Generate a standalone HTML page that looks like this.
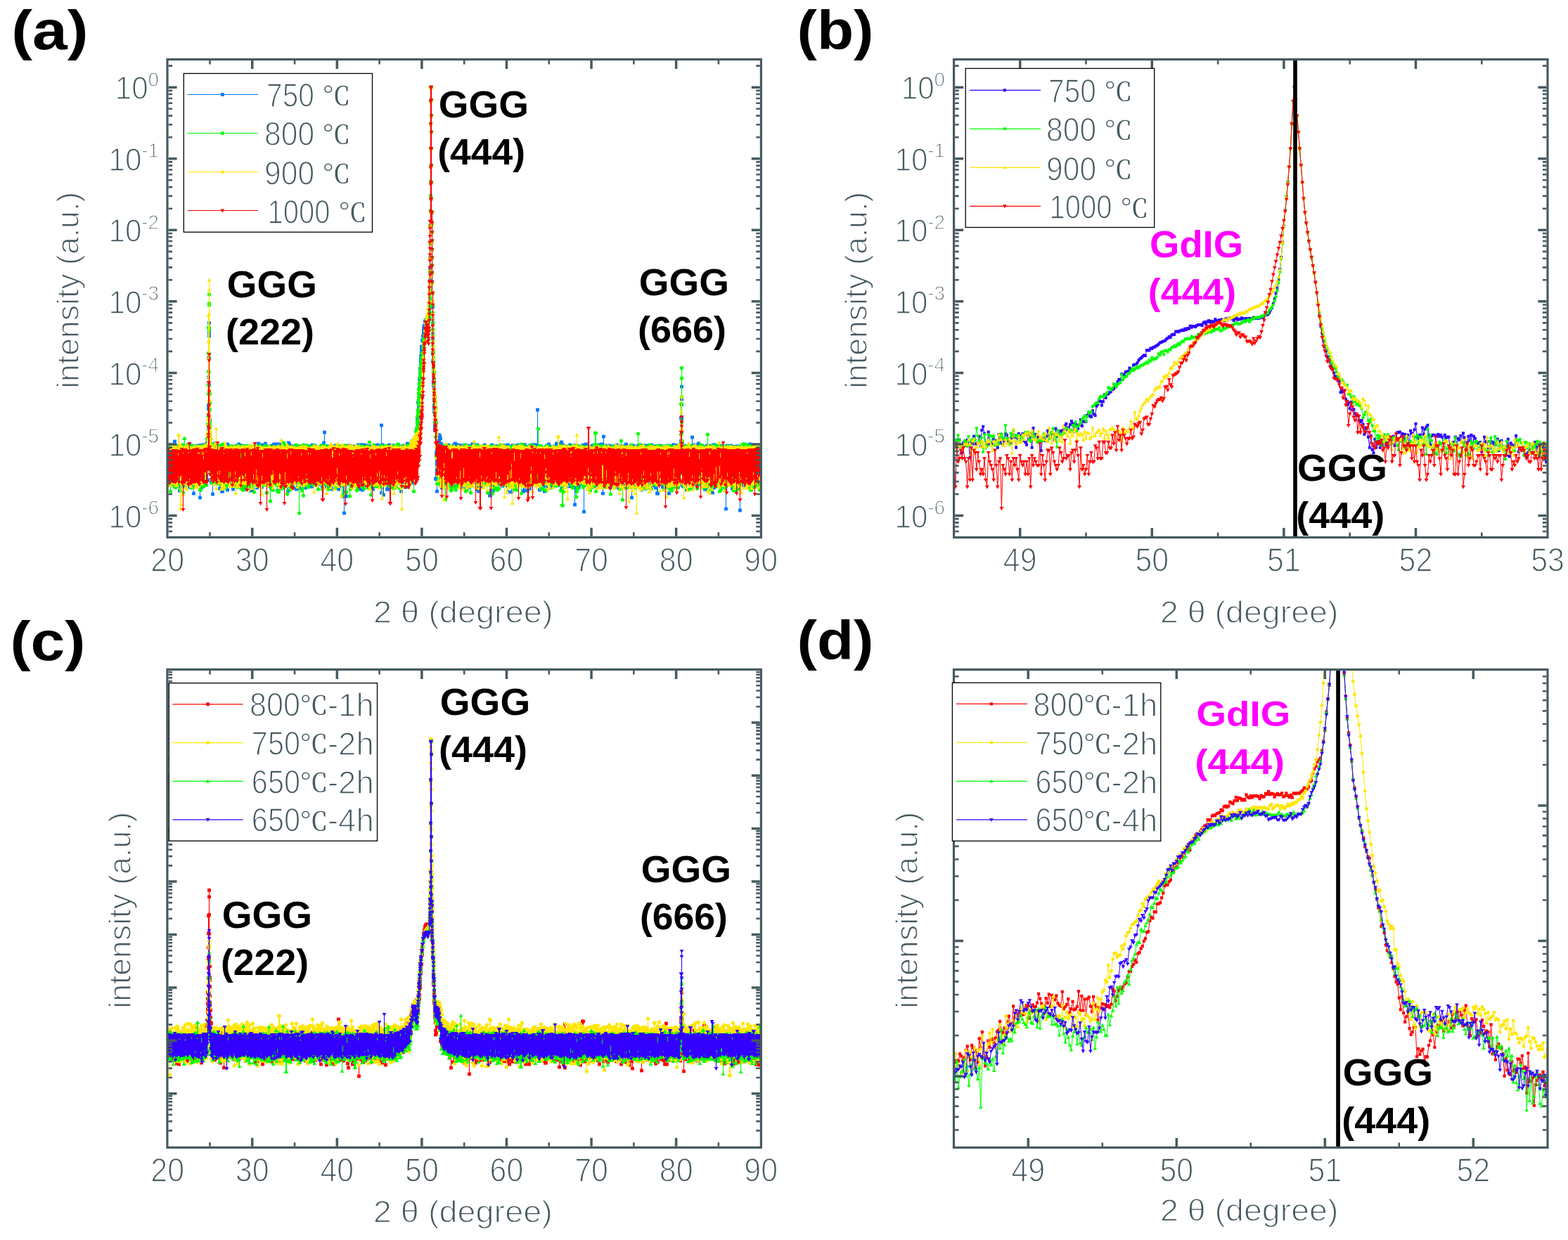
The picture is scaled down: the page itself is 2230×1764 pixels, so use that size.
<!DOCTYPE html>
<html><head><meta charset="utf-8"><title>XRD</title>
<style>html,body{margin:0;padding:0;background:#fff}svg{display:block}</style></head>
<body><svg xmlns="http://www.w3.org/2000/svg" width="2230" height="1764" viewBox="0 0 2230 1764">
<rect width="2230" height="1764" fill="#fff"/>
<defs><marker id="aB" markerUnits="userSpaceOnUse" markerWidth="1" markerHeight="1" overflow="visible" orient="0"><rect x="-2.4" y="-2.4" width="4.8" height="4.8" fill="#0078FF"/></marker><marker id="aG" markerUnits="userSpaceOnUse" markerWidth="1" markerHeight="1" overflow="visible" orient="0"><circle r="2.6" fill="#00FF00"/></marker><marker id="aY" markerUnits="userSpaceOnUse" markerWidth="1" markerHeight="1" overflow="visible" orient="0"><path d="M0 -2.91L2.91 2.12H-2.91z" fill="#FFE600"/></marker><marker id="aR" markerUnits="userSpaceOnUse" markerWidth="1" markerHeight="1" overflow="visible" orient="0"><path d="M0 2.91L2.91 -2.12H-2.91z" fill="#FF0000"/></marker><marker id="bB" markerUnits="userSpaceOnUse" markerWidth="1" markerHeight="1" overflow="visible" orient="0"><rect x="-2.0" y="-2.0" width="4.0" height="4.0" fill="#2C00FF"/></marker><marker id="bG" markerUnits="userSpaceOnUse" markerWidth="1" markerHeight="1" overflow="visible" orient="0"><circle r="2.2" fill="#00FF00"/></marker><marker id="bY" markerUnits="userSpaceOnUse" markerWidth="1" markerHeight="1" overflow="visible" orient="0"><path d="M0 -2.73L2.73 1.98H-2.73z" fill="#FFE600"/></marker><marker id="bR" markerUnits="userSpaceOnUse" markerWidth="1" markerHeight="1" overflow="visible" orient="0"><path d="M0 2.98L2.98 -2.16H-2.98z" fill="#FF0000"/></marker><marker id="cR" markerUnits="userSpaceOnUse" markerWidth="1" markerHeight="1" overflow="visible" orient="0"><rect x="-2.4" y="-2.4" width="4.8" height="4.8" fill="#FF0000"/></marker><marker id="cY" markerUnits="userSpaceOnUse" markerWidth="1" markerHeight="1" overflow="visible" orient="0"><circle r="2.6" fill="#FFE600"/></marker><marker id="cG" markerUnits="userSpaceOnUse" markerWidth="1" markerHeight="1" overflow="visible" orient="0"><path d="M0 -2.91L2.91 2.12H-2.91z" fill="#00FF00"/></marker><marker id="cB" markerUnits="userSpaceOnUse" markerWidth="1" markerHeight="1" overflow="visible" orient="0"><path d="M0 2.91L2.91 -2.12H-2.91z" fill="#3300FF"/></marker><marker id="dR" markerUnits="userSpaceOnUse" markerWidth="1" markerHeight="1" overflow="visible" orient="0"><rect x="-2.1" y="-2.1" width="4.2" height="4.2" fill="#FF0000"/></marker><marker id="dY" markerUnits="userSpaceOnUse" markerWidth="1" markerHeight="1" overflow="visible" orient="0"><circle r="2.4" fill="#FFE600"/></marker><marker id="dG" markerUnits="userSpaceOnUse" markerWidth="1" markerHeight="1" overflow="visible" orient="0"><path d="M0 -2.79L2.79 2.02H-2.79z" fill="#00FF00"/></marker><marker id="dB" markerUnits="userSpaceOnUse" markerWidth="1" markerHeight="1" overflow="visible" orient="0"><path d="M0 2.85L2.85 -2.07H-2.85z" fill="#3300FF"/></marker><clipPath id="clipa"><rect x="238.0" y="84.5" width="844.4000000000001" height="679.9"/></clipPath><clipPath id="clipb"><rect x="1356.6" y="84.5" width="844.4000000000001" height="680.0"/></clipPath><clipPath id="clipc"><rect x="237.9" y="952.4" width="844.5000000000001" height="680.0000000000001"/></clipPath><clipPath id="clipd"><rect x="1356.5" y="952.5" width="844.5" height="680.0"/></clipPath></defs>
<g clip-path="url(#clipa)"><path d="M238.5 636v49m1 -51v56m1 -54v51m1 -54v54m1 -49v49m1 -51v45m1 -38v31m1 -28v41m1 -46v46m1 -52v45m1 -52v60m1 -51v36m1 -36v53m1 -55v31m1 -30v38m1 -37v53m1 -55v51m1 -50v62m1 -63v57m1 -55v46m1 -47v36m1 -36v21m1 -23v57m1 -54v43m1 -40v53m1 -57v47m1 -46v49m1 -49v46m1 -49v48m1 -49v43m1 -39v44m1 -48v60m1 -57v43m1 -43v50m1 -52v57m1 -54v50m1 -39v37m1 -49v66m1 -62v47m1 -52v53m1 -51v39m1 -41v38m1 -38v48m1 -48v42m1 -43v53m1 -53v53m1 -52v73m1 -74v31m1 -31v42m1 -39v56m1 -60v53m1 -53v50m1 -47v52m1 -53v49m1 -50v46m1 -46v45m1 -49v53m1 -58v58m1 -173.9v27.8v40.3v4.1v10.1v19.3v7.1v7.6v6.5m1 -172.3v13.6v4.8v31.1v38.4v27.9v8.9v13.2v34.4m1 -34.9v65m1 -31v28m1 -17v44m1 -50v41m1 -40v66m1 -66v50m1 -50v51m1 -57v52m1 -52v57m1 -53v48m1 -48v50m1 -49v39m1 -39v51m1 -52v45m1 -45v60m1 -60v50m1 -50v54m1 -53v63m1 -62v62m1 -62v58m1 -59v33m1 -34v25m1 -25v52m1 -50v52m1 -52v52m1 -57v65m1 -62v50m1 -50v45m1 -42v36m1 -39v52m1 -50v39m1 -41v49m1 -48v54m1 -54v60m1 -59v53m1 -55v50m1 -50v25m1 -16v20m1 -27v53m1 -56v48m1 -47v49m1 -52v48m1 -43v44m1 -41v52m1 -58v51m1 -51v58m1 -55v48m1 -48v31m1 -31v54m1 -56v60m1 -58v59m1 -51v32m1 -41v34m1 -35v50m1 -50v49m1 -49v52m1 -51v54m1 -54v56m1 -56v62m1 -62v60m1 -61v47m1 -46v61m1 -61v26m1 -26v51m1 -51v42m1 -39v44m1 -46v39m1 -40v58m1 -58v38m1 -43v39m1 -34v45m1 -48v44m1 -43v54m1 -53v49m1 -51v60m1 -57v41m1 -41v35m1 -32v40m1 -43v35m1 -40v39m1 -35v52m1 -52v48m1 -47v40m1 -40v50m1 -46v41m1 -44v40m1 -42v50m1 -49v58m1 -60v58m1 -56v48m1 -47v34m1 -39v49m1 -48v37m1 -36v53m1 -55v55m1 -55v54m1 -51v63m1 -63v46m1 -45v39m1 -43v43m1 -40v50m1 -50v60m1 -61v46m1 -44v58m1 -59v59m1 -57v49m1 -51v52m1 -53v29m1 -26v30m1 -24v42m1 -48v40m1 -38v60m1 -69v61m1 -59v29m1 -26v45m1 -45v49m1 -49v48m1 -47v51m1 -52v52m1 -51v58m1 -57v41m1 -42v51m1 -53v46m1 -44v60m1 -57v48m1 -50v58m1 -60v44m1 -44v59m1 -58v44m1 -44v49m1 -50v48m1 -48v48m1 -46v52m1 -52v47m1 -50v46m1 -46v49m1 -46v57m1 -58v38m1 -35v49m1 -52v52m1 -52v53m1 -53v56m1 -56v47m1 -48v48m1 -48v57m1 -57v57m1 -59v58m1 -54v49m1 -50v53m1 -55v51m1 -48v51m1 -51v32m1 -19v34m1 -44v37m1 -40v52m1 -52v46m1 -46v51m1 -38v38m1 -32v28m1 -50v55m1 -52v57m1 -57v30m1 -37v57m1 -72v78m1 -57v48m1 -45v40m1 -44v49m1 -47v46m1 -48v57m1 -57v50m1 -50v58m1 -58v41m1 -39v52m1 -52v48m1 -49v60m1 -61v43m1 -41v51m1 -51v53m1 -56v47m1 -39v46m1 -53v48m1 -49v53m1 -49v37m1 -40v61m1 -61v38m1 -36v55m1 -55v54m1 -56v42m1 -42v43m1 -43v71m1 -63v63m1 -68v92m1 -95v50m1 -49v52m1 -53v71m1 -69v51m1 -54v44m1 -42v45m1 -45v32m1 -34v51m1 -49v52m1 -53v50m1 -38v40m1 -51v46m1 -42v35m1 -40v50m1 -48v53m1 -53v39m1 -39v53m1 -53v52m1 -52v46m1 -50v47m1 -44v49m1 -48v59m1 -59v39m1 -43v36m1 -34v43m1 -45v64m1 -62v48m1 -50v62m1 -53v50m1 -56v40m1 -42v41m1 -41v47m1 -45v55m1 -56v50m1 -48v48m1 -48v52m1 -54v44m1 -43v54m1 -54v47m1 -46v57m1 -45v47m1 -61v46m1 -47v39m1 -39v45m1 -44v45m1 -38v46m1 -53v53m1 -55v45m1 -42v56m1 -57v51m1 -51v45m1 -44v44m1 -75v96m1 -68v61m1 -60v56m1 -54v68m1 -61v47m1 -54v47m1 -36v35m1 -45v49m1 -49v59m1 -61v61m1 -61v47m1 -49v53m1 -51v48m1 -48v52m1 -52v42m1 -40v37m1 -40v38m1 -38v53m1 -50v46m1 -46v49m1 -49v45m1 -46v52m1 -51v41m1 -39v46m1 -50v50m1 -49v34m1 -35v36m1 -34v50m1 -50v62m1 -62v48m1 -50v50m1 -49v50m1 -52v52m1 -50v47m1 -46v56m1 -58v58m1 -56v50m1 -56v61m1 -55v33m1 -34v33m1 -35v49m1 -49v46m1 -46v44m1 -45v54m1 -54v39m1 -31v36m1 -49v31m1 -33v38m1 -34v40m1 -45v37m1 -51v51m1 -65v32m1 -56.5v19v3.3v5.9v3.2v12.9m1 -57.5v14.1v5.7v5v7.4m1 -52.3v5.9v5.5v2.9v5.8v4.4m1 -39.3v8.1v3.5v2.7v.5m1 -32.2v3.7v3.1v3v3v4.6m1 -31.3v2.8v3.3v3.1v3.1v1.6m1 -23v10m1 -16v7m1 -18.2v2.5v2.8v3.8v3.9m1 -16.8v5m1 -11v9m1 -10v4m1 -6v6m1 -8v6m1 -6v6m1 -8v6m1 -17.7v3.3v4.2v2.5v2.8v2.5m1 -132.1v23.7v21.9v15.2v16.8v9.9v8.5v6.7v8v6.1m1 -314.2v20v32.3v35.1v25.6v21.8v20.1v20.9v21.6m1 -197.4v18.3v22.6v23.1v23.4v23.7v24.5v23.2v19.3v19.3m1 -19.3v15.1v13.1v12.3v12.5v11.9v10.9v10v12.8v15.8m1 0v20.1v17v8.3v11.2v9.1v11v10.4v9.5m1 0v3.7v4.4v3.6v17.5v2.6v4.1m1 -6.7v6.3v14.8v2.6v3.4v7v4.6v4.9m1 -4.9v8.4v13.6v3.6v4v1.7m1 -5.4v74m1 -37v38m1 -50v67m1 -72v44m1 -52v40m1 -40v37m1 -36v34m1 -30v35m1 -28v57m1 -54v60m1 -60v50m1 -47v49m1 -51v54m1 -52v51m1 -53v53m1 -51v38m1 -40v48m1 -48v46m1 -48v55m1 -49v49m1 -43v49m1 -58v39m1 -40v36m1 -35v51m1 -41v41m1 -53v52m1 -49v49m1 -54v46m1 -47v59m1 -54v54m1 -57v50m1 -47v51m1 -54v50m1 -49v46m1 -43v55m1 -55v42m1 -45v53m1 -51v50m1 -52v40m1 -38v57m1 -56v49m1 -48v42m1 -47v37m1 -34v49m1 -50v49m1 -45v44m1 -49v49m1 -46v56m1 -58v54m1 -54v42m1 -33v46m1 -53v48m1 -53v35m1 -34v48m1 -48v50m1 -47v46m1 -46v50m1 -35v18m1 -34v39m1 -41v63m1 -61v61m1 -61v64m1 -63v48m1 -48v48m1 -48v55m1 -55v56m1 -56v41m1 -41v47m1 -41v41m1 -48v50m1 -52v52m1 -49v51m1 -51v40m1 -40v49m1 -49v33m1 -32v39m1 -39v43m1 -43v68m1 -70v70m1 -70v49m1 -51v54m1 -45v45m1 -48v59m1 -62v53m1 -50v35m1 -39v55m1 -53v59m1 -61v53m1 -52v47m1 -48v49m1 -48v48m1 -49v53m1 -51v52m1 -52v33m1 -30v48m1 -54v57m1 -56v56m1 -52v50m1 -55v45m1 -45v53m1 -50v52m1 -50v46m1 -47v53m1 -58v67m1 -63v36m1 -36v49m1 -49v44m1 -35v37m1 -47v64m1 -66v49m1 -49v58m1 -55v50m1 -51v50m1 -51v56m1 -57v52m1 -50v54m1 -55v35m1 -28v37m1 -46v54m1 -47v49m1 -52v39m1 -39v47m1 -47v52m1 -54v43m1 -42v43m1 -39v59m1 -66v65m1 -65v56m1 -53v45m1 -45v32m1 -31v56m1 -57v62m1 -61v42m1 -40v44m1 -49v61m1 -61v52m1 -36v35m1 -52v54m1 -53v36m1 -37v51m1 -48v34m1 -37v37m1 -25v35m1 -43v47m1 -51v41m1 -91v105m1 -51v50m1 -37v36m1 -49v60m1 -61v47m1 -48v45m1 -43v51m1 -51v51m1 -51v47m1 -38v45m1 -53v61m1 -62v50m1 -45v45m1 -53v49m1 -49v58m1 -58v38m1 -40v51m1 -46v46m1 -47v47m1 -46v57m1 -57v55m1 -56v40m1 -40v54m1 -53v51m1 -53v56m1 -55v50m1 -51v44m1 -48v54m1 -53v29m1 -29v54m1 -54v58m1 -55v30m1 -29v49m1 -41v46m1 -61v67m1 -63v61m1 -61v51m1 -47v40m1 -40v36m1 -36v39m1 -41v51m1 -49v48m1 -48v47m1 -47v53m1 -54v56m1 -55v50m1 -54v55m1 -53v46m1 -45v55m1 -54v55m1 -38v38m1 -56v47m1 -49v50m1 -48v82m1 -84v50m1 -50v65m1 -64v59m1 -58v57m1 -58v52m1 -49v55m1 -56v51m1 -46v40m1 -45v47m1 -49v53m1 -46v44m1 -53v54m1 -46v87m1 -88v43m1 -47v54m1 -58v46m1 -42v53m1 -53v52m1 -52v51m1 -50v42m1 -43v56m1 -35v29m1 -50v34m1 -33v52m1 -55v55m1 -52v46m1 -46v40m1 -44v57m1 -56v58m1 -55v42m1 -45v35m1 -34v51m1 -50v46m1 -46v27m1 -30v56m1 -48v44m1 -46v44m1 -51v46m1 -43v48m1 -49v68m1 -81v59m1 -44v42m1 -44v49m1 -46v50m1 -50v46m1 -48v51m1 -50v50m1 -50v53m1 -55v53m1 -49v55m1 -49v49m1 -57v48m1 -49v52m1 -50v50m1 -52v42m1 -41v51m1 -52v32m1 -32v49m1 -48v49m1 -52v58m1 -54v40m1 -40v57m1 -58v47m1 -41v37m1 -44v54m1 -53v53m1 -53v53m1 -53v50m1 -51v50m1 -50v54m1 -52v56m1 -59v59m1 -61v39m1 -36v49m1 -41v48m1 -55v41m1 -41v54m1 -39v37m1 -40v42m1 -56v49m1 -48v73m1 -69v38m1 -43v48m1 -45v47m1 -47v42m1 -44v55m1 -50v49m1 -52v54m1 -56v53m1 -38v37m1 -53v54m1 -54v49m1 -50v51m1 -47v48m1 -37v49m1 -60v53m1 -56v53m1 -53v37m1 -35v48m1 -48v50m1 -50v41m1 -43v54m1 -51v57m1 -48v46m1 -51v48m1 -53v32m1 -32v35m1 -34v50m1 -54v49m1 -47v56m1 -56v43m1 -43v35m1 -34v48m1 -49v55m1 -54v58m1 -59v34m1 -32v65m1 -66v66m1 -66v50m1 -50v50m1 -52v23m1 -22v48m1 -47v42m1 -35v46m1 -54v58m1 -48v43m1 -51v49m1 -50v50m1 -51v51m1 -51v58m1 -56v54m1 -48v40m1 -48v51m1 -52v68m1 -65v36m1 -38v54m1 -53v50m1 -49v55m1 -56v42m1 -45v23m1 -23v50m1 -48v58m1 -55v40m1 -38v41m1 -47v42m1 -42v38m1 -38v59m1 -46v27m1 -38v54m1 -55v35m1 -75.7v33v4.2v3.7v9.4v8.4v4.6v8.6v3.9m1 -120.1v17.9v7.5v18.9v4.3v17.4v19.2v14.2v12.2v8.5m1 -38.1v40m1 -36v56m1 -58v44m1 -42v43m1 -42v54m1 -56v48m1 -47v61m1 -62v62m1 -62v38m1 -38v46m1 -44v44m1 -47v31m1 -30v49m1 -36v40m1 -66v72m1 -59v55m1 -57v40m1 -27v37m1 -47v52m1 -47v40m1 -44v52m1 -52v55m1 -59v48m1 -50v43m1 -36v45m1 -46v52m1 -53v50m1 -52v26m1 -26v52m1 -51v47m1 -45v38m1 -38v50m1 -50v59m1 -60v60m1 -56v50m1 -56v59m1 -47v27m1 -36v47m1 -48v50m1 -50v55m1 -57v47m1 -44v47m1 -49v47m1 -46v65m1 -61v44m1 -51v61m1 -61v42m1 -38v48m1 -50v45m1 -45v52m1 -42v47m1 -56v56m1 -57v56m1 -54v46m1 -46v48m1 -31v32m1 -51v56m1 -57v55m1 -52v51m1 -45v39m1 -45v41m1 -40v58m1 -60v88m1 -88v33m1 -35v52m1 -51v53m1 -51v52m1 -52v52m1 -49v50m1 -56v40m1 -39v51m1 -50v59m1 -59v52m1 -42v38m1 -47v58m1 -58v60m1 -61v61m1 -62v57m1 -56v59m1 -60v60m1 -58v50m1 -50v44m1 -45v90m1 -89v50m1 -52v54m1 -54v54m1 -54v54m1 -57v52m1 -48v55m1 -54v54m1 -54v40m1 -40v47m1 -41v35m1 -43v43m1 -43v52m1 -51v27m1 -31v57m1 -56v47m1 -47v40m1 -38v35m1 -34v48m1 -48v52m1 -52v54m1 -55v57m1 -58v56m1 -56v48m1 -45v49m1 -50v50m1 -50v51m1 -41v43m1 -48v42m1 -47v53m1 -55v13" fill="none" stroke="#0078FF" stroke-width="1.1" stroke-linejoin="round" marker-start="url(#aB)" marker-mid="url(#aB)" marker-end="url(#aB)"/><path d="M238.5 647v7m1 -19v34m1 -31v48m1 -48v40m1 -40v61m1 -60v51m1 -54v52m1 -53v54m1 -53v45m1 -45v53m1 -45v49m1 -49v49m1 -58v58m1 -57v49m1 -44v50m1 -53v49m1 -49v50m1 -50v33m1 -35v61m1 -59v47m1 -47v53m1 -58v38m1 -38v68m1 -65v36m1 -48v59m1 -46v48m1 -49v36m1 -34v47m1 -47v41m1 -40v50m1 -57v53m1 -48v49m1 -46v40m1 -45v41m1 -38v56m1 -60v52m1 -51v51m1 -49v48m1 -49v55m1 -54v42m1 -42v35m1 -35v42m1 -44v44m1 -44v44m1 -43v45m1 -43v50m1 -51v60m1 -51v51m1 -61v35m1 -37v57m1 -54v41m1 -43v57m1 -57v46m1 -44v42m1 -39v50m1 -57v57m1 -66v48m1 -69v58m1 -195.1v36.4v26v19.5v12.7v31.9v10.9v3.4m1 -187.9v12.7v2.6v31.8v3.6v34.2v26.3v30.2v46.5m1 -46.2v12.9v9.3v18.5v4.1v2.7v10.9v23m1 -16.9v37m1 -31v40m1 -36v52m1 -51v48m1 -49v34m1 -34v38m1 -38v53m1 -52v49m1 -50v30m1 -28v46m1 -47v39m1 -38v38m1 -41v54m1 -54v51m1 -49v53m1 -51v46m1 -48v48m1 -52v61m1 -61v52m1 -46v48m1 -49v48m1 -50v59m1 -57v42m1 -38v50m1 -54v32m1 -26v45m1 -51v52m1 -44v39m1 -49v41m1 -41v56m1 -54v54m1 -54v31m1 -33v49m1 -48v48m1 -48v40m1 -40v50m1 -50v51m1 -50v56m1 -59v39m1 -36v39m1 -41v49m1 -49v52m1 -52v55m1 -54v58m1 -58v52m1 -52v60m1 -61v62m1 -63v63m1 -47v38m1 -53v39m1 -36v54m1 -55v36m1 -35v35m1 -39v54m1 -52v52m1 -50v54m1 -57v48m1 -46v49m1 -50v45m1 -43v52m1 -54v52m1 -49v41m1 -45v65m1 -65v51m1 -50v50m1 -51v54m1 -53v49m1 -49v28m1 -27v54m1 -54v49m1 -52v41m1 -39v47m1 -36v29m1 -39v54m1 -54v43m1 -44v42m1 -42v48m1 -46v47m1 -51v52m1 -50v54m1 -53v64m1 -64v37m1 -37v50m1 -52v44m1 -42v55m1 -56v77m1 -77v53m1 -52v55m1 -47v52m1 -60v60m1 -61v42m1 -41v51m1 -50v48m1 -49v32m1 -31v52m1 -54v63m1 -63v44m1 -43v63m1 -63v44m1 -46v37m1 -34v40m1 -40v57m1 -60v50m1 -55v51m1 -51v64m1 -60v51m1 -50v44m1 -44v50m1 -50v41m1 -42v69m1 -68v56m1 -55v55m1 -55v46m1 -46v61m1 -61v56m1 -42v42m1 -54v49m1 -50v49m1 -48v47m1 -49v32m1 -27v43m1 -42v37m1 -46v52m1 -47v47m1 -50v58m1 -57v45m1 -40v89m1 -93v51m1 -51v49m1 -51v37m1 -38v64m1 -61v58m1 -62v72m1 -70v42m1 -40v47m1 -48v51m1 -50v52m1 -55v55m1 -55v51m1 -47v55m1 -56v53m1 -53v49m1 -49v47m1 -47v48m1 -49v50m1 -50v46m1 -48v56m1 -56v52m1 -49v53m1 -53v38m1 -37v46m1 -48v51m1 -51v48m1 -47v59m1 -59v29m1 -27v31m1 -33v46m1 -49v50m1 -50v55m1 -54v61m1 -56v35m1 -38v45m1 -46v49m1 -51v54m1 -51v51m1 -51v51m1 -51v50m1 -51v60m1 -44v44m1 -59v42m1 -41v50m1 -51v54m1 -55v48m1 -47v45m1 -45v47m1 -49v33m1 -31v41m1 -41v47m1 -47v57m1 -57v49m1 -49v48m1 -50v49m1 -46v41m1 -42v51m1 -53v53m1 -53v51m1 -48v50m1 -51v50m1 -50v67m1 -63v48m1 -48v41m1 -48v38m1 -35v32m1 -20v51m1 -64v47m1 -48v27m1 -25v51m1 -52v47m1 -46v69m1 -70v60m1 -41v38m1 -58v35m1 -33v33m1 -32v49m1 -49v31m1 -32v54m1 -54v52m1 -52v46m1 -47v62m1 -61v59m1 -59v36m1 -39v43m1 -40v36m1 -33v34m1 -38v41m1 -42v56m1 -55v32m1 -32v56m1 -54v57m1 -59v50m1 -50v50m1 -49v47m1 -47v52m1 -54v53m1 -50v56m1 -58v58m1 -65v58m1 -49v52m1 -52v66m1 -66v49m1 -50v40m1 -30v37m1 -51v56m1 -51v49m1 -27v27m1 -50v55m1 -55v35m1 -34v45m1 -45v54m1 -56v52m1 -52v56m1 -56v51m1 -53v54m1 -45v41m1 -47v54m1 -44v33m1 -36v42m1 -51v49m1 -47v45m1 -48v53m1 -51v45m1 -46v52m1 -51v52m1 -52v53m1 -52v48m1 -49v55m1 -55v38m1 -37v50m1 -53v53m1 -19v26m1 -59v40m1 -39v59m1 -60v50m1 -42v49m1 -58v59m1 -58v53m1 -56v47m1 -47v48m1 -29v23m1 -37v58m1 -59v48m1 -48v38m1 -37v36m1 -35v36m1 -39v42m1 -43v43m1 -39v54m1 -55v38m1 -38v46m1 -45v52m1 -55v31m1 -31v53m1 -55v55m1 -55v31m1 -31v51m1 -53v50m1 -54v53m1 -51v49m1 -51v44m1 -45v73m1 -74v36m1 -19v30m1 -58v46m1 -50v43m1 -60v6.5v2.8v4.1v15.3v6.6m1 -44.9v2.7v3.7v8.7v10.4v3.7m1 -59.4v5.7v5.4v4v3.9v3.3v9m1 -39.9v2.8v5.8v3.7v4m1 -33.1v4.9v2.7v3.3v7.2v8m1 -35.3v3.3v2.6v3.3v9.8m1 -29.3v4.4v3.6v3.1v2.6v1.6m1 -21.6v9m1 -17v10m1 -21.3v3.9v3.3v4.6v1.5m1 -19v10m1 -16v9m1 -11v7m1 -12v7m1 -10v4m1 -11v8m1 -12v7m1 -21.4v3.9v3.8v3.7v3.1v1.3m1 -129.4v24.3v21.6v18.6v14.5v12.5v9.2v5.4v3.7v3.8m1 -311.4v19.9v32.1v35.4v25.3v21.7v20.1v21v22.3m1 -197.8v18.3v22.4v23.3v23.3v23.8v24.3v23.4v18.9v20.1m1 -20.1v16.2v12.1v12.5v11.8v12.1v10.5v11.5v14.1v14.5m1 0v16.7v11.2v13.9v9.7v8.4v8.5v6.6v8.6m1 0v5.7v5v5.6v6v4.3v1.8m1 0v9.1v4.9v3.3v8.7v3v9.2m1 -2.9v2.9v6v6.3v9v12.3m1 -20.2v13.7v4.8v2.9v19.2m1 -20.4v48m1 -14v53m1 -45v32m1 -41v25m1 -25v45m1 -42v50m1 -50v54m1 -43v29m1 -34v44m1 -52v38m1 -37v36m1 -37v52m1 -50v40m1 -43v77m1 -76v52m1 -44v27m1 -34v53m1 -54v54m1 -53v58m1 -59v28m1 -20v42m1 -48v61m1 -55v54m1 -61v38m1 -39v48m1 -47v57m1 -56v50m1 -51v51m1 -43v53m1 -60v40m1 -32v39m1 -48v56m1 -55v53m1 -53v54m1 -43v30m1 -40v50m1 -50v51m1 -51v38m1 -39v42m1 -43v49m1 -49v37m1 -40v41m1 -39v64m1 -62v59m1 -59v59m1 -59v52m1 -52v35m1 -37v46m1 -45v44m1 -35v56m1 -61v36m1 -39v51m1 -51v41m1 -42v36m1 -35v35m1 -38v50m1 -47v47m1 -50v43m1 -42v45m1 -45v54m1 -54v54m1 -52v48m1 -50v56m1 -52v43m1 -47v35m1 -34v52m1 -53v55m1 -53v48m1 -49v46m1 -46v41m1 -42v37m1 -36v53m1 -53v54m1 -53v64m1 -65v40m1 -40v44m1 -43v46m1 -48v26m1 -24v54m1 -56v46m1 -41v62m1 -66v49m1 -50v50m1 -44v53m1 -53v55m1 -59v58m1 -51v43m1 -50v60m1 -62v40m1 -38v58m1 -60v41m1 -43v43m1 -41v50m1 -50v35m1 -33v53m1 -52v32m1 -34v35m1 -36v36m1 -34v48m1 -49v39m1 -39v34m1 -33v49m1 -50v36m1 -36v53m1 -51v54m1 -56v54m1 -53v53m1 -40v34m1 -48v49m1 -49v51m1 -53v47m1 -45v60m1 -60v56m1 -55v56m1 -57v61m1 -60v46m1 -46v36m1 -38v48m1 -49v49m1 -47v39m1 -42v57m1 -58v70m1 -65v41m1 -43v26m1 -26v52m1 -53v50m1 -46v50m1 -47v46m1 -49v18m1 -19v35m1 -35v43m1 -44v48m1 -48v53m1 -47v47m1 -52v52m1 -56v50m1 -48v51m1 -50v45m1 -30v38m1 -53v50m1 -51v49m1 -47v38m1 -38v44m1 -44v47m1 -47v46m1 -73v73m1 -46v49m1 -49v45m1 -48v51m1 -47v57m1 -50v41m1 -48v49m1 -49v58m1 -59v50m1 -51v37m1 -37v36m1 -34v60m1 -61v51m1 -54v29m1 -28v38m1 -36v33m1 -32v37m1 -34v46m1 -49v49m1 -49v51m1 -53v49m1 -31v32m1 -50v53m1 -53v55m1 -53v47m1 -47v46m1 -47v53m1 -54v55m1 -54v47m1 -41v42m1 -49v20m1 -21v49m1 -27v41m1 -64v46m1 -42v81m1 -82v82m1 -83v64m1 -63v47m1 -49v54m1 -53v53m1 -52v48m1 -47v38m1 -38v45m1 -48v29m1 -22v42m1 -47v47m1 -47v40m1 -41v54m1 -53v40m1 -43v60m1 -56v45m1 -47v53m1 -54v50m1 -41v41m1 -47v69m1 -73v65m1 -62v36m1 -35v57m1 -58v48m1 -50v46m1 -43v47m1 -48v48m1 -50v52m1 -49v51m1 -46v50m1 -57v51m1 -47v46m1 -49v53m1 -46v46m1 -50v33m1 -37v51m1 -52v45m1 -43v57m1 -58v48m1 -47v61m1 -61v46m1 -46v46m1 -46v56m1 -55v50m1 -52v55m1 -58v55m1 -72v66m1 -66v83m1 -66v57m1 -55v53m1 -53v54m1 -52v47m1 -47v50m1 -41v39m1 -48v50m1 -53v41m1 -37v46m1 -47v50m1 -49v49m1 -52v57m1 -56v54m1 -38v41m1 -56v55m1 -56v26m1 -27v16m1 -14v51m1 -52v48m1 -48v47m1 -40v60m1 -62v47m1 -52v53m1 -52v24m1 -26v52m1 -51v42m1 -42v57m1 -57v40m1 -39v48m1 -48v48m1 -48v41m1 -41v48m1 -49v40m1 -35v55m1 -58v29m1 -40v59m1 -49v46m1 -47v75m1 -76v47m1 -46v43m1 -40v41m1 -42v48m1 -49v34m1 -34v57m1 -58v45m1 -44v50m1 -51v42m1 -41v43m1 -46v54m1 -55v51m1 -37v41m1 -51v48m1 -38v39m1 -48v38m1 -40v45m1 -38v51m1 -57v51m1 -51v34m1 -34v55m1 -75v75m1 -55v52m1 -56v52m1 -50v52m1 -50v48m1 -44v48m1 -51v36m1 -37v24m1 -26v46m1 -46v58m1 -56v58m1 -55v55m1 -59v35m1 -33v46m1 -43v49m1 -55v46m1 -48v44m1 -41v34m1 -27v27m1 -36v62m1 -60v48m1 -44v43m1 -47v52m1 -51v42m1 -43v21m1 -20v51m1 -51v53m1 -53v43m1 -46v48m1 -46v50m1 -50v49m1 -50v39m1 -39v34m1 -33v28m1 -27v49m1 -49v50m1 -39v32m1 -45v62m1 -62v55m1 -51v51m1 -54v49m1 -48v54m1 -53v52m1 -56v46m1 -42v38m1 -42v61m1 -59v55m1 -55v47m1 -43v58m1 -57v50m1 -42v44m1 -57v48m1 -48v55m1 -53v39m1 -40v54m1 -56v49m1 -37v47m1 -44v40m1 -53v50m1 -50v50m1 -54v41m1 -99.5v43.7v13.2v3.2v6.9v9.6v10.9m1 -138.6v14.8v26.3v10v26.1v17.4v10v15.3v18.7m1 -35v36m1 -29v53m1 -51v55m1 -55v51m1 -50v51m1 -51v49m1 -51v28m1 -28v44m1 -42v38m1 -42v29m1 -25v59m1 -62v50m1 -48v50m1 -48v48m1 -36v43m1 -58v45m1 -45v54m1 -53v49m1 -50v51m1 -51v51m1 -49v45m1 -45v58m1 -59v51m1 -49v37m1 -40v53m1 -50v48m1 -53v53m1 -49v47m1 -50v52m1 -49v49m1 -46v54m1 -57v48m1 -49v58m1 -58v51m1 -50v51m1 -51v53m1 -72v61m1 -42v54m1 -54v41m1 -42v48m1 -47v60m1 -61v61m1 -63v58m1 -51v51m1 -55v47m1 -47v49m1 -49v47m1 -50v55m1 -55v47m1 -46v49m1 -49v44m1 -42v47m1 -43v51m1 -56v63m1 -63v57m1 -57v61m1 -58v54m1 -58v57m1 -47v47m1 -58v54m1 -50v50m1 -52v53m1 -52v56m1 -56v54m1 -56v44m1 -44v51m1 -50v32m1 -19v33m1 -37v27m1 -35v42m1 -42v27m1 -28v48m1 -46v54m1 -55v61m1 -61v59m1 -58v56m1 -58v53m1 -40v47m1 -60v36m1 -34v58m1 -60v53m1 -52v53m1 -55v44m1 -44v45m1 -44v51m1 -51v48m1 -52v52m1 -52v46m1 -44v51m1 -48v47m1 -52v55m1 -41v42m1 -55v50m1 -34v42m1 -51v54m1 -59v45m1 -36v50m1 -50v53m1 -63v63m1 -60v40m1 -37v54m1 -56v48m1 -50v50m1 -50v44m1 -46v46m1 -44v34m1 -35v57m1 -54v51m1 -48v34m1 -39v34m1 -33v60m1 -59v50m1 -51v51" fill="none" stroke="#00FF00" stroke-width="1.1" stroke-linejoin="round" marker-start="url(#aG)" marker-mid="url(#aG)" marker-end="url(#aG)"/><path d="M238.5 636v37m1 -35v49m1 -50v52m1 -51v41m1 -40v52m1 -56v44m1 -40v48m1 -52v28m1 -27v29m1 -27v50m1 -45v44m1 -53v53m1 -48v52m1 -54v54m1 -53v49m1 -68v54m1 -54v67m1 -48v40m1 -44v90m1 -90v51m1 -48v81m1 -81v51m1 -50v65m1 -66v44m1 -45v51m1 -49v56m1 -57v51m1 -54v62m1 -59v49m1 -48v52m1 -53v43m1 -44v49m1 -49v30m1 -27v53m1 -54v34m1 -35v47m1 -47v49m1 -49v51m1 -49v46m1 -50v59m1 -56v56m1 -55v54m1 -57v57m1 -58v37m1 -31v33m1 -38v55m1 -56v43m1 -41v48m1 -48v51m1 -52v52m1 -52v31m1 -31v43m1 -45v40m1 -39v38m1 -38v45m1 -47v52m1 -67v54m1 -75.8v8v10.4v3.8v14.1v3.8v4m1 -191.8v37.4v23.6v27v13.4v19.4v16.9v10.8m1 -198.7v14.4v33.7v37.4v21.6v24.5v26v41.1m1 -41.1v12.9v9.3v15.9v12.9v5.2v7.6v16.8m1 -22.5v44m1 -35v43m1 -31v42m1 -42v44m1 -28v30m1 -44v52m1 -58v50m1 -30v32m1 -73v85m1 -57v46m1 -48v50m1 -50v51m1 -49v49m1 -48v41m1 -42v37m1 -37v58m1 -59v59m1 -53v50m1 -55v57m1 -58v54m1 -56v58m1 -62v46m1 -42v51m1 -50v44m1 -41v48m1 -50v49m1 -47v22m1 -22v51m1 -54v40m1 -40v56m1 -55v52m1 -50v50m1 -51v54m1 -57v57m1 -54v46m1 -47v51m1 -51v65m1 -59v40m1 -47v56m1 -57v39m1 -36v51m1 -53v53m1 -50v53m1 -36v33m1 -53v44m1 -43v51m1 -53v49m1 -40v43m1 -37v38m1 -52v52m1 -41v26m1 -37v49m1 -48v47m1 -49v51m1 -51v62m1 -62v31m1 -25v43m1 -47v47m1 -47v58m1 -62v62m1 -58v42m1 -41v47m1 -47v47m1 -47v51m1 -54v37m1 -37v50m1 -46v53m1 -55v48m1 -41v42m1 -49v37m1 -37v40m1 -41v37m1 -35v65m1 -66v66m1 -66v37m1 -33v46m1 -49v42m1 -43v51m1 -49v49m1 -50v44m1 -43v52m1 -53v46m1 -46v53m1 -56v50m1 -47v50m1 -51v42m1 -41v41m1 -41v52m1 -41v40m1 -53v58m1 -57v47m1 -47v43m1 -44v40m1 -39v49m1 -49v46m1 -38v44m1 -54v40m1 -40v47m1 -44v54m1 -54v56m1 -45v45m1 -68v58m1 -50v32m1 -28v50m1 -50v50m1 -50v28m1 -28v47m1 -48v51m1 -53v27m1 -29v58m1 -56v56m1 -53v49m1 -49v53m1 -54v40m1 -41v41m1 -41v49m1 -47v57m1 -59v50m1 -50v49m1 -48v51m1 -45v45m1 -50v40m1 -40v45m1 -44v44m1 -45v55m1 -56v41m1 -34v46m1 -52v46m1 -49v36m1 -34v46m1 -46v49m1 -48v51m1 -54v43m1 -42v55m1 -55v49m1 -49v47m1 -47v52m1 -51v39m1 -38v34m1 -34v47m1 -34v34m1 -47v43m1 -34v34m1 -44v48m1 -40v38m1 -42v44m1 -49v49m1 -50v65m1 -65v41m1 -40v38m1 -38v49m1 -49v27m1 -24v52m1 -55v46m1 -43v46m1 -48v51m1 -51v51m1 -48v34m1 -37v46m1 -47v31m1 -31v59m1 -59v57m1 -56v44m1 -45v48m1 -46v48m1 -47v63m1 -63v36m1 -32v44m1 -52v50m1 -47v47m1 -49v48m1 -52v62m1 -62v47m1 -43v54m1 -55v26m1 -23v48m1 -50v60m1 -59v53m1 -50v49m1 -55v47m1 -47v50m1 -53v54m1 -48v55m1 -54v48m1 -48v45m1 -45v36m1 -40v72m1 -68v51m1 -56v38m1 -33v48m1 -48v52m1 -53v51m1 -51v51m1 -52v50m1 -50v43m1 -43v45m1 -44v39m1 -42v45m1 -33v37m1 -47v50m1 -52v45m1 -45v60m1 -57v54m1 -54v58m1 -58v48m1 -48v51m1 -53v56m1 -55v43m1 -42v52m1 -54v50m1 -49v40m1 -40v45m1 -45v45m1 -42v41m1 -34v42m1 -51v48m1 -49v48m1 -46v47m1 -30v22m1 -39v31m1 -31v47m1 -49v52m1 -52v52m1 -50v54m1 -55v55m1 -55v52m1 -51v58m1 -58v58m1 -57v46m1 -48v38m1 -41v46m1 -42v47m1 -32v37m1 -54v49m1 -48v32m1 -33v50m1 -49v51m1 -51v43m1 -38v48m1 -54v50m1 -47v55m1 -55v49m1 -50v47m1 -48v37m1 -38v73m1 -73v53m1 -48v50m1 -54v45m1 -46v54m1 -53v50m1 -52v44m1 -41v28m1 -29v44m1 -43v47m1 -49v28m1 -27v43m1 -45v46m1 -47v52m1 -48v30m1 -29v33m1 -29v44m1 -41v56m1 -66v44m1 -45v58m1 -55v51m1 -51v48m1 -50v51m1 -50v50m1 -33v25m1 -41v49m1 -51v56m1 -55v58m1 -58v87m1 -87v45m1 -44v44m1 -45v44m1 -46v54m1 -54v49m1 -48v49m1 -48v39m1 -38v50m1 -49v45m1 -48v58m1 -59v47m1 -49v54m1 -59v47m1 -47v39m1 -39v38m1 -41v50m1 -52v40m1 -42v42m1 -44v41m1 -42v43m1 -44v43m1 -43v35m1 -36v40m1 -43v43m1 -42v39m1 -46v35m1 -62.5v9.5v7.2v7.6v10.6v4.3m1 -62.8v11.6v3.6v3.7v4.7v3.2v6.1v3.6m1 -49.8v3.4v3.7v3.9v2.7v5.2v4.2m1 -45.1v6.6v3.7v12.9v2.2m1 -44.9v5.7v2.9v3.4v4.8v5.7v3.6m1 -40.6v2.8v6v4.1v1.6m1 -31.8v4.7v3v6.5v3.1m1 -27.6v10m1 -18.5v3v3.3v4.7v1.7m1 -16.2v7m1 -15v9m1 -18v10m1 -23.5v3.4v7.1v2.5v.9m1 -109.3v24.2v21v17.3v10.3v5.1v5v4.7v5.1v2.7m1 -292.3v19.9v32.2v35.1v25.5v22.5v20.9v19.5v21.3m1 -196.9v18.2v22.4v23.4v23.4v23.8v24.1v22.9v19.5v19.2m1 -19.2v15.6v13v13.4v11.4v11.1v12v10.8v13.8v12.8m1 0v11.8v18.1v6.7v10v8.5v6.8v6.5v8.7m1 0v4.6v7.3v5.5v6.4v2.8v6.3m1 0v6.3v9.1v6.3v4.7v2.7v7v2.2m1 -6.3v2.9v2.6v2.9v3.8v13.5m1 -13.7v5.6v6.4v4.2v7.2v.7m1 -7.9v20.3v4.1v2.9v4.6v11.1v6.4v16.4m1 -33.8v46m1 -32v44m1 -42v50m1 -39v28m1 -28v32m1 -39v54m1 -56v56m1 -55v49m1 -47v52m1 -53v56m1 -58v75m1 -74v47m1 -47v41m1 -47v39m1 -33v54m1 -49v46m1 -52v58m1 -57v47m1 -47v45m1 -44v47m1 -51v48m1 -45v46m1 -46v44m1 -44v42m1 -44v51m1 -48v35m1 -36v45m1 -44v46m1 -47v50m1 -40v33m1 -45v41m1 -41v50m1 -47v56m1 -57v54m1 -54v52m1 -52v50m1 -52v52m1 -49v58m1 -58v51m1 -52v54m1 -54v52m1 -52v50m1 -52v48m1 -48v59m1 -57v44m1 -43v54m1 -50v44m1 -48v54m1 -32v32m1 -55v42m1 -43v53m1 -55v41m1 -41v58m1 -64v57m1 -48v33m1 -33v48m1 -49v58m1 -58v47m1 -36v36m1 -46v52m1 -44v50m1 -60v41m1 -40v44m1 -44v53m1 -53v48m1 -47v45m1 -47v59m1 -57v57m1 -56v36m1 -38v45m1 -47v50m1 -50v56m1 -52v59m1 -59v51m1 -54v50m1 -42v45m1 -40v33m1 -37v49m1 -56v56m1 -56v34m1 -35v52m1 -51v42m1 -39v48m1 -52v50m1 -49v53m1 -53v50m1 -50v49m1 -45v41m1 -60v60m1 -34v36m1 -47v30m1 -25v46m1 -53v41m1 -43v53m1 -50v48m1 -39v40m1 -50v72m1 -71v53m1 -51v47m1 -48v47m1 -41v57m1 -64v59m1 -59v50m1 -40v34m1 -28v40m1 -46v43m1 -40v40m1 -27v54m1 -78v55m1 -58v58m1 -55v49m1 -52v48m1 -46v40m1 -40v50m1 -51v51m1 -51v54m1 -55v56m1 -56v50m1 -50v56m1 -57v57m1 -53v50m1 -52v48m1 -48v56m1 -55v54m1 -53v36m1 -36v44m1 -45v55m1 -40v37m1 -51v40m1 -41v50m1 -38v44m1 -58v52m1 -50v41m1 -37v37m1 -40v51m1 -51v50m1 -51v62m1 -61v39m1 -42v53m1 -51v51m1 -50v51m1 -47v51m1 -50v46m1 -52v33m1 -33v48m1 -47v52m1 -53v54m1 -46v40m1 -47v50m1 -51v50m1 -49v41m1 -42v48m1 -48v50m1 -49v44m1 -43v41m1 -41v40m1 -44v53m1 -51v52m1 -43v50m1 -58v56m1 -56v55m1 -55v45m1 -34v30m1 -41v34m1 -36v34m1 -34v58m1 -57v47m1 -48v33m1 -31v51m1 -52v52m1 -52v52m1 -49v45m1 -64v68m1 -68v54m1 -40v52m1 -52v35m1 -33v39m1 -40v54m1 -54v50m1 -50v53m1 -54v51m1 -51v59m1 -55v48m1 -52v54m1 -52v62m1 -60v51m1 -54v74m1 -74v44m1 -44v49m1 -48v43m1 -43v33m1 -34v26m1 -21v46m1 -50v50m1 -53v35m1 -34v50m1 -49v52m1 -51v52m1 -56v52m1 -66v66m1 -48v41m1 -33v39m1 -48v51m1 -49v31m1 -32v42m1 -42v49m1 -50v46m1 -46v42m1 -40v48m1 -38v40m1 -50v49m1 -50v48m1 -48v47m1 -47v59m1 -58v56m1 -59v56m1 -55v59m1 -59v65m1 -64v50m1 -49v54m1 -54v54m1 -47v35m1 -43v39m1 -39v51m1 -52v26m1 -25v52m1 -51v51m1 -53v59m1 -56v30m1 -32v49m1 -51v59m1 -55v48m1 -50v54m1 -53v48m1 -47v29m1 -29v55m1 -57v54m1 -51v50m1 -55v54m1 -54v37m1 -35v45m1 -45v47m1 -46v56m1 -57v53m1 -55v52m1 -48v35m1 -36v36m1 -35v35m1 -37v41m1 -40v51m1 -46v32m1 -37v45m1 -45v57m1 -58v55m1 -58v56m1 -56v41m1 -39v55m1 -54v33m1 -36v57m1 -53v42m1 -42v64m1 -66v56m1 -56v56m1 -53v44m1 -48v58m1 -37v39m1 -59v50m1 -49v48m1 -48v54m1 -43v43m1 -55v46m1 -46v54m1 -54v52m1 -53v78m1 -75v31m1 -32v57m1 -55v52m1 -56v50m1 -48v61m1 -54v48m1 -54v50m1 -51v49m1 -50v66m1 -66v57m1 -56v93m1 -91v36m1 -37v54m1 -55v39m1 -39v57m1 -59v59m1 -58v61m1 -61v38m1 -30v51m1 -62v55m1 -49v46m1 -49v55m1 -47v44m1 -46v22m1 -24v54m1 -57v56m1 -55v55m1 -56v33m1 -32v62m1 -64v35m1 -36v61m1 -59v53m1 -54v45m1 -27v13m1 -31v45m1 -45v43m1 -42v50m1 -48v40m1 -43v43m1 -42v52m1 -51v45m1 -47v54m1 -52v28m1 -27v59m1 -61v51m1 -43v41m1 -45v42m1 -46v48m1 -47v49m1 -52v63m1 -58v46m1 -50v41m1 -41v51m1 -50v70m1 -70v41m1 -43v54m1 -51v54m1 -52v44m1 -46v51m1 -42v40m1 -49v53m1 -53v47m1 -46v49m1 -52v53m1 -54v55m1 -54v46m1 -44v58m1 -58v50m1 -53v41m1 -39v53m1 -57v56m1 -49v27m1 -33v52m1 -76v57m1 -102.7v21.6v23.8v8.4v7.6v5.2v3.6v14.8v18m1 -31.3v45m1 -41v48m1 -49v69m1 -70v53m1 -55v39m1 -37v56m1 -58v47m1 -45v60m1 -62v38m1 -43v55m1 -50v54m1 -53v53m1 -53v55m1 -54v48m1 -49v53m1 -49v56m1 -63v57m1 -55v48m1 -49v51m1 -52v50m1 -45v48m1 -50v39m1 -37v46m1 -46v42m1 -45v49m1 -49v36m1 -35v49m1 -47v54m1 -57v50m1 -49v55m1 -54v54m1 -54v54m1 -54v38m1 -39v51m1 -50v54m1 -55v41m1 -43v64m1 -65v51m1 -47v38m1 -38v64m1 -63v52m1 -55v35m1 -34v59m1 -60v48m1 -48v51m1 -49v44m1 -45v47m1 -46v43m1 -43v49m1 -48v48m1 -47v29m1 -32v54m1 -61v63m1 -55v44m1 -44v51m1 -51v41m1 -41v44m1 -45v54m1 -53v52m1 -55v52m1 -50v61m1 -59v47m1 -47v36m1 -39v46m1 -44v41m1 -43v52m1 -50v51m1 -53v55m1 -54v49m1 -51v54m1 -53v48m1 -48v38m1 -35v50m1 -51v47m1 -48v58m1 -58v55m1 -55v53m1 -53v52m1 -51v31m1 -33v48m1 -34v32m1 -45v55m1 -54v54m1 -55v33m1 -34v65m1 -65v45m1 -43v48m1 -35v44m1 -58v26m1 -25v30m1 -31v36m1 -37v56m1 -55v57m1 -56v34m1 -35v54m1 -55v48m1 -46v50m1 -50v44m1 -45v58m1 -57v57m1 -59v53m1 -52v52m1 -54v52m1 -52v52m1 -50v39m1 -41v39m1 -39v50m1 -50v59m1 -56v42m1 -45v49m1 -48v49m1 -49v55m1 -48v48" fill="none" stroke="#FFE600" stroke-width="1.1" stroke-linejoin="round" marker-start="url(#aY)" marker-mid="url(#aY)" marker-end="url(#aY)"/><path d="M238.5 643v45m1 -49v44m1 -41v45m1 -45v45m1 -45v40m1 -39v40m1 -40v41m1 -37v36m1 -42v44m1 -43v43m1 -40v38m1 -41v44m1 -45v41m1 -40v40m1 -40v39m1 -31v25m1 -32v43m1 -44v35m1 -35v33m1 -33v30m1 -33v47m1 -45v47m1 -41v78m1 -83v43m1 -44v45m1 -46v37m1 -36v41m1 -39v39m1 -40v41m1 -41v47m1 -42v42m1 -58v47m1 -36v46m1 -47v44m1 -38v40m1 -43v39m1 -41v42m1 -43v45m1 -46v43m1 -43v45m1 -42v42m1 -43v42m1 -45v44m1 -35v37m1 -43v45m1 -39v41m1 -48v42m1 -42v37m1 -37v35m1 -27v34m1 -42v40m1 -26v31m1 -45v44m1 -45v29m1 -30v31m1 -25v42m1 -47v45m1 -45v22m1 -117.6v45.9v16.6v11.4v4.2v16.1v3v25.7m1 -163v8.7v31.4v12.7v19.4v16.4v17v26v31.4m1 -31.3v39m1 -35v28m1 -28v42m1 -40v30m1 -30v37m1 -38v44m1 -42v39m1 -41v38m1 -38v41m1 -39v40m1 -40v43m1 -56v38m1 -25v34m1 -35v37m1 -37v25m1 -25v40m1 -42v44m1 -46v46m1 -46v42m1 -38v33m1 -27v38m1 -43v40m1 -41v39m1 -41v43m1 -43v44m1 -39v39m1 -43v45m1 -44v26m1 -26v41m1 -42v28m1 -29v42m1 -40v41m1 -41v48m1 -48v38m1 -38v37m1 -36v42m1 -45v28m1 -25v40m1 -43v37m1 -35v42m1 -43v37m1 -35v34m1 -36v34m1 -33v33m1 -21v37m1 -48v41m1 -43v29m1 -30v34m1 -32v34m1 -34v41m1 -32v21m1 -31v26m1 -24v37m1 -41v58m1 -55v43m1 -42v46m1 -47v43m1 -43v43m1 -44v40m1 -31v33m1 -42v43m1 -42v45m1 -44v29m1 -32v45m1 -54v54m1 -43v43m1 -44v24m1 -24v49m1 -52v37m1 -33v50m1 -46v41m1 -45v45m1 -45v74m1 -74v44m1 -43v31m1 -21v33m1 -44v44m1 -43v43m1 -43v43m1 -46v43m1 -41v36m1 -38v85m1 -85v43m1 -41v41m1 -42v42m1 -42v49m1 -48v48m1 -50v32m1 -25v27m1 -32v23m1 -20v23m1 -26v44m1 -44v43m1 -44v45m1 -43v43m1 -44v39m1 -41v38m1 -37v44m1 -42v41m1 -42v28m1 -28v30m1 -25v46m1 -51v46m1 -47v46m1 -44v44m1 -46v48m1 -47v74m1 -73v26m1 -27v50m1 -49v43m1 -32v27m1 -38v40m1 -40v43m1 -45v37m1 -38v44m1 -35v35m1 -44v53m1 -51v43m1 -44v54m1 -54v43m1 -41v39m1 -39v36m1 -38v42m1 -41v42m1 -43v43m1 -41v40m1 -42v34m1 -34v42m1 -42v41m1 -40v43m1 -35v32m1 -39v45m1 -47v36m1 -32v33m1 -36v40m1 -40v43m1 -42v42m1 -42v29m1 -30v37m1 -37v36m1 -29v36m1 -46v47m1 -43v43m1 -38v39m1 -46v42m1 -40v41m1 -44v44m1 -44v47m1 -44v44m1 -45v42m1 -42v42m1 -41v47m1 -47v40m1 -39v39m1 -39v39m1 -41v40m1 -40v42m1 -41v43m1 -40v40m1 -45v35m1 -33v68m1 -64v64m1 -69v40m1 -40v41m1 -42v41m1 -42v45m1 -44v36m1 -35v45m1 -45v39m1 -40v46m1 -44v32m1 -32v47m1 -48v43m1 -45v44m1 -31v28m1 -27v32m1 -48v48m1 -38v37m1 -41v36m1 -38v37m1 -37v34m1 -37v24m1 -23v43m1 -43v46m1 -35v38m1 -46v42m1 -44v42m1 -36v36m1 -40v37m1 -38v43m1 -46v46m1 -43v42m1 -38v39m1 -45v77m1 -77v34m1 -32v44m1 -43v45m1 -46v42m1 -41v38m1 -38v35m1 -35v41m1 -41v40m1 -41v50m1 -40v33m1 -37v38m1 -43v43m1 -43v40m1 -38v39m1 -41v41m1 -43v46m1 -45v40m1 -41v50m1 -50v52m1 -50v39m1 -39v39m1 -33v37m1 -45v49m1 -50v36m1 -36v50m1 -48v40m1 -40v34m1 -34v35m1 -34v39m1 -43v44m1 -44v53m1 -49v43m1 -43v39m1 -39v46m1 -35v31m1 -40v30m1 -34v43m1 -41v69m1 -68v43m1 -43v43m1 -45v37m1 -36v42m1 -35v34m1 -41v41m1 -43v29m1 -28v38m1 -40v45m1 -43v25m1 -25v46m1 -45v42m1 -44v32m1 -32v41m1 -41v41m1 -39v46m1 -49v33m1 -31v41m1 -44v49m1 -37v31m1 -40v34m1 -33v45m1 -45v45m1 -50v48m1 -42v72m1 -73v73m1 -74v44m1 -44v44m1 -44v37m1 -39v50m1 -48v41m1 -41v44m1 -43v30m1 -31v35m1 -37v41m1 -41v28m1 -27v38m1 -39v45m1 -43v40m1 -39v41m1 -41v43m1 -44v50m1 -50v42m1 -42v43m1 -43v36m1 -36v33m1 -32v50m1 -51v34m1 -36v45m1 -42v40m1 -40v50m1 -50v50m1 -51v48m1 -49v40m1 -39v37m1 -38v42m1 -41v42m1 -42v39m1 -39v37m1 -37v37m1 -37v46m1 -49v48m1 -47v43m1 -41v41m1 -48v44m1 -50v34m1 -43v35m1 -44v38m1 -54.9v10.7v4.1v2.7v5.9v6.8v6.2m1 -44.3v2.6v3.8v5.1v4v8.4m1 -47.1v4.1v6.8v5.5v4.2v7.2v3.5m1 -55.8v6.7v4.7v8.4v5.5m1 -51.2v4.8v5v3v3.5v10.9m1 -51.4v2.6v5.2v3.1v3.8v14.3m1 -50.1v8.7v3.4v9m1 -30.4v11m1 -11v11m1 -6.8v2.9v3v4.5v3.1v1.5m1 -1.2v10m1 -14.8v5.7v4.5v3.1v4.9m1 -88.5v8.8v9.5v12.4v9.4v5.9v9v11.1v4.2m1 -156.3v10.2v10.9v8.5v9v9v8.7v9.3v10.8v9.6m1 -276.7v19.9v32.3v35v27v24.3v21.2v17.4v13.6m1 -190.7v18.2v22.4v23.3v23.5v23.9v24.5v22.8v19.2v12.9m1 -12.9v15.3v13.4v11.8v12.3v11.9v11.7v10v13.3v15.4m1 0v16.6v15.4v14.8v17v8.4v9.1v5.7v12.5m1 0v3.5v2.8v10.4v3.1v2.9v4.9m1 0v10.2v5v3.5v5.7v3.6v7.9m1 0v8.5v3.9v5v14.4v.7m1 -14.3v6.3v3.2v4.8v18m1 -17.6v35m1 -19v45m1 -44v44m1 -40v30m1 -30v38m1 -37v39m1 -39v31m1 -29v41m1 -41v69m1 -68v37m1 -38v31m1 -32v20m1 -17v38m1 -31v36m1 -46v51m1 -48v68m1 -65v38m1 -39v42m1 -41v42m1 -42v43m1 -43v44m1 -44v46m1 -34v36m1 -36v33m1 -47v45m1 -44v43m1 -41v43m1 -44v42m1 -44v43m1 -42v35m1 -33v44m1 -45v43m1 -43v44m1 -43v41m1 -41v24m1 -24v66m1 -69v49m1 -49v48m1 -48v44m1 -41v20m1 -23v42m1 -41v43m1 -41v42m1 -42v39m1 -40v40m1 -41v41m1 -40v40m1 -44v38m1 -33v41m1 -43v45m1 -45v46m1 -45v41m1 -41v42m1 -43v43m1 -41v39m1 -42v42m1 -40v73m1 -72v34m1 -36v38m1 -38v45m1 -45v43m1 -44v44m1 -31v70m1 -81v81m1 -82v33m1 -31v40m1 -41v41m1 -41v40m1 -44v42m1 -42v42m1 -37v41m1 -41v33m1 -35v43m1 -43v34m1 -34v44m1 -45v42m1 -40v43m1 -45v37m1 -37v83m1 -75v34m1 -40v39m1 -39v35m1 -38v45m1 -43v43m1 -43v42m1 -41v27m1 -30v44m1 -41v42m1 -42v44m1 -45v35m1 -33v31m1 -34v43m1 -41v48m1 -49v43m1 -42v40m1 -40v46m1 -47v48m1 -47v46m1 -45v41m1 -43v39m1 -39v45m1 -45v32m1 -33v33m1 -31v43m1 -42v41m1 -42v25m1 -25v41m1 -41v15m1 -15v40m1 -42v42m1 -40v35m1 -19v24m1 -40v43m1 -44v35m1 -35v38m1 -38v42m1 -42v44m1 -42v66m1 -66v34m1 -34v43m1 -32v26m1 -38v42m1 -41v41m1 -42v45m1 -45v45m1 -44v41m1 -42v45m1 -44v48m1 -50v44m1 -45v43m1 -40v69m1 -71v68m1 -67v40m1 -39v48m1 -48v29m1 -31v20m1 -25v54m1 -43v61m1 -67v46m1 -46v43m1 -45v46m1 -44v45m1 -39v39m1 -44v44m1 -43v29m1 -31v43m1 -41v41m1 -44v45m1 -37v33m1 -39v43m1 -42v42m1 -45v43m1 -41v47m1 -44v41m1 -31v29m1 -42v30m1 -31v22m1 -23v32m1 -29v35m1 -36v43m1 -45v35m1 -35v37m1 -37v45m1 -45v43m1 -40v42m1 -43v45m1 -38v34m1 -41v44m1 -44v40m1 -39v35m1 -36v37m1 -38v41m1 -34v38m1 -41v39m1 -43v48m1 -47v46m1 -45v37m1 -37v39m1 -41v45m1 -45v41m1 -41v39m1 -40v43m1 -44v44m1 -41v37m1 -38v42m1 -40v42m1 -42v41m1 -39v40m1 -42v35m1 -39v39m1 -37v42m1 -31v31m1 -36v29m1 -36v47m1 -48v43m1 -44v43m1 -38v41m1 -39v31m1 -35v37m1 -35v35m1 -36v42m1 -43v48m1 -49v43m1 -41v39m1 -40v42m1 -42v43m1 -41v37m1 -39v35m1 -34v40m1 -40v35m1 -36v33m1 -32v32m1 -35v36m1 -36v44m1 -40v44m1 -41v39m1 -76v54m1 -54v65m1 -33v46m1 -44v40m1 -40v27m1 -25v31m1 -34v41m1 -42v44m1 -37v34m1 -41v43m1 -43v45m1 -46v35m1 -38v53m1 -43v38m1 -45v45m1 -45v46m1 -44v44m1 -45v41m1 -43v44m1 -36v39m1 -45v18m1 -18v18m1 -16v44m1 -47v52m1 -51v41m1 -35v41m1 -47v25m1 -23v42m1 -43v43m1 -44v45m1 -47v42m1 -39v53m1 -54v44m1 -43v49m1 -48v44m1 -47v47m1 -46v43m1 -42v46m1 -46v33m1 -34v27m1 -27v49m1 -48v33m1 -32v47m1 -50v49m1 -46v28m1 -29v41m1 -40v40m1 -42v45m1 -38v28m1 -24v35m1 -44v43m1 -46v43m1 -42v41m1 -40v42m1 -33v71m1 -81v47m1 -46v45m1 -45v28m1 -29v45m1 -44v37m1 -37v42m1 -43v47m1 -46v46m1 -47v38m1 -38v46m1 -46v46m1 -45v41m1 -40v40m1 -41v43m1 -44v43m1 -42v40m1 -41v49m1 -47v46m1 -47v41m1 -41v44m1 -37v36m1 -44v32m1 -32v49m1 -50v39m1 -39v27m1 -24v42m1 -44v46m1 -47v38m1 -36v42m1 -42v42m1 -42v42m1 -41v40m1 -40v40m1 -40v36m1 -37v28m1 -27v39m1 -40v44m1 -44v44m1 -43v42m1 -43v40m1 -39v40m1 -41v41m1 -41v43m1 -44v45m1 -44v26m1 -28v46m1 -43v48m1 -49v26m1 -19v29m1 -37v45m1 -45v45m1 -43v41m1 -41v41m1 -42v45m1 -45v42m1 -41v78m1 -79v41m1 -41v45m1 -35v33m1 -44v37m1 -29v35m1 -44v44m1 -42v42m1 -42v39m1 -41v40m1 -40v36m1 -34v41m1 -41v22m1 -22v46m1 -46v41m1 -42v35m1 -34v59m1 -60v46m1 -46v39m1 -39v41m1 -41v42m1 -42v44m1 -70v57m1 -78.8v7.7v5.6v8.1v16.7v3.8v14.2v13.5v7.6v2m1 -32.4v46m1 -43v32m1 -33v40m1 -39v36m1 -36v45m1 -47v44m1 -43v45m1 -47v43m1 -43v41m1 -39v42m1 -32v36m1 -46v36m1 -35v40m1 -42v41m1 -39v30m1 -32v49m1 -51v43m1 -41v35m1 -35v45m1 -45v43m1 -43v39m1 -38v51m1 -51v41m1 -40v40m1 -28v20m1 -32v28m1 -28v64m1 -66v23m1 -22v28m1 -29v40m1 -40v36m1 -35v41m1 -40v41m1 -43v34m1 -33v43m1 -45v37m1 -37v43m1 -41v34m1 -35v36m1 -28v22m1 -31v50m1 -48v49m1 -48v37m1 -38v44m1 -44v45m1 -45v30m1 -31v48m1 -43v46m1 -49v19m1 -20v44m1 -43v40m1 -44v36m1 -33v37m1 -36v17m1 -7v25m1 -38v49m1 -47v31m1 -33v45m1 -55v52m1 -40v36m1 -38v39m1 -39v50m1 -48v38m1 -38v59m1 -60v29m1 -29v39m1 -39v42m1 -41v43m1 -43v41m1 -41v46m1 -47v47m1 -46v33m1 -32v42m1 -44v42m1 -41v43m1 -40v35m1 -38v34m1 -35v61m1 -61v45m1 -46v43m1 -36v39m1 -41v24m1 -26v68m1 -69v35m1 -36v44m1 -43v43m1 -42v43m1 -43v41m1 -41v42m1 -44v48m1 -47v42m1 -43v36m1 -29v37m1 -43v44m1 -44v45m1 -47v48m1 -45v45m1 -47v42m1 -40v41m1 -44v43m1 -41v40m1 -42v29m1 -28v37m1 -36v61m1 -61v40m1 -43v46m1 -44v40m1 -40v30m1 -30v45m1 -46v36m1 -31v27m1 -32v33m1 -12v15" fill="none" stroke="#FF0000" stroke-width="1.1" stroke-linejoin="round" marker-start="url(#aR)" marker-mid="url(#aR)" marker-end="url(#aR)"/></g><g clip-path="url(#clipb)"><path d="M1356.9 628L1358.8 628 1360.7 634 1362.5 625.8 1364.4 625.8 1366.3 634 1368.2 644.2 1370 630.3 1371.9 634 1373.8 628 1375.7 625.8 1377.5 628 1379.4 651.3 1381.3 628 1383.2 631.5 1385 620.7 1386.9 631.5 1388.8 631.5 1390.7 630.3 1392.5 620.7 1394.4 635.4 1396.3 612 1398.2 606.8 1400 617 1401.9 630.3 1403.8 631.5 1405.7 614.5 1407.6 631.5 1409.4 630.3 1411.3 631.5 1413.2 624.7 1415.1 628 1416.9 626.9 1418.8 636.7 1420.7 617.9 1422.6 630.3 1424.4 624.7 1426.3 632.8 1428.2 626.9 1430.1 617 1431.9 618.8 1433.8 628 1435.7 623.7 1437.6 630.3 1439.4 622.7 1441.3 618.8 1443.2 621.7 1445.1 636.7 1446.9 622.7 1448.8 617 1450.7 620.7 1452.6 619.8 1454.5 617 1456.3 626.9 1458.2 629.1 1460.1 632.8 1462 619.8 1463.8 622.7 1465.7 617 1467.6 636.7 1469.5 609 1471.3 619.8 1473.2 617.9 1475.1 619.8 1477 622.7 1478.8 623.7 1480.7 641.1 1482.6 625.8 1484.5 622.7 1486.3 626.9 1488.2 620.7 1490.1 612.8 1492 619.8 1493.8 621.7 1495.7 616.2 1497.6 617 1499.5 626.9 1501.4 609.7 1503.2 620.7 1505.1 617.9 1507 613.6 1508.9 612.8 1510.7 613.6 1512.6 611.3 1514.5 605.5 1516.4 602.8 1518.2 611.3 1520.1 608.3 1522 604.1 1523.9 599.1 1525.7 602.8 1527.6 613.6 1529.5 602.8 1531.4 604.8 1533.2 609.7 1535.1 604.1 1537 596.9 1538.9 606.1 1540.7 599.1 1542.6 599.7 1544.5 599.7 1546.4 590.6 1548.3 586.9 1550.1 592.1 1552 593.1 1553.9 584.3 1555.8 589.2 1557.6 591.1 1559.5 577.7 1561.4 575.2 1563.3 569.5 1565.1 571 1567 576.6 1568.9 571.3 1570.8 561.5 1572.6 566 1574.5 560.8 1576.4 560.3 1578.3 558.2 1580.1 556.8 1582 554 1583.9 553.1 1585.8 550.7 1587.6 547.5 1589.5 543.1 1591.4 539.7 1593.3 540.3 1595.2 532.1 1597 532.6 1598.9 533.4 1600.8 529 1602.7 528.8 1604.5 528.1 1606.4 523.5 1608.3 525.9 1610.2 525 1612 519.3 1613.9 518.5 1615.8 518.9 1617.7 515.8 1619.5 512.4 1621.4 510.3 1623.3 509 1625.2 506.9 1627 505.4 1628.9 506 1630.8 498.4 1632.7 498 1634.5 498.5 1636.4 495.4 1638.3 496 1640.2 494.2 1642.1 493.6 1643.9 492.3 1645.8 491.4 1647.7 489.7 1649.6 487.5 1651.4 487 1653.3 486 1655.2 485.3 1657.1 484.6 1658.9 482.3 1660.8 481 1662.7 478.9 1664.6 480 1666.4 476.5 1668.3 475.6 1670.2 475.9 1672.1 471.7 1673.9 471.4 1675.8 472.2 1677.7 470.7 1679.6 470.4 1681.4 469.4 1683.3 470.2 1685.2 467.7 1687.1 469.1 1689 467.1 1690.8 467.7 1692.7 463.6 1694.6 465.8 1696.5 464 1698.3 464.2 1700.2 465.1 1702.1 463 1704 462.1 1705.8 462.1 1707.7 461.7 1709.6 463.2 1711.5 459.3 1713.3 458 1715.2 461.5 1717.1 457.6 1719 456.1 1720.8 458 1722.7 456.9 1724.6 458.1 1726.5 457.5 1728.3 454.1 1730.2 456.5 1732.1 456.3 1734 455.1 1735.9 455.8 1737.7 454.5 1739.6 455.4 1741.5 456.1 1743.4 453.5 1745.2 455.8 1747.1 452.7 1749 452.5 1750.9 453.5 1752.7 452.8 1754.6 456.1 1756.5 453.7 1758.4 452.1 1760.2 454.7 1762.1 454.2 1764 453.9 1765.9 452.2 1767.7 453.4 1769.6 454.6 1771.5 453.1 1773.4 454.3 1775.2 453.1 1777.1 452.9 1779 453 1780.9 453.6 1782.8 451.6 1784.6 452.3 1786.5 453.2 1788.4 452 1790.3 452.8 1792.1 452.2 1794 450.9 1795.9 451.6 1797.8 449.4 1799.6 447.4 1801.5 448.1 1803.4 447.2 1805.3 444.7 1807.1 441.1 1809 437.9 1810.9 431.8 1812.8 425.3 1814.6 417.3 1816.5 409.7 1818.4 397.6 1820.3 382.9 1822.1 366 1824 344.5 1825.9 321.6 1827.8 299.2 1829.7 279.5 1831.5 258.9 1833.4 237 1835.3 211.5 1837.2 176.4 1839 144.2 1840.9 124.2 1842.8 142.4 1844.7 164.9 1846.5 188.1 1848.4 211.6 1850.3 235.1 1852.2 259.7 1854 282.7 1855.9 302.2 1857.8 317.6 1859.7 331.4 1861.5 343.6 1863.4 355.2 1865.3 367.4 1867.2 377.9 1869 389 1870.9 400.8 1872.8 416.6 1874.7 432.9 1876.6 448.3 1878.4 464.3 1880.3 474.1 1882.2 484.7 1884.1 493.1 1885.9 499.2 1887.8 507.6 1889.7 508 1891.6 514.4 1893.4 520.6 1895.3 523.4 1897.2 530.5 1899.1 535.3 1900.9 536 1902.8 541.8 1904.7 542.3 1906.6 558.2 1908.4 554.8 1910.3 557.2 1912.2 555.2 1914.1 568 1915.9 575.6 1917.8 572.9 1919.7 581.1 1921.6 571.9 1923.5 583.5 1925.3 582.3 1927.2 588.3 1929.1 591.1 1931 591.1 1932.8 598 1934.7 600.3 1936.6 598 1938.5 603.5 1940.3 617.9 1942.2 609 1944.1 608.3 1946 621.7 1947.8 636.7 1949.7 619.8 1951.6 639.6 1953.5 644.2 1955.3 624.7 1957.2 636.7 1959.1 631.5 1961 628 1962.8 636.7 1964.7 632.8 1966.6 632.8 1968.5 619.8 1970.4 632.8 1972.2 629.1 1974.1 632.8 1976 631.5 1977.9 626.9 1979.7 630.3 1981.6 620.7 1983.5 634 1985.4 625.8 1987.2 615.3 1989.1 615.3 1991 614.5 1992.9 621.7 1994.7 617 1996.6 624.7 1998.5 617.9 2000.4 635.4 2002.2 618.8 2004.1 634 2006 612.8 2007.9 616.2 2009.7 619.8 2011.6 611.3 2013.5 602.8 2015.4 621.7 2017.3 623.7 2019.1 618.8 2021 621.7 2022.9 608.3 2024.8 617.9 2026.6 610.5 2028.5 607.5 2030.4 604.8 2032.3 618.8 2034.1 632.8 2036 619.8 2037.9 618.8 2039.8 618.8 2041.6 619.8 2043.5 620.7 2045.4 617.9 2047.3 620.7 2049.1 618.8 2051 621.7 2052.9 636.7 2054.8 618.8 2056.6 622.7 2058.5 621.7 2060.4 621.7 2062.3 638.1 2064.2 638.1 2066 629.1 2067.9 632.8 2069.8 621.7 2071.7 632.8 2073.5 623.7 2075.4 625.8 2077.3 619.8 2079.2 628 2081 616.2 2082.9 622.7 2084.8 639.6 2086.7 629.1 2088.5 620.7 2090.4 626.9 2092.3 618.8 2094.2 638.1 2096 620.7 2097.9 623.7 2099.8 631.5 2101.7 630.3 2103.5 630.3 2105.4 629.1 2107.3 642.6 2109.2 632.8 2111.1 621.7 2112.9 629.1 2114.8 628 2116.7 636.7 2118.6 638.1 2120.4 628 2122.3 632.8 2124.2 629.1 2126.1 631.5 2127.9 632.8 2129.8 624.7 2131.7 641.1 2133.6 628 2135.4 626.9 2137.3 635.4 2139.2 639.6 2141.1 636.7 2142.9 647.6 2144.8 624.7 2146.7 649.4 2148.6 630.3 2150.4 632.8 2152.3 634 2154.2 634 2156.1 619.8 2158 628 2159.8 642.6 2161.7 639.6 2163.6 641.1 2165.5 636.7 2167.3 636.7 2169.2 645.9 2171.1 651.3 2173 644.2 2174.8 639.6 2176.7 644.2 2178.6 632.8 2180.5 644.2 2182.3 629.1 2184.2 642.6 2186.1 635.4 2188 649.4 2189.8 641.1 2191.7 644.2 2193.6 635.4 2195.5 632.8 2197.3 649.4 2199.2 657.4 2201.1 634" fill="none" stroke="#2C00FF" stroke-width="1.0" stroke-linejoin="round" marker-start="url(#bB)" marker-mid="url(#bB)" marker-end="url(#bB)"/><path d="M1356.9 628.9L1358.8 625.7 1360.7 626.8 1362.5 619.1 1364.4 626.8 1366.3 634.8 1368.2 633.6 1370 632.3 1371.9 626.8 1373.8 628.9 1375.7 634.8 1377.5 620.9 1379.4 633.6 1381.3 626.8 1383.2 624.7 1385 627.8 1386.9 625.7 1388.8 608.9 1390.7 620 1392.5 627.8 1394.4 630 1396.3 622.7 1398.2 643.1 1400 618.2 1401.9 637.4 1403.8 634.8 1405.7 618.2 1407.6 619.1 1409.4 633.6 1411.3 620.9 1413.2 620 1415.1 633.6 1416.9 633.6 1418.8 626.8 1420.7 631.2 1422.6 620.9 1424.4 617.3 1426.3 622.7 1428.2 624.7 1430.1 604.9 1431.9 624.7 1433.8 624.7 1435.7 632.3 1437.6 616.5 1439.4 620.9 1441.3 612.5 1443.2 620 1445.1 619.1 1446.9 621.8 1448.8 619.1 1450.7 626.8 1452.6 621.8 1454.5 622.7 1456.3 618.2 1458.2 614.9 1460.1 617.3 1462 614.9 1463.8 625.7 1465.7 627.8 1467.6 620 1469.5 615.7 1471.3 620.9 1473.2 624.7 1475.1 628.9 1477 627.8 1478.8 623.7 1480.7 627.8 1482.6 626.8 1484.5 617.3 1486.3 620 1488.2 626.8 1490.1 627.8 1492 623.7 1493.8 618.2 1495.7 614.9 1497.6 609.6 1499.5 623.7 1501.4 616.5 1503.2 636.1 1505.1 612.5 1507 618.2 1508.9 620 1510.7 618.2 1512.6 615.7 1514.5 615.7 1516.4 609.6 1518.2 609.6 1520.1 611.8 1522 614.1 1523.9 612.5 1525.7 604.9 1527.6 605.5 1529.5 600 1531.4 613.3 1533.2 606.2 1535.1 603.6 1537 600 1538.9 596.7 1540.7 594.1 1542.6 591.2 1544.5 598.9 1546.4 592.7 1548.3 586.3 1550.1 587.6 1552 585.9 1553.9 578.3 1555.8 576.9 1557.6 574.6 1559.5 572.7 1561.4 573.3 1563.3 567.2 1565.1 563.8 1567 564.3 1568.9 563.8 1570.8 563.3 1572.6 560.9 1574.5 558.8 1576.4 551.2 1578.3 552.7 1580.1 554.7 1582 552.1 1583.9 546 1585.8 547.9 1587.6 550.3 1589.5 546.5 1591.4 545.5 1593.3 544.4 1595.2 533 1597 540.2 1598.9 536.4 1600.8 536.1 1602.7 535 1604.5 531.3 1606.4 531 1608.3 527.8 1610.2 524.2 1612 527.1 1613.9 525.2 1615.8 521.2 1617.7 523.6 1619.5 523 1621.4 520.8 1623.3 519.8 1625.2 519.2 1627 517.8 1628.9 517.2 1630.8 514.9 1632.7 516.6 1634.5 512.3 1636.4 513.5 1638.3 508.7 1640.2 511.6 1642.1 510.1 1643.9 510.4 1645.8 508.5 1647.7 503 1649.6 505.4 1651.4 501 1653.3 499.9 1655.2 504.3 1657.1 498.6 1658.9 498.7 1660.8 500.6 1662.7 497.1 1664.6 497.5 1666.4 494.3 1668.3 493.6 1670.2 491.8 1672.1 493 1673.9 491.2 1675.8 488.6 1677.7 490.3 1679.6 487.1 1681.4 485.5 1683.3 486 1685.2 482.2 1687.1 482.5 1689 481.2 1690.8 481.7 1692.7 482 1694.6 478.8 1696.5 480.3 1698.3 479.6 1700.2 479.6 1702.1 479.2 1704 475.8 1705.8 477.2 1707.7 473.9 1709.6 473.2 1711.5 474.9 1713.3 474.6 1715.2 472.8 1717.1 473.5 1719 471 1720.8 471.2 1722.7 472.4 1724.6 468.6 1726.5 470.6 1728.3 467.4 1730.2 468.2 1732.1 468.5 1734 465.9 1735.9 470.7 1737.7 469.7 1739.6 466.5 1741.5 468 1743.4 466.5 1745.2 465 1747.1 465.4 1749 464.5 1750.9 463.6 1752.7 462.2 1754.6 461.8 1756.5 460.4 1758.4 459.3 1760.2 460.5 1762.1 461.2 1764 460.7 1765.9 458.9 1767.7 457.2 1769.6 456.2 1771.5 457.7 1773.4 456 1775.2 454.6 1777.1 458 1779 454.9 1780.9 453.2 1782.8 453.6 1784.6 451.6 1786.5 452.2 1788.4 451.4 1790.3 451.4 1792.1 451.6 1794 449.5 1795.9 449.7 1797.8 448.3 1799.6 448.4 1801.5 444.8 1803.4 445.5 1805.3 441.3 1807.1 439.6 1809 436.7 1810.9 433.6 1812.8 427.5 1814.6 422.2 1816.5 413.6 1818.4 402.1 1820.3 386.8 1822.1 368.3 1824 346.3 1825.9 322.7 1827.8 299.6 1829.7 278.9 1831.5 258.7 1833.4 236.9 1835.3 211.6 1837.2 176.4 1839 144.1 1840.9 124.2 1842.8 142.5 1844.7 164.9 1846.5 188.1 1848.4 211.6 1850.3 235.2 1852.2 259.8 1854 282.9 1855.9 302 1857.8 317.2 1859.7 330.6 1861.5 343.3 1863.4 354.8 1865.3 367.2 1867.2 377.8 1869 389.5 1870.9 401.8 1872.8 416.9 1874.7 432.9 1876.6 445.6 1878.4 460 1880.3 468 1882.2 477.8 1884.1 484.6 1885.9 492.3 1887.8 497.1 1889.7 501.4 1891.6 508.4 1893.4 514.7 1895.3 517.8 1897.2 522.2 1899.1 524.2 1900.9 529 1902.8 536 1904.7 537.9 1906.6 539.2 1908.4 539.9 1910.3 543.2 1912.2 546.9 1914.1 548.4 1915.9 547.6 1917.8 560.2 1919.7 560.7 1921.6 564.6 1923.5 573.3 1925.3 564.3 1927.2 571.2 1929.1 575.6 1931 572.7 1932.8 576.9 1934.7 577.6 1936.6 581.2 1938.5 594.1 1940.3 590.3 1942.2 585.9 1944.1 587.6 1946 597.8 1947.8 600.6 1949.7 596.2 1951.6 605.5 1953.5 613.3 1955.3 613.3 1957.2 627.8 1959.1 619.1 1961 623.7 1962.8 620 1964.7 633.6 1966.6 628.9 1968.5 618.2 1970.4 626.8 1972.2 621.8 1974.1 618.2 1976 625.7 1977.9 631.2 1979.7 623.7 1981.6 622.7 1983.5 625.7 1985.4 622.7 1987.2 633.6 1989.1 640.1 1991 625.7 1992.9 627.8 1994.7 623.7 1996.6 637.4 1998.5 626.8 2000.4 622.7 2002.2 631.2 2004.1 638.7 2006 627.8 2007.9 630 2009.7 633.6 2011.6 621.8 2013.5 633.6 2015.4 619.1 2017.3 632.3 2019.1 621.8 2021 621.8 2022.9 624.7 2024.8 631.2 2026.6 621.8 2028.5 646.2 2030.4 610.3 2032.3 634.8 2034.1 619.1 2036 626.8 2037.9 634.8 2039.8 644.6 2041.6 636.1 2043.5 646.2 2045.4 637.4 2047.3 628.9 2049.1 631.2 2051 641.6 2052.9 630 2054.8 625.7 2056.6 644.6 2058.5 637.4 2060.4 637.4 2062.3 643.1 2064.2 631.2 2066 631.2 2067.9 641.6 2069.8 622.7 2071.7 632.3 2073.5 647.9 2075.4 646.2 2077.3 649.6 2079.2 643.1 2081 630 2082.9 634.8 2084.8 647.9 2086.7 647.9 2088.5 646.2 2090.4 634.8 2092.3 627.8 2094.2 631.2 2096 637.4 2097.9 628.9 2099.8 627.8 2101.7 638.7 2103.5 637.4 2105.4 631.2 2107.3 633.6 2109.2 633.6 2111.1 638.7 2112.9 641.6 2114.8 640.1 2116.7 647.9 2118.6 627.8 2120.4 622.7 2122.3 643.1 2124.2 646.2 2126.1 620.9 2127.9 632.3 2129.8 626.8 2131.7 640.1 2133.6 633.6 2135.4 634.8 2137.3 638.7 2139.2 634.8 2141.1 653.3 2142.9 627.8 2144.8 636.1 2146.7 634.8 2148.6 636.1 2150.4 636.1 2152.3 641.6 2154.2 641.6 2156.1 625.7 2158 630 2159.8 626.8 2161.7 624.7 2163.6 630 2165.5 636.1 2167.3 647.9 2169.2 628.9 2171.1 630 2173 637.4 2174.8 631.2 2176.7 643.1 2178.6 633.6 2180.5 638.7 2182.3 636.1 2184.2 632.3 2186.1 627.8 2188 646.2 2189.8 628.9 2191.7 641.6 2193.6 649.6 2195.5 630 2197.3 641.6 2199.2 631.2 2201.1 636.1" fill="none" stroke="#00FF00" stroke-width="1.0" stroke-linejoin="round" marker-start="url(#bG)" marker-mid="url(#bG)" marker-end="url(#bG)"/><path d="M1356.9 627.9L1358.8 637.3 1360.7 640.9 1362.5 635 1364.4 632.8 1366.3 633.9 1368.2 639.6 1370 632.8 1371.9 631.8 1373.8 631.8 1375.7 632.8 1377.5 625.2 1379.4 631.8 1381.3 646.2 1383.2 627 1385 624.3 1386.9 640.9 1388.8 636.1 1390.7 629.8 1392.5 630.8 1394.4 636.1 1396.3 627 1398.2 635 1400 629.8 1401.9 636.1 1403.8 628.8 1405.7 626 1407.6 628.8 1409.4 632.8 1411.3 640.9 1413.2 627.9 1415.1 627.9 1416.9 631.8 1418.8 626 1420.7 617.9 1422.6 625.2 1424.4 625.2 1426.3 632.8 1428.2 633.9 1430.1 625.2 1431.9 629.8 1433.8 631.8 1435.7 624.3 1437.6 627 1439.4 644.8 1441.3 609.7 1443.2 627 1445.1 631.8 1446.9 628.8 1448.8 620.2 1450.7 629.8 1452.6 628.8 1454.5 618.6 1456.3 625.2 1458.2 617.1 1460.1 615 1462 621 1463.8 615.7 1465.7 618.6 1467.6 611.6 1469.5 624.3 1471.3 626 1473.2 625.2 1475.1 617.9 1477 612.9 1478.8 622.6 1480.7 623.4 1482.6 618.6 1484.5 625.2 1486.3 616.4 1488.2 626 1490.1 627.9 1492 609.1 1493.8 621 1495.7 630.8 1497.6 614.3 1499.5 627 1501.4 616.4 1503.2 618.6 1505.1 618.6 1507 627 1508.9 621 1510.7 628.8 1512.6 606.1 1514.5 612.9 1516.4 616.4 1518.2 620.2 1520.1 611.6 1522 630.8 1523.9 615 1525.7 619.4 1527.6 612.9 1529.5 609.7 1531.4 625.2 1533.2 616.4 1535.1 619.4 1537 616.4 1538.9 617.9 1540.7 626 1542.6 613.6 1544.5 623.4 1546.4 615.7 1548.3 615.7 1550.1 624.3 1552 621.8 1553.9 608.5 1555.8 620.2 1557.6 619.4 1559.5 615 1561.4 613.6 1563.3 611.6 1565.1 619.4 1567 615.7 1568.9 609.7 1570.8 623.4 1572.6 612.2 1574.5 617.9 1576.4 623.4 1578.3 611 1580.1 610.3 1582 607.9 1583.9 610.3 1585.8 619.4 1587.6 613.6 1589.5 611.6 1591.4 612.2 1593.3 614.3 1595.2 627 1597 608.5 1598.9 615 1600.8 611.6 1602.7 614.3 1604.5 613.6 1606.4 608.5 1608.3 598.7 1610.2 610.3 1612 607.9 1613.9 586.2 1615.8 595 1617.7 596.4 1619.5 591.2 1621.4 584.4 1623.3 580.4 1625.2 576.1 1627 573.6 1628.9 571.7 1630.8 567.5 1632.7 569.7 1634.5 566.7 1636.4 563.8 1638.3 562.3 1640.2 561.4 1642.1 554.4 1643.9 551.8 1645.8 552.4 1647.7 549.8 1649.6 550.5 1651.4 542.5 1653.3 542.3 1655.2 534.9 1657.1 537.5 1658.9 533.7 1660.8 534.8 1662.7 530.4 1664.6 523.3 1666.4 524.5 1668.3 520 1670.2 515.1 1672.1 518.1 1673.9 516.5 1675.8 515 1677.7 509.2 1679.6 508.9 1681.4 505.9 1683.3 508.1 1685.2 502.4 1687.1 502.2 1689 500.3 1690.8 495.5 1692.7 495.4 1694.6 491.6 1696.5 488.9 1698.3 485.9 1700.2 483.4 1702.1 482.8 1704 481.2 1705.8 479.9 1707.7 477 1709.6 474.3 1711.5 473.9 1713.3 471.9 1715.2 471.2 1717.1 469.5 1719 469.5 1720.8 467.4 1722.7 466.6 1724.6 464.2 1726.5 462.9 1728.3 464.4 1730.2 460.7 1732.1 460.3 1734 458.3 1735.9 459.9 1737.7 457.3 1739.6 454.8 1741.5 455.3 1743.4 454.4 1745.2 455.8 1747.1 452.1 1749 452.9 1750.9 452.3 1752.7 451.1 1754.6 450.2 1756.5 448.8 1758.4 448.1 1760.2 447.8 1762.1 445.5 1764 446.9 1765.9 444.3 1767.7 445.4 1769.6 445.2 1771.5 442.5 1773.4 443.5 1775.2 441.3 1777.1 439.8 1779 439.7 1780.9 438.6 1782.8 437.7 1784.6 436.7 1786.5 435.8 1788.4 435.3 1790.3 436 1792.1 432.9 1794 431.9 1795.9 431.5 1797.8 429.1 1799.6 427.2 1801.5 426.3 1803.4 423.2 1805.3 420.9 1807.1 418.6 1809 415.5 1810.9 413.2 1812.8 409.1 1814.6 405.2 1816.5 399.4 1818.4 394 1820.3 383.6 1822.1 366.3 1824 344.6 1825.9 321.4 1827.8 299.8 1829.7 279.7 1831.5 259.3 1833.4 237.1 1835.3 211.6 1837.2 176.3 1839 144.1 1840.9 124.2 1842.8 142.5 1844.7 164.9 1846.5 188.2 1848.4 211.5 1850.3 235.3 1852.2 259.9 1854 282.6 1855.9 302.2 1857.8 317.7 1859.7 331.2 1861.5 342.6 1863.4 354.8 1865.3 366.4 1867.2 378.1 1869 389.2 1870.9 400.6 1872.8 415.4 1874.7 430.2 1876.6 441.2 1878.4 451.9 1880.3 464.1 1882.2 472.1 1884.1 480.5 1885.9 488.3 1887.8 493.3 1889.7 500 1891.6 501 1893.4 507 1895.3 512.9 1897.2 519.1 1899.1 518.5 1900.9 521.5 1902.8 531.8 1904.7 531.7 1906.6 537.7 1908.4 543.3 1910.3 544.3 1912.2 547.2 1914.1 548.6 1915.9 552.1 1917.8 557.7 1919.7 555.2 1921.6 555.6 1923.5 567.2 1925.3 566 1927.2 568.4 1929.1 567.2 1931 571.2 1932.8 570.4 1934.7 573.3 1936.6 579.7 1938.5 567 1940.3 569.2 1942.2 575.5 1944.1 586.9 1946 577.3 1947.8 589.6 1949.7 590.4 1951.6 597.3 1953.5 595.5 1955.3 609.7 1957.2 606.7 1959.1 604.4 1961 613.6 1962.8 612.9 1964.7 624.3 1966.6 617.9 1968.5 636.1 1970.4 621 1972.2 626 1974.1 620.2 1976 630.8 1977.9 628.8 1979.7 639.6 1981.6 627.9 1983.5 623.4 1985.4 626 1987.2 625.2 1989.1 626 1991 625.2 1992.9 624.3 1994.7 637.3 1996.6 644.8 1998.5 643.5 2000.4 619.4 2002.2 635 2004.1 639.6 2006 640.9 2007.9 629.8 2009.7 617.9 2011.6 632.8 2013.5 627.9 2015.4 643.5 2017.3 636.1 2019.1 626 2021 633.9 2022.9 625.2 2024.8 627.9 2026.6 619.4 2028.5 629.8 2030.4 633.9 2032.3 633.9 2034.1 636.1 2036 639.6 2037.9 633.9 2039.8 631.8 2041.6 638.4 2043.5 630.8 2045.4 637.3 2047.3 640.9 2049.1 642.2 2051 638.4 2052.9 636.1 2054.8 627 2056.6 628.8 2058.5 627 2060.4 635 2062.3 652.3 2064.2 628.8 2066 636.1 2067.9 637.3 2069.8 630.8 2071.7 646.2 2073.5 636.1 2075.4 637.3 2077.3 629.8 2079.2 626 2081 643.5 2082.9 643.5 2084.8 624.3 2086.7 649.2 2088.5 631.8 2090.4 636.1 2092.3 647.7 2094.2 652.3 2096 633.9 2097.9 632.8 2099.8 633.9 2101.7 640.9 2103.5 638.4 2105.4 639.6 2107.3 629.8 2109.2 639.6 2111.1 631.8 2112.9 647.7 2114.8 621.8 2116.7 635 2118.6 642.2 2120.4 633.9 2122.3 633.9 2124.2 646.2 2126.1 638.4 2127.9 642.2 2129.8 628.8 2131.7 638.4 2133.6 637.3 2135.4 628.8 2137.3 642.2 2139.2 635 2141.1 638.4 2142.9 639.6 2144.8 644.8 2146.7 636.1 2148.6 642.2 2150.4 636.1 2152.3 647.7 2154.2 625.2 2156.1 635 2158 629.8 2159.8 633.9 2161.7 640.9 2163.6 639.6 2165.5 628.8 2167.3 636.1 2169.2 642.2 2171.1 635 2173 630.8 2174.8 644.8 2176.7 644.8 2178.6 631.8 2180.5 629.8 2182.3 639.6 2184.2 643.5 2186.1 649.2 2188 639.6 2189.8 631.8 2191.7 632.8 2193.6 644.8 2195.5 643.5 2197.3 631.8 2199.2 638.4 2201.1 643.5" fill="none" stroke="#FFE600" stroke-width="1.0" stroke-linejoin="round" marker-start="url(#bY)" marker-mid="url(#bY)" marker-end="url(#bY)"/><path d="M1356.9 652.3L1358.8 692.7 1360.7 631.5 1362.5 656.9 1364.4 652.3 1366.3 640.7 1368.2 652.3 1370 637.4 1371.9 652.3 1373.8 656.9 1375.7 692.7 1377.5 652.3 1379.4 682.8 1381.3 637.4 1383.2 682.8 1385 640.7 1386.9 644.2 1388.8 668 1390.7 644.2 1392.5 656.9 1394.4 674.8 1396.3 668 1398.2 674.8 1400 652.3 1401.9 682.8 1403.8 692.7 1405.7 644.2 1407.6 656.9 1409.4 662.1 1411.3 668 1413.2 682.8 1415.1 640.7 1416.9 662.1 1418.8 692.7 1420.7 656.9 1422.6 652.3 1424.4 723.2 1426.3 662.1 1428.2 668 1430.1 674.8 1431.9 648.1 1433.8 652.3 1435.7 674.8 1437.6 656.9 1439.4 682.8 1441.3 652.3 1443.2 662.1 1445.1 652.3 1446.9 668 1448.8 682.8 1450.7 648.1 1452.6 656.9 1454.5 662.1 1456.3 656.9 1458.2 674.8 1460.1 656.9 1462 674.8 1463.8 652.3 1465.7 692.7 1467.6 648.1 1469.5 662.1 1471.3 652.3 1473.2 656.9 1475.1 662.1 1477 662.1 1478.8 631.5 1480.7 674.8 1482.6 648.1 1484.5 662.1 1486.3 682.8 1488.2 656.9 1490.1 640.7 1492 640.7 1493.8 674.8 1495.7 637.4 1497.6 644.2 1499.5 656.9 1501.4 662.1 1503.2 668 1505.1 662.1 1507 637.4 1508.9 644.2 1510.7 656.9 1512.6 652.3 1514.5 626.3 1516.4 652.3 1518.2 648.1 1520.1 648.1 1522 668 1523.9 644.2 1525.7 640.7 1527.6 656.9 1529.5 640.7 1531.4 628.9 1533.2 648.1 1535.1 692.7 1537 637.4 1538.9 668 1540.7 662.1 1542.6 674.8 1544.5 668 1546.4 648.1 1548.3 674.8 1550.1 656.9 1552 644.2 1553.9 656.9 1555.8 656.9 1557.6 634.4 1559.5 637.4 1561.4 652.3 1563.3 628.9 1565.1 652.3 1567 652.3 1568.9 628.9 1570.8 628.9 1572.6 644.2 1574.5 644.2 1576.4 628.9 1578.3 637.4 1580.1 637.4 1582 619.5 1583.9 631.5 1585.8 615.5 1587.6 640.7 1589.5 606.9 1591.4 626.3 1593.3 619.5 1595.2 640.7 1597 611.8 1598.9 619.5 1600.8 624 1602.7 631.5 1604.5 624 1606.4 624 1608.3 611.8 1610.2 624 1612 621.7 1613.9 603.8 1615.8 605.3 1617.7 606.9 1619.5 602.4 1621.4 601 1623.3 617.5 1625.2 611.8 1627 595.8 1628.9 594.6 1630.8 593.4 1632.7 603.8 1634.5 603.8 1636.4 595.8 1638.3 589 1640.2 577.1 1642.1 578.7 1643.9 574 1645.8 570.4 1647.7 568.4 1649.6 568.4 1651.4 565.8 1653.3 570.4 1655.2 567.1 1657.1 550.7 1658.9 549.8 1660.8 554.9 1662.7 540.2 1664.6 547.3 1666.4 550.7 1668.3 534.3 1670.2 533.4 1672.1 532.2 1673.9 531.1 1675.8 529.2 1677.7 522.6 1679.6 516.7 1681.4 516.3 1683.3 511.6 1685.2 507.1 1687.1 513 1689 505.5 1690.8 502.3 1692.7 493.6 1694.6 492.3 1696.5 492.4 1698.3 488.9 1700.2 487.6 1702.1 480.4 1704 480.7 1705.8 477.4 1707.7 476.6 1709.6 473.4 1711.5 470.2 1713.3 469.7 1715.2 467.2 1717.1 466.2 1719 464.5 1720.8 465.5 1722.7 462.3 1724.6 464 1726.5 465.1 1728.3 461.9 1730.2 461.7 1732.1 459.3 1734 458.5 1735.9 460.3 1737.7 462.4 1739.6 463.9 1741.5 461.4 1743.4 462.1 1745.2 463.4 1747.1 462.9 1749 463.9 1750.9 463.6 1752.7 466.6 1754.6 469.5 1756.5 471.7 1758.4 476.4 1760.2 473.9 1762.1 473.4 1764 479.7 1765.9 476.5 1767.7 476.5 1769.6 478.9 1771.5 479.6 1773.4 485.9 1775.2 485.4 1777.1 485.2 1779 486.8 1780.9 489.8 1782.8 481.7 1784.6 488.2 1786.5 485.1 1788.4 481.3 1790.3 479 1792.1 480.3 1794 472.2 1795.9 463.1 1797.8 455.7 1799.6 444.7 1801.5 437.9 1803.4 429.9 1805.3 419.1 1807.1 412 1809 400.5 1810.9 390.7 1812.8 380.8 1814.6 371.9 1816.5 362.7 1818.4 353.2 1820.3 344.8 1822.1 335.7 1824 325.2 1825.9 313.9 1827.8 301 1829.7 283.8 1831.5 262.8 1833.4 238 1835.3 211.6 1837.2 176.2 1839 144.1 1840.9 124.3 1842.8 142.5 1844.7 164.9 1846.5 188.1 1848.4 211.5 1850.3 235.2 1852.2 259.8 1854 282.6 1855.9 302.4 1857.8 317.4 1859.7 330.6 1861.5 343.1 1863.4 355.5 1865.3 366 1867.2 378.5 1869 388.2 1870.9 402.5 1872.8 416.7 1874.7 434.7 1876.6 451 1878.4 462.4 1880.3 479.9 1882.2 492.7 1884.1 499.4 1885.9 506.6 1887.8 514.4 1889.7 512.3 1891.6 522.2 1893.4 525 1895.3 526.5 1897.2 538.1 1899.1 539.1 1900.9 539.1 1902.8 540.9 1904.7 547.3 1906.6 551.6 1908.4 552.1 1910.3 566.4 1912.2 556.3 1914.1 576.3 1915.9 571.1 1917.8 605.3 1919.7 589 1921.6 574 1923.5 578.7 1925.3 593.4 1927.2 598.3 1929.1 589 1931 615.5 1932.8 592.2 1934.7 615.5 1936.6 605.3 1938.5 608.5 1940.3 613.6 1942.2 615.5 1944.1 608.5 1946 603.8 1947.8 615.5 1949.7 621.7 1951.6 631.5 1953.5 634.4 1955.3 637.4 1957.2 628.9 1959.1 631.5 1961 628.9 1962.8 631.5 1964.7 626.3 1966.6 640.7 1968.5 637.4 1970.4 656.9 1972.2 631.5 1974.1 637.4 1976 626.3 1977.9 621.7 1979.7 656.9 1981.6 648.1 1983.5 648.1 1985.4 617.5 1987.2 626.3 1989.1 624 1991 662.1 1992.9 644.2 1994.7 621.7 1996.6 634.4 1998.5 634.4 2000.4 640.7 2002.2 631.5 2004.1 634.4 2006 634.4 2007.9 652.3 2009.7 634.4 2011.6 656.9 2013.5 634.4 2015.4 656.9 2017.3 662.1 2019.1 682.8 2021 640.7 2022.9 648.1 2024.8 634.4 2026.6 662.1 2028.5 682.8 2030.4 674.8 2032.3 648.1 2034.1 656.9 2036 648.1 2037.9 640.7 2039.8 662.1 2041.6 621.7 2043.5 634.4 2045.4 634.4 2047.3 652.3 2049.1 674.8 2051 640.7 2052.9 631.5 2054.8 648.1 2056.6 652.3 2058.5 668 2060.4 634.4 2062.3 637.4 2064.2 648.1 2066 640.7 2067.9 674.8 2069.8 674.8 2071.7 634.4 2073.5 674.8 2075.4 656.9 2077.3 648.1 2079.2 637.4 2081 692.7 2082.9 674.8 2084.8 640.7 2086.7 631.5 2088.5 662.1 2090.4 652.3 2092.3 637.4 2094.2 640.7 2096 662.1 2097.9 662.1 2099.8 656.9 2101.7 648.1 2103.5 648.1 2105.4 668 2107.3 634.4 2109.2 648.1 2111.1 652.3 2112.9 656.9 2114.8 674.8 2116.7 644.2 2118.6 648.1 2120.4 668 2122.3 668 2124.2 648.1 2126.1 652.3 2127.9 648.1 2129.8 656.9 2131.7 648.1 2133.6 648.1 2135.4 682.8 2137.3 662.1 2139.2 648.1 2141.1 648.1 2142.9 640.7 2144.8 634.4 2146.7 637.4 2148.6 644.2 2150.4 668 2152.3 656.9 2154.2 662.1 2156.1 648.1 2158 656.9 2159.8 652.3 2161.7 637.4 2163.6 640.7 2165.5 637.4 2167.3 640.7 2169.2 648.1 2171.1 652.3 2173 648.1 2174.8 656.9 2176.7 656.9 2178.6 644.2 2180.5 644.2 2182.3 652.3 2184.2 648.1 2186.1 652.3 2188 668 2189.8 634.4 2191.7 668 2193.6 652.3 2195.5 631.5 2197.3 652.3 2199.2 640.7 2201.1 668" fill="none" stroke="#FF0000" stroke-width="1.0" stroke-linejoin="round" marker-start="url(#bR)" marker-mid="url(#bR)" marker-end="url(#bR)"/></g><g clip-path="url(#clipc)"><path d="M238.5 1475v29m1 -28v24m1 -26v24m1 -24v30m1 -28v31m1 -32v27m1 -27v26m1 -26v32m1 -32v23m1 -25v16m1 -13v28m1 -33v32m1 -28v28m1 -28v38m1 -39v30m1 -34v35m1 -28v37m1 -43v37m1 -37v31m1 -29v29m1 -25v25m1 -25v25m1 -24v27m1 -26v22m1 -31v32m1 -32v40m1 -36v36m1 -38v32m1 -32v37m1 -37v23m1 -17v25m1 -30v21m1 -21v20m1 -18v28m1 -29v34m1 -36v31m1 -29v25m1 -24v32m1 -33v16m1 -30v45m1 -30v30m1 -35v31m1 -26v27m1 -29v31m1 -30v27m1 -31v35m1 -37v33m1 -29v29m1 -29v40m1 -38v30m1 -34v31m1 -26v26m1 -29v28m1 -31v26m1 -29v27m1 -34v26m1 -33.1v4.7v2.8v3.2v6.1v9m1 -66.2v9.4v6.6v7.8v5.4v10.3v.9m1 -149v24.7v20.4v16.1v13.2v13.8v9v11.4m1 -145.2v9.6v25.3v27.1v17.7v17v11.6v36.9m1 -36.9v15.6v4.2v9.2v13.4v9.6v3.8v6.1v1.2m1 -1.2v10.9v6.9v8.8v3.7v5.6m1 -16.4v22m1 -14v16m1 -12v25m1 -23v31m1 -33v29m1 -25v36m1 -36v24m1 -23v20m1 -19v31m1 -31v29m1 -30v30m1 -29v31m1 -33v28m1 -30v42m1 -43v35m1 -35v32m1 -26v27m1 -27v16m1 -17v45m1 -48v37m1 -37v35m1 -31v25m1 -25v29m1 -29v26m1 -28v30m1 -31v17m1 -16v28m1 -26v28m1 -31v32m1 -30v30m1 -30v28m1 -27v25m1 -27v34m1 -33v28m1 -27v25m1 -27v31m1 -31v31m1 -31v35m1 -36v32m1 -33v37m1 -32v29m1 -33v33m1 -31v28m1 -26v22m1 -25v30m1 -31v29m1 -26v29m1 -29v23m1 -27v16m1 -17v39m1 -39v29m1 -21v24m1 -27v29m1 -31v28m1 -30v33m1 -32v28m1 -25v23m1 -25v29m1 -29v30m1 -30v30m1 -29v24m1 -19v24m1 -27v35m1 -35v29m1 -33v34m1 -33v29m1 -29v37m1 -38v33m1 -36v25m1 -19v22m1 -17v24m1 -31v31m1 -31v30m1 -28v39m1 -43v37m1 -35v35m1 -35v24m1 -25v30m1 -29v29m1 -32v37m1 -36v28m1 -29v23m1 -15v24m1 -30v32m1 -30v28m1 -29v37m1 -38v38m1 -33v29m1 -34v37m1 -35v27m1 -25v32m1 -36v32m1 -31v24m1 -23v24m1 -22v32m1 -26v16m1 -22v18m1 -14v28m1 -34v28m1 -28v37m1 -32v25m1 -35v36m1 -25v21m1 -29v31m1 -31v34m1 -32v33m1 -41v37m1 -30v35m1 -35v32m1 -37v33m1 -33v40m1 -37v32m1 -29v29m1 -33v34m1 -29v30m1 -30v32m1 -34v28m1 -28v29m1 -27v27m1 -29v14m1 -16v36m1 -34v32m1 -30v29m1 -30v31m1 -31v32m1 -31v21m1 -21v25m1 -30v38m1 -37v32m1 -31v30m1 -26v24m1 -26v29m1 -31v31m1 -29v32m1 -33v36m1 -34v29m1 -29v29m1 -29v27m1 -28v29m1 -28v28m1 -29v28m1 -28v28m1 -23v28m1 -38v22m1 -16v35m1 -32v23m1 -27v27m1 -13v17m1 -28v31m1 -27v26m1 -32v30m1 -33v32m1 -31v31m1 -29v26m1 -27v29m1 -24v23m1 -30v42m1 -42v32m1 -31v34m1 -32v18m1 -19v28m1 -29v32m1 -31v30m1 -31v35m1 -26v33m1 -41v32m1 -32v27m1 -31v26m1 -20v33m1 -36v33m1 -33v35m1 -34v38m1 -42v31m1 -25v25m1 -25v38m1 -37v24m1 -25v33m1 -35v33m1 -32v26m1 -27v33m1 -32v25m1 -50v57m1 -35v31m1 -31v36m1 -36v28m1 -30v34m1 -28v25m1 -25v26m1 -29v36m1 -36v30m1 -32v26m1 -26v30m1 -26v29m1 -26v25m1 -27v37m1 -38v44m1 -47v26m1 -23v29m1 -29v20m1 -22v30m1 -25v27m1 -31v40m1 -39v35m1 -36v31m1 -28v28m1 -30v32m1 -35v32m1 -29v29m1 -30v32m1 -31v28m1 -28v56m1 -59v32m1 -29v32m1 -34v31m1 -28v31m1 -31v35m1 -38v38m1 -38v23m1 -17v21m1 -27v36m1 -37v21m1 -20v29m1 -28v30m1 -33v31m1 -28v31m1 -38v27m1 -15v24m1 -29v31m1 -32v38m1 -35v29m1 -31v28m1 -26v32m1 -33v30m1 -36v34m1 -34v39m1 -35v29m1 -27v30m1 -23v22m1 -31v35m1 -34v34m1 -37v25m1 -20v20m1 -23v24m1 -24v39m1 -40v25m1 -29v35m1 -32v32m1 -29v28m1 -26v39m1 -48v35m1 -29v31m1 -30v27m1 -29v30m1 -30v32m1 -31v33m1 -31v27m1 -28v27m1 -27v29m1 -27v29m1 -35v22m1 -20v19m1 -16v30m1 -36v30m1 -33v30m1 -24v28m1 -29v28m1 -30v20m1 -20v30m1 -33v24m1 -24v30m1 -30v28m1 -25v26m1 -28v25m1 -25v30m1 -32v24m1 -25v29m1 -30v23m1 -23v24m1 -24v20m1 -27v28m1 -28v21m1 -20v19m1 -21v23m1 -27v24m1 -30v23m1 -26.2v3.1v3v5.6v5.7v1.1m1 -23.6v4.5v4.8v3.5v5.2m1 -24.7v11m1 -10v10m1 -14.9v2.8v3.4v10.1m1 -14.5v3.2v6.5v2.8v2m1 -15v4v9.6v5.8m1 -24.2v5.9v5.4v12.9m1 -20.8v2.7v4.2v4v4.8m1 -17.9v8.4v2.9v3v3.4m1 -20.5v4m1 -20.6v2.8v7.7v6.4m1 -37.2v7.6v4.3v4.7v4.4m1 -33.4v2.9v5v4.5v.2m1 -29.1v3v4v2.5v7m1 -27.4v3v4.2v3v2.7v.3m1 -22.5v9m1 -16v8m1 -13v5m1 -10v5m1 -7v3m1 -4v3m1 -3v2m1 -2v2m1 -2v2m1 -9v8m1 -35.5v7.7v2.5v3.2v5.4v5v3.3m1 -252.8v54.9v61.5v39.5v30.5v14.2v7.2v8v9.9v2m1 -227.7v18.5v70v47.4v34.3v23.7v12.9v12v8.9m1 0v5.5v8.8v10.7v5.7v5v6.1v5.5v3.8v4.4m1 0v3.6v4.1v4.5v5v5.5v2.8m1 0v3.9v5.2v6v6.6v3.5v8.8v3.8m1 -.6v7.3v4.3v4.5v7.1v3m1 -3v3.6v2.7v4.1v5.1v2.6v5.5m1 -4.8v4.8v3v4.3v11.6v5.6m1 -28v26m1 -30.8v3.4v3.7v3.2v2.7v3.1v5.7m1 -25.2v4.3v4.2v5.2v3.6m1 -16.3v6.4v4.5v4.3v1.1m1 -14.8v4.9v2.9v3.2v3.5v.3m1 -6.1v2.6v2.6v2.6v2.8v5.6m1 -10.2v28m1 -22v22m1 -20v26m1 -24v29m1 -26v25m1 -23v28m1 -26v26m1 -27v27m1 -28v25m1 -25v31m1 -27v25m1 -26v25m1 -26v26m1 -16v25m1 -33v25m1 -27v49m1 -45v18m1 -21v30m1 -24v34m1 -39v28m1 -27v30m1 -18v19m1 -31v32m1 -28v25m1 -30v31m1 -31v25m1 -26v32m1 -30v35m1 -35v35m1 -35v31m1 -32v29m1 -27v31m1 -29v26m1 -27v34m1 -35v38m1 -41v24m1 -20v26m1 -27v33m1 -35v31m1 -30v24m1 -22v31m1 -33v55m1 -57v34m1 -34v34m1 -30v24m1 -26v25m1 -23v28m1 -30v28m1 -21v28m1 -34v26m1 -26v38m1 -37v26m1 -24v22m1 -23v34m1 -36v35m1 -33v30m1 -32v24m1 -23v31m1 -28v30m1 -36v36m1 -36v33m1 -33v32m1 -23v25m1 -29v25m1 -27v29m1 -29v30m1 -34v28m1 -18v22m1 -28v28m1 -31v38m1 -38v39m1 -34v32m1 -37v30m1 -29v34m1 -30v27m1 -22v23m1 -30v26m1 -29v34m1 -31v31m1 -31v29m1 -24v20m1 -25v32m1 -33v36m1 -35v31m1 -31v26m1 -27v33m1 -33v30m1 -29v30m1 -31v23m1 -22v35m1 -34v33m1 -35v33m1 -33v29m1 -29v31m1 -30v35m1 -44v44m1 -37v28m1 -28v32m1 -37v46m1 -41v35m1 -35v26m1 -26v30m1 -32v39m1 -37v37m1 -36v36m1 -36v25m1 -20v23m1 -28v33m1 -32v36m1 -37v29m1 -30v29m1 -29v31m1 -30v32m1 -33v20m1 -18v21m1 -21v19m1 -19v31m1 -33v31m1 -29v31m1 -33v37m1 -42v39m1 -35v42m1 -38v15m1 -16v26m1 -27v29m1 -31v32m1 -33v43m1 -32v24m1 -33v31m1 -33v37m1 -28v25m1 -24v21m1 -29v27m1 -26v32m1 -35v22m1 -23v31m1 -31v30m1 -28v29m1 -32v33m1 -30v36m1 -34v34m1 -35v27m1 -27v19m1 -18v31m1 -34v27m1 -27v31m1 -29v27m1 -27v36m1 -35v35m1 -35v38m1 -38v38m1 -40v30m1 -27v31m1 -28v28m1 -31v29m1 -31v26m1 -24v28m1 -27v32m1 -31v18m1 -20v34m1 -35v29m1 -28v29m1 -30v33m1 -33v28m1 -28v30m1 -32v29m1 -25v32m1 -36v26m1 -24v31m1 -33v46m1 -42v30m1 -31v34m1 -31v28m1 -34v38m1 -46v35m1 -28v43m1 -37v25m1 -45v62m1 -45v35m1 -33v33m1 -34v21m1 -23v22m1 -19v32m1 -35v33m1 -27v28m1 -34v27m1 -26v26m1 -25v32m1 -33v24m1 -25v39m1 -31v18m1 -25v28m1 -28v32m1 -32v33m1 -33v33m1 -32v28m1 -33v37m1 -33v37m1 -36v30m1 -31v41m1 -43v16m1 -16v24m1 -43v53m1 -53v47m1 -25v35m1 -36v36m1 -30v26m1 -39v35m1 -29v32m1 -32v32m1 -29v29m1 -16v14m1 -28v29m1 -29v28m1 -32v28m1 -26v36m1 -34v30m1 -31v30m1 -31v31m1 -31v30m1 -25v25m1 -31v29m1 -14v18m1 -30v26m1 -26v34m1 -34v33m1 -33v39m1 -34v23m1 -27v18m1 -20v30m1 -31v32m1 -31v25m1 -32v43m1 -37v29m1 -29v34m1 -33v32m1 -28v30m1 -32v19m1 -19v35m1 -41v31m1 -25v25m1 -24v22m1 -19v22m1 -28v32m1 -31v27m1 -28v26m1 -28v33m1 -30v31m1 -37v33m1 -35v24m1 -24v43m1 -39v35m1 -34v29m1 -24v30m1 -28v19m1 -15v20m1 -28v28m1 -28v39m1 -42v23m1 -15v22m1 -25v29m1 -20v14m1 -26v28m1 -31v25m1 -25v40m1 -28v19m1 -15v23m1 -37v30m1 -31v26m1 -14v31m1 -44v31m1 -29v30m1 -30v37m1 -37v47m1 -48v29m1 -29v32m1 -32v31m1 -30v13m1 -11v28m1 -28v32m1 -31v33m1 -33v30m1 -32v27m1 -25v21m1 -25v31m1 -29v23m1 -22v48m1 -47v29m1 -31v28m1 -28v22m1 -24v33m1 -31v24m1 -23v33m1 -35v28m1 -26v30m1 -33v31m1 -25v24m1 -25v23m1 -25v25m1 -20v25m1 -31v28m1 -21v28m1 -28v21m1 -28v24m1 -22v28m1 -32v22m1 -8v27m1 -41v35m1 -36v32m1 -29v37m1 -38v32m1 -33v21m1 -21v29m1 -30v34m1 -29v31m1 -32v32m1 -34v32m1 -30v33m1 -35v36m1 -36v41m1 -38v29m1 -49v49m1 -32v41m1 -45v29m1 -25v35m1 -33v32m1 -27v24m1 -30v27m1 -31v38m1 -34v25m1 -27v32m1 -29v25m1 -29v35m1 -32v31m1 -31v30m1 -24v23m1 -29v29m1 -24v26m1 -28v30m1 -34v31m1 -30v32m1 -32v35m1 -58.8v3.2v15.3v9.8v3.1v4.3v9.3v7.6m1 -90.7v10.8v7.6v19.5v22.8v8.5v11.9v4.5m1 -25.7v26m1 -26v32m1 -29v49m1 -51v20m1 -22v36m1 -32v28m1 -29v28m1 -29v21m1 -19v27m1 -32v40m1 -37v32m1 -32v31m1 -31v29m1 -25v25m1 -26v25m1 -35v43m1 -34v28m1 -29v31m1 -32v32m1 -32v20m1 -17v27m1 -28v34m1 -38v35m1 -31v33m1 -34v30m1 -30v28m1 -27v30m1 -39v38m1 -33v22m1 -15v29m1 -35v29m1 -42v36m1 -24v36m1 -35v29m1 -26v21m1 -23v33m1 -33v28m1 -21v21m1 -22v24m1 -29v22m1 -21v22m1 -25v33m1 -31v31m1 -30v22m1 -22v30m1 -33v31m1 -35v33m1 -33v37m1 -31v28m1 -28v27m1 -28v30m1 -30v29m1 -28v33m1 -33v30m1 -30v34m1 -35v35m1 -36v36m1 -36v32m1 -28v28m1 -30v27m1 -27v39m1 -40v39m1 -44v32m1 -28v33m1 -32v38m1 -44v42m1 -34v27m1 -30v33m1 -39v39m1 -26v23m1 -31v37m1 -36v35m1 -34v29m1 -27v38m1 -38v38m1 -40v33m1 -33v28m1 -27v26m1 -23v28m1 -29v27m1 -27v35m1 -36v32m1 -34v31m1 -29v36m1 -40v30m1 -28v31m1 -34v36m1 -35v29m1 -28v32m1 -27v33m1 -37v32m1 -21v22m1 -30v20m1 -22v27m1 -25v30m1 -33v23m1 -22v32m1 -35v35m1 -32v32m1 -30v25m1 -30v37m1 -29v28m1 -36v31m1 -30v33m1 -33v31m1 -29v40m1 -38v38m1 -39v26m1 -26v27m1 -31v35m1 -33v42m1 -42v30m1 -16v15" fill="none" stroke="#FF0000" stroke-width="1.1" stroke-linejoin="round" marker-start="url(#cR)" marker-mid="url(#cR)" marker-end="url(#cR)"/><path d="M238.5 1469v34m1 -27v28m1 -38v37m1 -33v59m1 -65v37m1 -38v36m1 -36v39m1 -28v27m1 -28v31m1 -35v35m1 -35v41m1 -48v43m1 -28v26m1 -38v40m1 -45v36m1 -32v46m1 -43v40m1 -29v29m1 -38v41m1 -40v34m1 -37v38m1 -36v37m1 -44v44m1 -42v39m1 -39v48m1 -54v54m1 -47v34m1 -32v30m1 -30v34m1 -45v28m1 -18v18m1 -18v27m1 -27v47m1 -56v44m1 -41v52m1 -44v31m1 -37v40m1 -41v40m1 -35v35m1 -42v42m1 -36v45m1 -44v32m1 -32v45m1 -44v38m1 -36v32m1 -35v43m1 -45v38m1 -40v40m1 -43v50m1 -43v43m1 -43v36m1 -44v51m1 -51v48m1 -40v32m1 -34v34m1 -28v35m1 -51v42m1 -34v26m1 -119.8v30.2v12v22.2v7.8v6v3.7v7.7v10.7m1 -129.9v6.6v3.4v19.6v2.7v23.8v14.9v9.7v14.8v34.4m1 -34.5v59m1 -24v29m1 -36v44m1 -44v33m1 -28v43m1 -45v37m1 -36v35m1 -31v24m1 -32v39m1 -39v30m1 -29v29m1 -22v29m1 -30v30m1 -35v38m1 -37v37m1 -37v44m1 -46v29m1 -15v31m1 -46v47m1 -47v37m1 -36v41m1 -38v43m1 -43v43m1 -47v34m1 -34v38m1 -38v42m1 -53v47m1 -38v41m1 -39v38m1 -38v34m1 -33v35m1 -36v42m1 -36v27m1 -28v34m1 -41v35m1 -37v58m1 -58v42m1 -43v48m1 -43v45m1 -45v40m1 -41v52m1 -53v45m1 -43v35m1 -34v29m1 -29v29m1 -25v27m1 -37v48m1 -45v41m1 -34v38m1 -37v17m1 -22v32m1 -27v41m1 -52v51m1 -54v49m1 -36v38m1 -43v42m1 -35v45m1 -56v35m1 -24v34m1 -36v33m1 -34v30m1 -40v44m1 -37v40m1 -40v20m1 -20v40m1 -34v37m1 -36v33m1 -35v24m1 -23v47m1 -54v34m1 -34v34m1 -34v45m1 -39v42m1 -48v33m1 -29v39m1 -43v47m1 -47v44m1 -33v31m1 -41v36m1 -36v31m1 -25v31m1 -36v47m1 -47v37m1 -39v45m1 -43v39m1 -39v36m1 -36v40m1 -37v35m1 -44v32m1 -24v32m1 -34v34m1 -36v43m1 -38v40m1 -39v43m1 -45v36m1 -38v44m1 -46v42m1 -37v37m1 -59v68m1 -68v46m1 -32v44m1 -36v41m1 -47v52m1 -34v34m1 -46v38m1 -44v35m1 -30v35m1 -33v30m1 -40v43m1 -36v36m1 -36v40m1 -32v28m1 -32v37m1 -37v43m1 -39v26m1 -21v26m1 -38v37m1 -47v48m1 -37v37m1 -42v40m1 -40v38m1 -37v28m1 -23v31m1 -43v51m1 -39v30m1 -31v47m1 -47v27m1 -23v40m1 -50v45m1 -42v38m1 -42v44m1 -36v34m1 -42v44m1 -37v28m1 -24v26m1 -34v44m1 -46v47m1 -37v36m1 -46v48m1 -42v46m1 -50v40m1 -34v38m1 -48v45m1 -45v50m1 -36v32m1 -32v26m1 -49v54m1 -44v46m1 -44v44m1 -40v30m1 -32v24m1 -20v35m1 -38v41m1 -48v48m1 -46v46m1 -43v41m1 -44v42m1 -36v23m1 -25v32m1 -38v38m1 -41v49m1 -37v35m1 -38v31m1 -30v24m1 -21v33m1 -33v36m1 -44v48m1 -42v38m1 -35v28m1 -35v49m1 -42v42m1 -42v33m1 -35v36m1 -38v37m1 -40v37m1 -26v27m1 -35v44m1 -40v33m1 -37v38m1 -41v51m1 -50v44m1 -44v29m1 -27v40m1 -45v43m1 -49v50m1 -50v45m1 -38v24m1 -19v36m1 -40v35m1 -30v30m1 -31v38m1 -36v31m1 -36v33m1 -26v29m1 -34v39m1 -41v29m1 -31v44m1 -40v43m1 -43v39m1 -38v35m1 -35v37m1 -51v29m1 -18v42m1 -44v35m1 -30v26m1 -19v27m1 -23v30m1 -40v37m1 -38v27m1 -26v26m1 -18v20m1 -20v25m1 -29v44m1 -53v39m1 -34v38m1 -45v30m1 -30v31m1 -28v39m1 -36v35m1 -29v32m1 -44v32m1 -28v31m1 -35v27m1 -27v39m1 -37v36m1 -36v51m1 -52v42m1 -38v34m1 -34v29m1 -30v32m1 -29v41m1 -49v45m1 -35v35m1 -41v47m1 -53v47m1 -38v45m1 -45v23m1 -30v35m1 -38v54m1 -51v46m1 -40v39m1 -38v48m1 -52v40m1 -40v40m1 -37v29m1 -26v38m1 -40v36m1 -33v31m1 -29v35m1 -43v32m1 -38v48m1 -40v41m1 -44v23m1 -23v45m1 -46v39m1 -39v36m1 -31v21m1 -25v49m1 -44v24m1 -30v30m1 -30v49m1 -45v38m1 -38v37m1 -44v32m1 -31v40m1 -37v31m1 -27v32m1 -35v35m1 -37v28m1 -16v31m1 -39v31m1 -32v34m1 -48v43m1 -32v35m1 -31v30m1 -30v20m1 -24v32m1 -36v34m1 -40v37m1 -30v30m1 -39v38m1 -29v36m1 -45v45m1 -47v49m1 -43v27m1 -30v26m1 -39v34m1 -34v22m1 -23.8v4.8v4.5v8.4v3.5m1 -24.3v3.2v4.7v2.7v5.2v2.8m1 -22.9v4v3v4.3v3.6v3.7m1 -22.2v3.6v6v2.6v2.8v5.9m1 -16.3v3v5.1v2.9v3v2.3m1 -13.4v6.6v3.4v3.8v3m1 -17.9v3v6.6v9.6v3.3m1 -31.7v6.6v3.2v6.8v3.8v7.5m1 -39.8v5.6v3.3v3v3v5.1m1 -35.1v4.3v2.8v3.5v10.4m1 -32.5v2.8v3.1v2.9v3v3.2v.8m1 -31.5v2.7v4.1v8.9v.7m1 -22.6v8m1 -17.4v4.2v3.9v2.9v2m1 -21.6v9m1 -17v9m1 -14v6m1 -7v3m1 -7v4m1 -5v3m1 -5v3m1 -4v4m1 -5v3m1 -5v5m1 -17v3.2v3v3v2.5v1m1 -80.9v15.7v11.8v9.6v8.7v5.7v6.3v4.4v6m1 -254.7v11.7v22.6v29.3v31.9v30.2v24.1v19.9v16.8m1 -186.5v2.8v15.4v24.2v29.1v30.3v27.6v20.9v15.4v20.8m1 -20.8v14.9v11.7v8.7v8.1v5.1v6v7v5.3v9.7m1 0v11v9.4v7.8v6.9v9v6.7v8v1.3m1 0v3.9v7.1v6.7v4.3v2.6v1.6m1 -4.2v9.9v3.1v3.5v3.4v4.5v7v10.6m1 -.6v3.1v4.6v2.6v3.7m1 -5.9v6.8v4.2v3.3v8.4m1 -15.6v6v5.7v2.7v9m1 -22v6.1v3v2.6v3v2.9v2.4m1 -25.1v11.2v4.6v2.9v3.3m1 -24.6v11.5v6.1v3.2v1.4m1 -22.2v2.9v3.4v3.1v3.3v9.2v.3m1 -19.3v7.1v4.4v6.3v6.3v2.3m1 -21.8v2.6v2.7v6.4v4v6.1m1 -18.2v19m1 -13v14m1 -7v24m1 -21v23m1 -24v25m1 -25v34m1 -23v29m1 -32v32m1 -37v28m1 -27v33m1 -29v32m1 -27v33m1 -35v38m1 -33v23m1 -29v27m1 -32v43m1 -41v36m1 -41v45m1 -43v46m1 -46v57m1 -45v32m1 -35v43m1 -49v41m1 -32v34m1 -29v24m1 -28v35m1 -38v36m1 -45v46m1 -34v29m1 -32v36m1 -39v48m1 -42v37m1 -38v30m1 -46v57m1 -48v51m1 -48v34m1 -33v51m1 -48v30m1 -33v41m1 -51v42m1 -36v30m1 -35v45m1 -40v39m1 -42v36m1 -38v48m1 -39v47m1 -55v46m1 -38v51m1 -51v32m1 -26v33m1 -43v43m1 -36v33m1 -33v35m1 -35v35m1 -45v48m1 -41v37m1 -37v37m1 -38v38m1 -40v54m1 -47v25m1 -23v25m1 -28v37m1 -43v39m1 -33v40m1 -43v52m1 -59v33m1 -27v34m1 -33v26m1 -24v49m1 -66v45m1 -44v56m1 -40v36m1 -40v32m1 -33v29m1 -28v28m1 -29v40m1 -35v34m1 -36v38m1 -36v35m1 -35v41m1 -46v42m1 -42v29m1 -29v32m1 -29v30m1 -38v46m1 -31v31m1 -34v44m1 -50v40m1 -34v38m1 -43v39m1 -22v26m1 -48v48m1 -48v42m1 -38v55m1 -51v26m1 -32v24m1 -35v44m1 -28v36m1 -41v40m1 -38v41m1 -40v31m1 -27v34m1 -37v37m1 -40v41m1 -40v39m1 -36v43m1 -43v42m1 -44v37m1 -34v40m1 -35v21m1 -34v43m1 -35v50m1 -52v35m1 -41v45m1 -38v38m1 -49v40m1 -29v42m1 -43v43m1 -44v47m1 -44v32m1 -34v44m1 -39v32m1 -38v38m1 -34v35m1 -37v28m1 -26v39m1 -39v37m1 -39v33m1 -30v28m1 -32v33m1 -31v45m1 -50v41m1 -41v40m1 -41v45m1 -45v44m1 -38v34m1 -30v37m1 -44v38m1 -34v34m1 -32v35m1 -42v42m1 -42v46m1 -52v43m1 -32v37m1 -36v39m1 -46v41m1 -39v37m1 -40v31m1 -24v34m1 -39v37m1 -37v29m1 -28v19m1 -13v32m1 -37v42m1 -44v44m1 -42v27m1 -30v48m1 -46v46m1 -46v26m1 -18v15m1 -19v26m1 -37v47m1 -44v44m1 -28v23m1 -31v34m1 -34v12m1 -10v25m1 -33v41m1 -43v45m1 -40v37m1 -41v41m1 -38v35m1 -35v39m1 -41v44m1 -41v41m1 -41v41m1 -34v32m1 -48v54m1 -32v35m1 -49v35m1 -34v37m1 -41v42m1 -45v45m1 -37v37m1 -37v41m1 -45v51m1 -49v49m1 -49v38m1 -43v36m1 -38v45m1 -35v46m1 -54v40m1 -39v51m1 -49v42m1 -35v35m1 -31v32m1 -49v41m1 -29v44m1 -55v47m1 -42v39m1 -32v27m1 -36v37m1 -34v30m1 -26v38m1 -36v32m1 -36v32m1 -32v37m1 -39v61m1 -62v33m1 -26v44m1 -40v40m1 -45v31m1 -38v39m1 -39v47m1 -44v36m1 -39v38m1 -37v49m1 -35v21m1 -38v50m1 -50v28m1 -21v34m1 -39v42m1 -37v37m1 -44v47m1 -40v40m1 -42v39m1 -34v37m1 -37v36m1 -40v26m1 -28v38m1 -36v40m1 -44v41m1 -38v58m1 -59v34m1 -35v43m1 -44v35m1 -27v27m1 -27v27m1 -35v46m1 -49v43m1 -32v27m1 -34v39m1 -33v19m1 -22v26m1 -24v37m1 -43v34m1 -29v40m1 -45v47m1 -41v37m1 -41v38m1 -44v51m1 -44v46m1 -42v27m1 -30v34m1 -31v31m1 -37v44m1 -49v44m1 -36v29m1 -29v37m1 -34v39m1 -48v47m1 -41v37m1 -41v41m1 -36v40m1 -41v32m1 -38v56m1 -47v45m1 -46v40m1 -40v25m1 -23v32m1 -28v32m1 -32v25m1 -34v32m1 -35v43m1 -43v44m1 -41v13m1 -17v34m1 -28v43m1 -46v45m1 -49v50m1 -48v28m1 -21v42m1 -47v24m1 -22v30m1 -32v30m1 -30v30m1 -26v32m1 -38v50m1 -49v33m1 -26v24m1 -26v25m1 -30v46m1 -43v29m1 -32v40m1 -53v53m1 -33v32m1 -32v32m1 -35v44m1 -43v26m1 -27v40m1 -42v34m1 -34v38m1 -36v28m1 -39v49m1 -49v38m1 -29v30m1 -26v33m1 -36v35m1 -40v40m1 -33v25m1 -38v40m1 -29v29m1 -28v27m1 -31v35m1 -35v39m1 -38v31m1 -35v44m1 -41v38m1 -39v39m1 -39v35m1 -29v37m1 -34v33m1 -34v26m1 -32v40m1 -36v37m1 -38v37m1 -35v36m1 -42v45m1 -39v39m1 -38v30m1 -36v33m1 -28v39m1 -38v39m1 -47v39m1 -33v42m1 -44v53m1 -55v44m1 -42v42m1 -39v29m1 -32v25m1 -19v36m1 -68.6v20.2v3v6.9v8.1v5.1v8.6v3.9m1 -86.8v2.7v11.3v7.5v11.8v4.7v8.1v27v13.7m1 -29.2v27m1 -36v48m1 -62v63m1 -46v39m1 -34v34m1 -32v27m1 -25v23m1 -19v22m1 -32v32m1 -33v42m1 -36v26m1 -32v50m1 -36v18m1 -24v21m1 -31v52m1 -35v36m1 -40v31m1 -46v31m1 -31v43m1 -45v51m1 -33v33m1 -40v42m1 -39v39m1 -54v42m1 -31v33m1 -35v40m1 -36v33m1 -38v35m1 -35v35m1 -28v31m1 -35v36m1 -46v36m1 -27v38m1 -38v42m1 -45v38m1 -39v49m1 -43v18m1 -13v29m1 -32v32m1 -35v23m1 -11v28m1 -39v36m1 -35v26m1 -25v22m1 -26v41m1 -38v38m1 -38v41m1 -45v36m1 -40v49m1 -42v40m1 -47v45m1 -41v42m1 -42v44m1 -26v26m1 -40v40m1 -41v18m1 -14v43m1 -52v43m1 -38v42m1 -44v40m1 -46v43m1 -32v32m1 -32v33m1 -35v39m1 -37v38m1 -48v52m1 -49v44m1 -39v63m1 -57v57m1 -67v41m1 -37v36m1 -36v34m1 -46v47m1 -36v37m1 -41v40m1 -42v40m1 -37v39m1 -33v33m1 -34v32m1 -32v26m1 -32v43m1 -44v44m1 -35v28m1 -33v42m1 -41v46m1 -42v26m1 -40v40m1 -28v38m1 -42v38m1 -37v33m1 -34v29m1 -29v40m1 -37v37m1 -47v52m1 -50v35m1 -25v43m1 -49v42m1 -45v44m1 -39v39m1 -38v34m1 -34v37m1 -34v41m1 -41v25m1 -35v44m1 -37v38m1 -37v29m1 -30v42m1 -47v47m1 -46v38m1 -32v34m1 -44v39m1 -35v34m1 -31v20" fill="none" stroke="#FFE600" stroke-width="1.1" stroke-linejoin="round" marker-start="url(#cY)" marker-mid="url(#cY)" marker-end="url(#cY)"/><path d="M238.5 1473v26m1 -25v31m1 -30v31m1 -38v28m1 -28v39m1 -34v31m1 -32v29m1 -29v29m1 -28v41m1 -43v38m1 -37v31m1 -27v22m1 -24v33m1 -26v24m1 -34v31m1 -28v35m1 -35v27m1 -27v32m1 -32v30m1 -33v36m1 -35v35m1 -35v33m1 -31v31m1 -31v40m1 -39v28m1 -27v25m1 -24v28m1 -33v32m1 -30v30m1 -30v29m1 -29v31m1 -32v21m1 -19v28m1 -28v32m1 -33v38m1 -38v37m1 -37v37m1 -34v23m1 -30v33m1 -33v38m1 -38v37m1 -36v39m1 -55v49m1 -49v49m1 -27v32m1 -35v26m1 -25v22m1 -24v32m1 -30v28m1 -26v31m1 -33v33m1 -37v31m1 -26v29m1 -30v16m1 -18v30m1 -29v26m1 -29v21m1 -18v26m1 -110.9v31v12.2v20.9v9.6v6.2v5.5v1.3m1 -120.6v10v3v20.9v2.7v21.8v12.9v21.2v28.1m1 -27.8v46m1 -18v24m1 -28v26m1 -26v25m1 -25v36m1 -40v37m1 -37v33m1 -28v33m1 -33v31m1 -29v27m1 -32v33m1 -29v23m1 -24v26m1 -29v41m1 -26v26m1 -36v26m1 -23v21m1 -24v25m1 -23v21m1 -19v15m1 -19v28m1 -26v25m1 -30v32m1 -34v32m1 -29v32m1 -31v25m1 -23v33m1 -36v27m1 -25v27m1 -27v26m1 -21v24m1 -32v30m1 -28v23m1 -25v35m1 -37v28m1 -25v25m1 -29v33m1 -33v35m1 -31v31m1 -30v33m1 -35v37m1 -37v36m1 -37v46m1 -46v32m1 -31v30m1 -30v19m1 -16v27m1 -34v32m1 -40v35m1 -24v31m1 -30v19m1 -20v31m1 -15v22m1 -32v24m1 -27v35m1 -36v30m1 -24v33m1 -41v41m1 -41v34m1 -31v29m1 -28v29m1 -24v25m1 -31v38m1 -38v30m1 -27v26m1 -30v35m1 -35v41m1 -39v30m1 -30v26m1 -26v28m1 -29v31m1 -34v31m1 -29v30m1 -31v34m1 -34v36m1 -36v24m1 -26v31m1 -28v22m1 -22v31m1 -33v31m1 -31v38m1 -35v34m1 -34v36m1 -36v20m1 -33v49m1 -35v35m1 -37v35m1 -35v28m1 -29v34m1 -27v25m1 -32v42m1 -42v35m1 -35v32m1 -26v24m1 -36v37m1 -28v35m1 -36v28m1 -31v31m1 -33v35m1 -31v28m1 -30v33m1 -30v30m1 -31v20m1 -21v32m1 -44v37m1 -22v28m1 -30v36m1 -35v33m1 -22v40m1 -51v51m1 -58v32m1 -27v38m1 -37v29m1 -27v26m1 -28v35m1 -36v39m1 -34v28m1 -27v26m1 -30v31m1 -31v27m1 -27v28m1 -35v35m1 -27v27m1 -28v34m1 -35v28m1 -23v28m1 -28v30m1 -35v29m1 -30v40m1 -33v30m1 -36v25m1 -24v27m1 -27v34m1 -29v29m1 -37v31m1 -29v26m1 -24v26m1 -26v25m1 -26v31m1 -32v29m1 -31v25m1 -22v21m1 -22v38m1 -38v38m1 -36v35m1 -29v29m1 -36v33m1 -33v30m1 -35v39m1 -33v38m1 -43v32m1 -23v20m1 -27v30m1 -29v32m1 -31v30m1 -28v27m1 -33v28m1 -28v33m1 -29v18m1 -21v28m1 -28v25m1 -23v30m1 -30v34m1 -38v40m1 -35v32m1 -30v36m1 -37v37m1 -43v38m1 -34v26m1 -26v28m1 -31v29m1 -26v30m1 -28v39m1 -45v45m1 -36v18m1 -23v34m1 -36v30m1 -29v28m1 -14v22m1 -31v31m1 -40v43m1 -43v35m1 -30v31m1 -31v37m1 -36v27m1 -27v22m1 -21v30m1 -32v33m1 -31v49m1 -44v22m1 -29v31m1 -19v22m1 -35v35m1 -38v31m1 -26v28m1 -28v31m1 -36v26m1 -24v22m1 -20v18m1 -16v34m1 -38v35m1 -30v30m1 -31v28m1 -33v32m1 -19v24m1 -34v39m1 -37v44m1 -44v44m1 -48v40m1 -39v31m1 -29v31m1 -27v24m1 -25v24m1 -25v25m1 -18v22m1 -30v21m1 -22v30m1 -32v40m1 -39v35m1 -35v33m1 -40v43m1 -37v31m1 -30v33m1 -35v30m1 -30v36m1 -36v32m1 -32v32m1 -30v26m1 -25v27m1 -27v37m1 -37v36m1 -36v22m1 -23v18m1 -16v23m1 -21v28m1 -33v29m1 -21v22m1 -34v32m1 -29v30m1 -19v21m1 -29v28m1 -27v26m1 -28v32m1 -31v27m1 -27v24m1 -15v19m1 -21v26m1 -24v27m1 -35v35m1 -46v42m1 -23v13m1 -17v23m1 -27v28m1 -42v40m1 -40v46m1 -35v27m1 -25v23m1 -23v33m1 -35v26m1 -21v18m1 -22v31m1 -31v28m1 -30v35m1 -41v42m1 -35v28m1 -28v33m1 -30v34m1 -39v29m1 -28v27m1 -22v25m1 -30v34m1 -36v16m1 -16v35m1 -32v22m1 -27v27m1 -25v27m1 -29v28m1 -28v28m1 -28v28m1 -29v29m1 -29v23m1 -24v16m1 -16v25m1 -22v21m1 -29v33m1 -35v27m1 -27v23m1 -30v19m1 -24.3v2.8v2.8v3.5v5.9v.9m1 -23.6v11m1 -11v10m1 -13.9v3.3v5.1v3.5v2.4m1 -9.7v3.2v2.5v7.6v7.2m1 -13.2v18m1 -22.4v5.8v3.7v8.7v3.6m1 -24.7v3.8v3.1v3.1v4.5v3.7v6.5m1 -32.1v6.3v3.3v5.5v12.5m1 -41.6v4.4v2.7v3v2.6v10.9m1 -44.2v5.5v6.7v8.4m1 -39.5v5v2.6v3.2v6.2v3.8m1 -35v5.3v5.6v3.4v1.2m1 -24.1v10m1 -20v10m1 -18v10m1 -14v6m1 -10v5m1 -7v5m1 -7v3m1 -3v3m1 -3v4m1 -3v2m1 -3v3m1 -12v9m1 -46.6v6.6v7.5v5.3v4v4.6v3.2v6.3m1 -261.1v54.8v61.6v39.6v30.4v13.6v8.3v7.6v7.7v4.2m1 -227.8v18.5v69.9v47.3v34.4v23.2v13.6v11.4v9.5m1 0v6.8v8.1v10.9v4.4v4.9v7v2.6v7.4v2.5m1 0v3.4v6.2v4.8v6.5v5.6m1 0v4v3.9v6v5.7v2.9v2.8v3.5m1 0v5.9v7.5v4.2v6.8v2.5m1 -2.4v5.6v4.4v5.9v3.2v5.8v2.1m1 -12.4v4v2.6v5.8v2.9v3.4v.4m1 -11.7v12m1 -13.2v2.5v3.7v2.7v3.5v3.1v3.6m1 -19.1v3.2v2.8v4.7v8m1 -20.7v2.5v6.7v3.5v3.9v4.1m1 -15.4v5.2v2.9v2.9v4.4m1 -10.5v20m1 -11v18m1 -16v35m1 -29v30m1 -27v33m1 -28v28m1 -31v28m1 -30v28m1 -24v27m1 -32v34m1 -27v23m1 -23v28m1 -31v31m1 -29v34m1 -30v30m1 -37v30m1 -29v31m1 -18v19m1 -32v33m1 -33v31m1 -35v30m1 -21v27m1 -28v32m1 -32v37m1 -51v46m1 -34v37m1 -35v31m1 -32v32m1 -31v36m1 -22v22m1 -64v62m1 -32v27m1 -32v40m1 -36v24m1 -17v27m1 -33v27m1 -31v31m1 -31v32m1 -31v36m1 -40v34m1 -21v30m1 -37v31m1 -26v23m1 -33v33m1 -33v28m1 -21v26m1 -30v25m1 -22v19m1 -22v32m1 -23v20m1 -23v26m1 -32v28m1 -28v31m1 -28v26m1 -29v31m1 -29v37m1 -38v28m1 -27v20m1 -15v26m1 -30v31m1 -34v29m1 -27v28m1 -34v36m1 -35v35m1 -26v24m1 -29v35m1 -37v36m1 -32v29m1 -29v26m1 -31v32m1 -32v19m1 -13v29m1 -33v29m1 -30v33m1 -31v26m1 -19v29m1 -40v40m1 -40v38m1 -35v26m1 -23v29m1 -31v33m1 -35v42m1 -40v28m1 -29v40m1 -28v28m1 -38v38m1 -34v26m1 -26v24m1 -33v28m1 -24v32m1 -34v22m1 -21v27m1 -30v32m1 -27v20m1 -19v28m1 -29v30m1 -32v25m1 -26v32m1 -29v20m1 -16v24m1 -29v22m1 -21v27m1 -30v31m1 -27v27m1 -27v29m1 -31v27m1 -27v25m1 -27v32m1 -32v28m1 -23v35m1 -36v29m1 -29v36m1 -39v29m1 -28v35m1 -33v33m1 -38v48m1 -47v47m1 -42v30m1 -34v33m1 -34v32m1 -37v35m1 -27v12m1 -12v33m1 -34v28m1 -30v39m1 -38v30m1 -24v24m1 -29v29m1 -28v28m1 -28v33m1 -33v33m1 -35v12m1 -12v37m1 -37v24m1 -24v30m1 -30v32m1 -31v40m1 -41v28m1 -26v29m1 -29v28m1 -34v31m1 -31v42m1 -40v40m1 -36v28m1 -25v25m1 -33v20m1 -17v30m1 -29v30m1 -27v27m1 -28v22m1 -26v36m1 -36v30m1 -29v35m1 -34v30m1 -32v26m1 -25v31m1 -30v32m1 -33v18m1 -12v20m1 -25v28m1 -29v29m1 -28v36m1 -35v28m1 -28v29m1 -33v41m1 -39v27m1 -23v28m1 -28v30m1 -30v26m1 -31v32m1 -29v28m1 -28v34m1 -30v26m1 -31v26m1 -29v42m1 -37v37m1 -41v41m1 -30v24m1 -25v22m1 -30v30m1 -31v36m1 -34v36m1 -37v39m1 -41v35m1 -23v26m1 -34v25m1 -28v29m1 -26v31m1 -32v33m1 -34v34m1 -29v29m1 -32v22m1 -27v33m1 -30v23m1 -22v24m1 -26v26m1 -26v39m1 -36v39m1 -40v29m1 -22v23m1 -21v19m1 -29v31m1 -32v30m1 -23v31m1 -39v37m1 -37v33m1 -30v30m1 -28v27m1 -29v24m1 -26v36m1 -34v28m1 -29v29m1 -29v28m1 -29v31m1 -30v23m1 -29v36m1 -36v36m1 -29v29m1 -26v31m1 -39v31m1 -29v31m1 -30v31m1 -32v33m1 -28v28m1 -31v29m1 -27v23m1 -24v34m1 -37v38m1 -35v32m1 -31v24m1 -18v21m1 -28v27m1 -29v45m1 -29v15m1 -31v28m1 -26v28m1 -27v18m1 -20v27m1 -28v31m1 -28v40m1 -33v20m1 -28v34m1 -30v31m1 -38v30m1 -26v34m1 -39v37m1 -33v27m1 -29v34m1 -35v16m1 -13v26m1 -25v19m1 -20v25m1 -26v33m1 -31v31m1 -34v34m1 -34v33m1 -26v26m1 -32v29m1 -28v29m1 -30v27m1 -26v37m1 -39v35m1 -38v27m1 -25v24m1 -23v37m1 -38v32m1 -30v30m1 -34v32m1 -29v34m1 -25v25m1 -32v25m1 -28v34m1 -32v30m1 -33v36m1 -34v29m1 -29v31m1 -31v33m1 -34v36m1 -38v38m1 -38v29m1 -24v28m1 -28v30m1 -32v29m1 -27v34m1 -34v25m1 -27v35m1 -36v31m1 -31v33m1 -29v28m1 -31v31m1 -22v21m1 -29v33m1 -35v35m1 -31v30m1 -31v32m1 -35v31m1 -31v32m1 -30v28m1 -25v31m1 -34v28m1 -30v43m1 -43v33m1 -32v34m1 -23v26m1 -38v31m1 -27v33m1 -32v32m1 -33v30m1 -33v32m1 -30v37m1 -38v31m1 -29v22m1 -18v26m1 -30v30m1 -31v29m1 -29v30m1 -32v32m1 -32v11m1 -7v23m1 -29v21m1 -24v28m1 -23v29m1 -27v31m1 -28v32m1 -35v29m1 -30v35m1 -40v35m1 -28v24m1 -25v30m1 -27v23m1 -30v30m1 -28v26m1 -26v38m1 -36v31m1 -31v31m1 -31v31m1 -31v29m1 -34v35m1 -31v25m1 -24v35m1 -38v18m1 -19v33m1 -32v31m1 -75.2v7v24.8v13.9v4.4v4.8v11.9v1m1 -103.4v6.2v2.6v23.7v3.1v22.4v7.7v15.1v3.6v13.9m1 -17.5v18m1 -16v32m1 -35v31m1 -31v34m1 -29v25m1 -25v28m1 -31v22m1 -23v30m1 -30v38m1 -34v28m1 -33v22m1 -20v36m1 -38v38m1 -38v37m1 -34v21m1 -20v33m1 -35v30m1 -15v17m1 -36v34m1 -31v35m1 -32v29m1 -31v29m1 -29v29m1 -29v29m1 -27v27m1 -32v43m1 -38v31m1 -33v34m1 -33v33m1 -41v38m1 -38v41m1 -35v38m1 -33v26m1 -27v30m1 -30v31m1 -34v32m1 -33v32m1 -31v31m1 -30v32m1 -36v37m1 -37v31m1 -30v35m1 -33v28m1 -29v35m1 -47v41m1 -26v18m1 -19v26m1 -25v34m1 -36v29m1 -29v34m1 -25v23m1 -34v39m1 -36v34m1 -29v22m1 -28v28m1 -23v24m1 -30v32m1 -31v30m1 -28v53m1 -55v35m1 -32v32m1 -32v26m1 -29v39m1 -41v21m1 -21v29m1 -28v32m1 -31v30m1 -30v35m1 -37v36m1 -33v33m1 -32v29m1 -29v42m1 -42v42m1 -42v14m1 -16v27m1 -26v38m1 -38v30m1 -31v40m1 -39v27m1 -29v31m1 -33v18m1 -14v30m1 -33v35m1 -33v52m1 -50v31m1 -32v29m1 -19v13m1 -17v27m1 -25v28m1 -38v38m1 -36v23m1 -28v39m1 -33v33m1 -33v28m1 -34v38m1 -35v31m1 -19v20m1 -32v29m1 -29v37m1 -40v44m1 -44v36m1 -28v28m1 -27v25m1 -28v29m1 -31v40m1 -42v29m1 -15v20m1 -32v23m1 -21v29m1 -29v26m1 -40v38m1 -24v35m1 -20v17" fill="none" stroke="#00FF00" stroke-width="1.1" stroke-linejoin="round" marker-start="url(#cG)" marker-mid="url(#cG)" marker-end="url(#cG)"/><path d="M238.5 1475v25m1 -28v28m1 -28v26m1 -26v26m1 -24v27m1 -27v25m1 -25v17m1 -17v29m1 -30v26m1 -25v23m1 -27v30m1 -26v34m1 -36v24m1 -23v29m1 -30v26m1 -24v25m1 -27v27m1 -18v18m1 -23v26m1 -27v26m1 -27v27m1 -28v28m1 -28v28m1 -26v25m1 -28v29m1 -18v10m1 -16v21m1 -25v25m1 -23v26m1 -27v27m1 -26v23m1 -26v24m1 -23v23m1 -23v26m1 -19v21m1 -27v27m1 -29v32m1 -29v26m1 -26v25m1 -26v19m1 -17v25m1 -27v29m1 -23v22m1 -29v28m1 -27v30m1 -31v28m1 -28v29m1 -28v20m1 -9v22m1 -34v38m1 -37v26m1 -29v29m1 -29v21m1 -19v25m1 -24v29m1 -32v26m1 -26v27m1 -45v31m1 -122.1v22.6v19.6v11.9v16.7v12.1v8.4v9.5m1 -138.9v11.2v25.6v26.4v16.2v22.4v5.1v32m1 -32v13.7v15.9v2.5v3v3.5v6.4v4.3m1 -17v29m1 -20v30m1 -31v31m1 -30v28m1 -25v31m1 -34v26m1 -25v25m1 -25v27m1 -26v32m1 -32v27m1 -27v26m1 -32v34m1 -29v29m1 -28v27m1 -27v27m1 -26v26m1 -26v25m1 -26v27m1 -26v24m1 -24v29m1 -43v41m1 -27v24m1 -28v27m1 -23v45m1 -47v31m1 -22v19m1 -28v21m1 -21v25m1 -22v22m1 -24v27m1 -28v25m1 -18v23m1 -29v24m1 -21v20m1 -25v24m1 -28v31m1 -24v27m1 -29v31m1 -30v28m1 -27v27m1 -28v25m1 -24v27m1 -31v30m1 -26v26m1 -28v25m1 -23v23m1 -19v22m1 -26v24m1 -25v27m1 -30v25m1 -22v21m1 -21v24m1 -23v17m1 -12v22m1 -27v25m1 -28v26m1 -26v28m1 -30v33m1 -33v29m1 -25v28m1 -30v26m1 -25v27m1 -27v30m1 -29v29m1 -29v29m1 -31v28m1 -25v25m1 -25v27m1 -29v29m1 -27v24m1 -25v28m1 -31v33m1 -29v21m1 -16v24m1 -31v27m1 -25v29m1 -31v33m1 -33v28m1 -28v26m1 -25v25m1 -24v28m1 -28v24m1 -19v21m1 -27v21m1 -21v25m1 -22v24m1 -24v24m1 -29v34m1 -34v26m1 -24v19m1 -19v32m1 -34v34m1 -30v18m1 -13v24m1 -30v25m1 -25v14m1 -17v32m1 -31v27m1 -19v18m1 -26v30m1 -32v28m1 -18v19m1 -26v23m1 -25v23m1 -21v25m1 -25v25m1 -25v25m1 -26v25m1 -22v28m1 -32v29m1 -26v25m1 -21v23m1 -29v26m1 -26v29m1 -24v22m1 -32v37m1 -32v28m1 -27v23m1 -24v24m1 -25v26m1 -25v29m1 -23v23m1 -25v23m1 -29v32m1 -32v35m1 -34v24m1 -19v22m1 -22v23m1 -17v25m1 -39v39m1 -33v27m1 -34v36m1 -30v27m1 -28v26m1 -25v30m1 -30v30m1 -26v28m1 -31v27m1 -30v29m1 -27v27m1 -28v29m1 -29v29m1 -29v29m1 -31v29m1 -28v24m1 -23v25m1 -25v31m1 -30v24m1 -24v25m1 -26v21m1 -16v22m1 -28v28m1 -27v30m1 -31v27m1 -27v27m1 -26v36m1 -37v28m1 -25v23m1 -27v28m1 -25v31m1 -32v27m1 -26v28m1 -27v30m1 -31v25m1 -27v26m1 -24v34m1 -33v24m1 -28v29m1 -27v30m1 -28v25m1 -27v28m1 -26v24m1 -22v21m1 -30v28m1 -26v22m1 -17v26m1 -20v23m1 -26v23m1 -28v31m1 -31v25m1 -25v27m1 -25v26m1 -28v30m1 -25v23m1 -30v30m1 -26v23m1 -23v26m1 -23v27m1 -30v10m1 -8v21m1 -23v26m1 -26v25m1 -40v35m1 -22v30m1 -17v13m1 -25v30m1 -29v24m1 -24v24m1 -25v31m1 -31v25m1 -26v25m1 -25v27m1 -25v25m1 -25v25m1 -22v21m1 -20v25m1 -29v23m1 -19v20m1 -27v26m1 -31v26m1 -11v20m1 -28v28m1 -29v29m1 -31v28m1 -28v27m1 -27v29m1 -26v26m1 -26v26m1 -28v28m1 -26v19m1 -20v27m1 -29v28m1 -24v31m1 -33v27m1 -25v15m1 -18v27m1 -24v23m1 -25v25m1 -26v32m1 -31v27m1 -27v26m1 -23v23m1 -22v22m1 -26v25m1 -24v27m1 -30v25m1 -23v20m1 -11v17m1 -24v25m1 -26v27m1 -47v48m1 -28v25m1 -27v31m1 -29v23m1 -23v23m1 -24v25m1 -25v29m1 -59v59m1 -28v28m1 -18v19m1 -25v24m1 -29v29m1 -29v29m1 -28v27m1 -25v28m1 -31v29m1 -33v29m1 -29v29m1 -24v27m1 -28v32m1 -33v15m1 -10v23m1 -27v29m1 -32v26m1 -26v25m1 -25v25m1 -24v24m1 -26v26m1 -25v26m1 -27v26m1 -19v16m1 -25v26m1 -25v23m1 -22v26m1 -29v25m1 -27v24m1 -20v21m1 -16v16m1 -25v23m1 -26v25m1 -25v22m1 -17v18m1 -23v20m1 -23v24m1 -26v12m1 -17v20m1 -24v14m1 -27.4v7.2v6.8v3.2v1.4m1 -20.7v3v4.2v4.2v1.7m1 -13.6v12m1 -11.7v2.6v2.5v5.7v1.2m1 -10.8v3v3.7v5.9v6.3m1 -11.4v12m1 -8v11m1 -17.5v4.8v5.5v6.4v1.6m1 -37.7v6.5v4.3v3.3v6.9v.4m1 -39.8v5.5v6.8v3.5v2.6m1 -30.4v4.9v3.9v3.2v3v3.6m1 -35.3v3.4v3.1v3.7v6.5m1 -26.9v2.8v3.6v3.8v2.1m1 -21.1v10m1 -19v10m1 -18v8m1 -12v4m1 -6v4m1 -6v4m1 -4v2m1 -3v3m1 -3v4m1 -2v5m1 -7v3m1 -14v11m1 -46.9v7.9v5.7v5.8v3.9v4.3v4.1v3.4v1.1m1 -260.5v54.9v61.5v39.7v30.3v13.9v7.6v7.8v8.6v3.5m1 -227.8v18.5v70v47.3v34.4v23.4v13.1v11.8v9.3m1 0v5.9v9v11v3.5v6.5v5v4.4v4.5v6.5m1 0v4.4v4.8v7v6.7v1.9m1 0v6.1v5.5v6.5v5v2.7v2.9v.3m1 0v4.2v6.5v6v8.5v1.6m1 -1.6v9.3v3.7v2.9v2.9v2.5m1 -2.2v9m1 -8v6m1 -11v11m1 -8.7v3.1v2.6v6.2v1.6m1 -13.1v2.6v3.4v2.6v3.5v1m1 -7.6v2.5v6.4v3.1v9.3m1 -14.5v15m1 -7v22m1 -19v25m1 -21v22m1 -21v22m1 -22v27m1 -27v28m1 -26v27m1 -25v22m1 -22v23m1 -22v23m1 -15v16m1 -17v21m1 -25v20m1 -20v24m1 -22v22m1 -21v23m1 -27v24m1 -18v19m1 -26v22m1 -20v28m1 -21v17m1 -23v26m1 -29v28m1 -26v25m1 -16v22m1 -29v26m1 -26v24m1 -24v22m1 -25v28m1 -25v18m1 -18v25m1 -29v31m1 -27v26m1 -30v30m1 -25v27m1 -29v28m1 -21v22m1 -25v26m1 -29v25m1 -23v27m1 -27v17m1 -20v30m1 -27v25m1 -23v23m1 -27v25m1 -25v24m1 -34v44m1 -35v29m1 -27v23m1 -26v27m1 -26v27m1 -26v23m1 -23v25m1 -25v24m1 -24v24m1 -25v28m1 -27v23m1 -23v29m1 -27v24m1 -29v31m1 -27v22m1 -22v23m1 -24v25m1 -22v24m1 -26v24m1 -27v25m1 -23v28m1 -27v31m1 -31v40m1 -42v26m1 -26v27m1 -26v17m1 -17v24m1 -25v30m1 -30v28m1 -18v15m1 -24v21m1 -14v22m1 -30v17m1 -20v31m1 -28v25m1 -26v29m1 -26v27m1 -38v30m1 -30v36m1 -19v22m1 -29v30m1 -32v32m1 -30v25m1 -26v29m1 -31v31m1 -30v27m1 -24v23m1 -23v30m1 -38v37m1 -29v21m1 -21v29m1 -30v27m1 -29v30m1 -30v27m1 -28v23m1 -19v22m1 -16v23m1 -34v35m1 -31v25m1 -23v15m1 -17v27m1 -26v23m1 -28v24m1 -19v33m1 -35v23m1 -23v27m1 -28v28m1 -26v24m1 -24v24m1 -24v24m1 -24v24m1 -23v34m1 -37v26m1 -22v26m1 -30v29m1 -29v28m1 -28v27m1 -25v24m1 -24v22m1 -18v18m1 -21v30m1 -30v30m1 -25v18m1 -25v24m1 -23v25m1 -25v28m1 -29v28m1 -29v27m1 -20v21m1 -25v24m1 -24v23m1 -23v25m1 -22v21m1 -28v31m1 -31v35m1 -31v31m1 -33v27m1 -26v28m1 -30v27m1 -33v35m1 -35v37m1 -22v23m1 -29v24m1 -23v23m1 -26v28m1 -28v29m1 -27v24m1 -26v26m1 -27v27m1 -27v28m1 -25v23m1 -23v30m1 -34v29m1 -28v33m1 -32v23m1 -21v25m1 -21v19m1 -40v41m1 -26v25m1 -25v27m1 -26v26m1 -23v20m1 -23v24m1 -22v26m1 -29v29m1 -29v28m1 -29v31m1 -30v29m1 -28v27m1 -28v28m1 -27v44m1 -44v26m1 -21v21m1 -25v25m1 -28v30m1 -30v31m1 -29v22m1 -24v28m1 -29v34m1 -33v17m1 -15v27m1 -26v27m1 -30v20m1 -20v28m1 -27v32m1 -28v25m1 -24v24m1 -29v32m1 -21v17m1 -26v24m1 -24v25m1 -27v28m1 -26v27m1 -31v28m1 -18v21m1 -28v18m1 -18v24m1 -25v25m1 -25v25m1 -20v19m1 -24v22m1 -22v26m1 -27v27m1 -26v30m1 -27v25m1 -27v27m1 -24v22m1 -27v29m1 -27v25m1 -19v23m1 -28v28m1 -31v27m1 -24v30m1 -26v22m1 -20v19m1 -26v25m1 -25v27m1 -26v24m1 -28v28m1 -28v29m1 -26v26m1 -24v18m1 -15v20m1 -24v25m1 -13v14m1 -28v30m1 -28v25m1 -28v28m1 -27v27m1 -30v25m1 -23v23m1 -21v25m1 -25v25m1 -25v29m1 -28v24m1 -27v34m1 -34v13m1 -10v23m1 -26v28m1 -27v30m1 -29v32m1 -33v23m1 -21v30m1 -31v31m1 -32v29m1 -28v28m1 -26v30m1 -32v25m1 -26v23m1 -23v25m1 -24v26m1 -29v32m1 -27v24m1 -25v29m1 -31v30m1 -31v29m1 -28v23m1 -25v33m1 -33v22m1 -20v27m1 -40v43m1 -31v32m1 -31v30m1 -32v20m1 -14v23m1 -27v33m1 -31v25m1 -21v20m1 -29v32m1 -28v27m1 -27v28m1 -27v24m1 -25v29m1 -28v26m1 -27v26m1 -25v17m1 -18v25m1 -25v30m1 -33v31m1 -28v27m1 -29v24m1 -24v30m1 -31v31m1 -29v25m1 -21v25m1 -29v31m1 -29v29m1 -29v26m1 -28v28m1 -27v21m1 -19v30m1 -33v26m1 -27v21m1 -17v25m1 -29v30m1 -28v25m1 -26v26m1 -26v28m1 -29v31m1 -28v28m1 -30v28m1 -26v24m1 -27v29m1 -16v18m1 -30v25m1 -23v25m1 -26v26m1 -35v28m1 -20v25m1 -28v31m1 -26v24m1 -26v20m1 -20v28m1 -25v26m1 -27v23m1 -24v33m1 -34v28m1 -17v18m1 -29v30m1 -30v28m1 -35v35m1 -35v34m1 -27v23m1 -21v26m1 -27v27m1 -26v26m1 -27v24m1 -24v29m1 -26v24m1 -28v27m1 -18v16m1 -24v29m1 -29v30m1 -31v26m1 -28v34m1 -40v20m1 -99.5v25.3v23.5v13.6v8.4v10.4v8.2v1.8m1 -123.5v7.6v24.7v5.9v16v25.5v8v22v13.8m1 -14.7v30m1 -21v24m1 -23v28m1 -26v27m1 -29v28m1 -23v24m1 -28v30m1 -31v30m1 -28v28m1 -24v21m1 -24v24m1 -37v29m1 -29v37m1 -26v27m1 -25v23m1 -22v28m1 -30v25m1 -27v32m1 -30v29m1 -28v24m1 -24v28m1 -28v25m1 -28v27m1 -28v27m1 -24v30m1 -29v27m1 -28v28m1 -25v22m1 -27v27m1 -27v27m1 -25v29m1 -29v23m1 -24v30m1 -30v26m1 -25v29m1 -29v28m1 -34v35m1 -26v26m1 -28v23m1 -23v26m1 -27v26m1 -27v26m1 -46v47m1 -44v42m1 -24v28m1 -28v31m1 -31v28m1 -30v30m1 -21v39m1 -41v12m1 -17v28m1 -26v23m1 -25v27m1 -27v24m1 -26v29m1 -29v17m1 -17v17m1 -17v27m1 -26v26m1 -24v24m1 -27v28m1 -28v26m1 -25v26m1 -24v21m1 -23v19m1 -19v29m1 -27v24m1 -25v25m1 -24v27m1 -27v24m1 -26v42m1 -34v19m1 -26v28m1 -26v24m1 -28v23m1 -23v30m1 -27v23m1 -23v20m1 -28v39m1 -32v32m1 -30v28m1 -32v30m1 -27v26m1 -29v23m1 -21v21m1 -22v26m1 -27v26m1 -24v26m1 -25v29m1 -30v25m1 -27v27m1 -27v28m1 -27v27m1 -28v27m1 -25v33m1 -37v37m1 -35v28m1 -28v21m1 -19v25m1 -25v25m1 -26v20m1 -26v31m1 -31v35m1 -24v22m1 -26v25m1 -25v28m1 -28v28m1 -29v27m1 -26v28m1 -28v26m1 -27v25m1 -23v24m1 -6v4" fill="none" stroke="#3300FF" stroke-width="1.1" stroke-linejoin="round" marker-start="url(#cB)" marker-mid="url(#cB)" marker-end="url(#cB)"/></g><g clip-path="url(#clipd)"><path d="M1356.8 1502.1L1358.9 1511.2 1361 1508.5 1363.1 1509.4 1365.2 1499.2 1367.3 1502.5 1369.5 1508.8 1371.6 1504.9 1373.7 1494.2 1375.8 1488.4 1377.9 1502.9 1380 1507.8 1382.1 1486.9 1384.2 1490.4 1386.3 1520.4 1388.4 1494.5 1390.6 1511.2 1392.7 1477.4 1394.8 1490.7 1396.9 1468 1399 1505 1401.1 1516.4 1403.2 1503.4 1405.3 1480.6 1407.4 1489.8 1409.5 1479.6 1411.7 1477.6 1413.8 1484.2 1415.9 1476.8 1418 1467.5 1420.1 1465.9 1422.2 1452.9 1424.3 1467.1 1426.4 1469 1428.5 1462.5 1430.7 1471.3 1432.8 1453.7 1434.9 1445.5 1437 1456.6 1439.1 1456.2 1441.2 1431.4 1443.3 1447.8 1445.4 1440.4 1447.5 1441.2 1449.6 1445.4 1451.8 1439.9 1453.9 1443.6 1456 1442.9 1458.1 1430.2 1460.2 1435.3 1462.3 1430.4 1464.4 1448.7 1466.5 1438.3 1468.6 1429.4 1470.7 1432.3 1472.8 1432 1475 1426.6 1477.1 1413.8 1479.2 1420.7 1481.3 1427.6 1483.4 1432.7 1485.5 1431.7 1487.6 1420.1 1489.7 1427 1491.8 1414.4 1493.9 1431.8 1496.1 1415.9 1498.2 1418.8 1500.3 1422.3 1502.4 1416.4 1504.5 1427.2 1506.6 1429.9 1508.7 1431.4 1510.8 1410.8 1512.9 1435.1 1515 1432.3 1517.2 1429 1519.3 1421.1 1521.4 1440.5 1523.5 1435.2 1525.6 1424.8 1527.7 1436.5 1529.8 1435.3 1531.9 1431.9 1534 1410.1 1536.2 1437.5 1538.3 1417 1540.4 1437.5 1542.5 1421.4 1544.6 1443.5 1546.7 1420.7 1548.8 1418.4 1550.9 1431.6 1553 1439.3 1555.1 1417.8 1557.3 1429.4 1559.4 1433.1 1561.5 1450.8 1563.6 1433 1565.7 1434.2 1567.8 1427.9 1569.9 1436.1 1572 1429 1574.1 1432 1576.2 1430.4 1578.3 1433.2 1580.5 1428.6 1582.6 1406.5 1584.7 1410 1586.8 1423.9 1588.9 1417.5 1591 1409.2 1593.1 1404.8 1595.2 1406.8 1597.3 1403.8 1599.4 1399.8 1601.6 1398.1 1603.7 1389.7 1605.8 1382 1607.9 1381.8 1610 1374.8 1612.1 1371.9 1614.2 1365.4 1616.3 1369 1618.4 1356.5 1620.5 1355.1 1622.7 1349.4 1624.8 1346 1626.9 1338.7 1629 1335.2 1631.1 1326.3 1633.2 1325.2 1635.3 1309.9 1637.4 1304.8 1639.5 1306.3 1641.7 1297 1643.8 1297.3 1645.9 1286 1648 1285.5 1650.1 1284.2 1652.2 1277.2 1654.3 1270.4 1656.4 1260.2 1658.5 1258.9 1660.6 1258.8 1662.8 1254.2 1664.9 1251.7 1667 1241.2 1669.1 1239.4 1671.2 1234.3 1673.3 1233.4 1675.4 1226.8 1677.5 1224.8 1679.6 1219.5 1681.7 1217.5 1683.8 1213.7 1686 1209.3 1688.1 1209.2 1690.2 1205.3 1692.3 1209.4 1694.4 1196.1 1696.5 1197.1 1698.6 1194 1700.7 1187.9 1702.8 1186.8 1704.9 1187.3 1707.1 1183 1709.2 1179.8 1711.3 1177.4 1713.4 1174.8 1715.5 1173.9 1717.6 1166.1 1719.7 1166.5 1721.8 1167 1723.9 1160.7 1726 1159.6 1728.2 1160.3 1730.3 1157.6 1732.4 1156.9 1734.5 1155.8 1736.6 1151.8 1738.7 1153.3 1740.8 1147.5 1742.9 1146.6 1745 1148.3 1747.2 1146.7 1749.3 1140.8 1751.4 1142.1 1753.5 1143.3 1755.6 1139.1 1757.7 1134.2 1759.8 1139 1761.9 1135 1764 1135.7 1766.1 1138.4 1768.3 1137 1770.4 1138.4 1772.5 1130.5 1774.6 1133.9 1776.7 1135.1 1778.8 1132.1 1780.9 1134.5 1783 1132.4 1785.1 1132.2 1787.2 1132.1 1789.3 1133 1791.5 1136.3 1793.6 1131.7 1795.7 1133.7 1797.8 1133.2 1799.9 1128.8 1802 1129.9 1804.1 1125.9 1806.2 1130.3 1808.3 1128.6 1810.4 1129.5 1812.6 1133.7 1814.7 1130.4 1816.8 1128.9 1818.9 1130.8 1821 1130.4 1823.1 1128.4 1825.2 1133.5 1827.3 1132.4 1829.4 1128.4 1831.5 1131.9 1833.7 1134 1835.8 1130.9 1837.9 1134.6 1840 1128.3 1842.1 1129.1 1844.2 1128.5 1846.3 1128.3 1848.4 1128.4 1850.5 1126.2 1852.7 1124.3 1854.8 1120.8 1856.9 1120.8 1859 1122.5 1861.1 1119.5 1863.2 1111.6 1865.3 1110.7 1867.4 1099.5 1869.5 1093.5 1871.6 1089.9 1873.8 1083.6 1875.9 1080.9 1878 1078.6 1880.1 1067.7 1882.2 1054.5 1884.3 1039 1886.4 1012.4 1888.5 994 1890.6 974.9 1892.7 942 1894.8 862.3 1897 762 1899.1 603.8 1901.2 462.5 1903.3 510.1 1905.4 690.9 1907.5 810 1909.6 894.1 1911.7 957.9 1913.8 990.4 1915.9 1022.1 1918.1 1042.4 1920.2 1060.1 1922.3 1083 1924.4 1109.4 1926.5 1120.6 1928.6 1133.4 1930.7 1147.4 1932.8 1164.2 1934.9 1174.4 1937 1182.3 1939.2 1191.9 1941.3 1204.6 1943.4 1211.4 1945.5 1218.5 1947.6 1220.8 1949.7 1237.8 1951.8 1245.7 1953.9 1255.6 1956 1265.2 1958.2 1279.3 1960.3 1291.3 1962.4 1296.1 1964.5 1317.8 1966.6 1316.8 1968.7 1327 1970.8 1344.4 1972.9 1352.4 1975 1355.2 1977.1 1361.2 1979.3 1369.4 1981.4 1377.8 1983.5 1389.1 1985.6 1396.7 1987.7 1400.2 1989.8 1419.5 1991.9 1436.3 1994 1417.4 1996.1 1441 1998.2 1453.9 2000.3 1446.3 2002.5 1438.1 2004.6 1463 2006.7 1471.8 2008.8 1467.9 2010.9 1461.7 2013 1461.8 2015.1 1503.1 2017.2 1491.9 2019.3 1500 2021.4 1495 2023.6 1492.5 2025.7 1508.7 2027.8 1503.1 2029.9 1503.6 2032 1487.1 2034.1 1480.5 2036.2 1465.5 2038.3 1472.1 2040.4 1489.8 2042.5 1468 2044.7 1458.4 2046.8 1462.2 2048.9 1453.1 2051 1451.3 2053.1 1466.7 2055.2 1465.4 2057.3 1464.1 2059.4 1452.8 2061.5 1453.9 2063.7 1462.4 2065.8 1443.1 2067.9 1459.5 2070 1449.8 2072.1 1439.7 2074.2 1447.8 2076.3 1438.9 2078.4 1443.9 2080.5 1459.4 2082.6 1438 2084.8 1430.5 2086.9 1458.9 2089 1461.9 2091.1 1473.4 2093.2 1449.1 2095.3 1452.7 2097.4 1453.7 2099.5 1450.3 2101.6 1473 2103.7 1466.8 2105.8 1469.8 2108 1451 2110.1 1459.9 2112.2 1469.9 2114.3 1466.7 2116.4 1468.2 2118.5 1488.8 2120.6 1457.5 2122.7 1499.4 2124.8 1496.8 2126.9 1507.5 2129.1 1489.4 2131.2 1485 2133.3 1490.4 2135.4 1491.6 2137.5 1499.3 2139.6 1530.7 2141.7 1505.6 2143.8 1522.4 2145.9 1527.4 2148.1 1528.9 2150.2 1510.4 2152.3 1523.6 2154.4 1521.1 2156.5 1525.6 2158.6 1506.4 2160.7 1506.9 2162.8 1512.5 2164.9 1501.9 2167 1520.1 2169.2 1517.8 2171.3 1555 2173.4 1498.2 2175.5 1538.7 2177.6 1537.6 2179.7 1533 2181.8 1572.7 2183.9 1543.4 2186 1536.9 2188.1 1532.9 2190.3 1529.3 2192.4 1533.8 2194.5 1524.8 2196.6 1544.6 2198.7 1540.9 2200.8 1533.3" fill="none" stroke="#FF0000" stroke-width="1.0" stroke-linejoin="round" marker-start="url(#dR)" marker-mid="url(#dR)" marker-end="url(#dR)"/><path d="M1356.8 1515.9L1358.9 1499 1361 1519.7 1363.1 1514.9 1365.2 1517.4 1367.3 1526.3 1369.5 1525.6 1371.6 1513 1373.7 1494.9 1375.8 1523.4 1377.9 1502.3 1380 1496.1 1382.1 1503.5 1384.2 1508.4 1386.3 1491.1 1388.4 1507.6 1390.6 1494.3 1392.7 1515.2 1394.8 1492.4 1396.9 1473.9 1399 1487 1401.1 1501.4 1403.2 1496.3 1405.3 1485.2 1407.4 1469.4 1409.5 1483.3 1411.7 1464.6 1413.8 1487.7 1415.9 1490.5 1418 1479.4 1420.1 1473.6 1422.2 1458.2 1424.3 1478.3 1426.4 1484.9 1428.5 1473.1 1430.7 1445.4 1432.8 1462.5 1434.9 1455.9 1437 1467.6 1439.1 1458.9 1441.2 1451.8 1443.3 1458.4 1445.4 1438.2 1447.5 1461.2 1449.6 1438.7 1451.8 1434.5 1453.9 1440.6 1456 1430 1458.1 1442 1460.2 1454 1462.3 1436 1464.4 1442.6 1466.5 1432.4 1468.6 1440.6 1470.7 1437.7 1472.8 1437.6 1475 1439 1477.1 1453.9 1479.2 1436.8 1481.3 1431.9 1483.4 1430.7 1485.5 1433.9 1487.6 1450.6 1489.7 1440.9 1491.8 1444.6 1493.9 1444.9 1496.1 1431.6 1498.2 1418.2 1500.3 1447.3 1502.4 1445.1 1504.5 1449.9 1506.6 1445.2 1508.7 1454.9 1510.8 1430.2 1512.9 1461.4 1515 1446.8 1517.2 1439.7 1519.3 1449.3 1521.4 1445.5 1523.5 1443.1 1525.6 1460.7 1527.7 1447 1529.8 1447 1531.9 1460.3 1534 1439.9 1536.2 1442.7 1538.3 1451.7 1540.4 1449.2 1542.5 1459 1544.6 1442.8 1546.7 1444.8 1548.8 1447.1 1550.9 1452.4 1553 1449.9 1555.1 1427.4 1557.3 1450.6 1559.4 1436 1561.5 1419.7 1563.6 1438.3 1565.7 1421.7 1567.8 1411.4 1569.9 1408.7 1572 1394.3 1574.1 1397.2 1576.2 1373.1 1578.3 1390.9 1580.5 1381.2 1582.6 1364.6 1584.7 1356.4 1586.8 1356 1588.9 1361.5 1591 1358.8 1593.1 1358.7 1595.2 1345.8 1597.3 1350.4 1599.4 1343.5 1601.6 1331.5 1603.7 1327.1 1605.8 1326 1607.9 1320.4 1610 1315.1 1612.1 1314.7 1614.2 1311.8 1616.3 1309.7 1618.4 1302.3 1620.5 1295.7 1622.7 1295 1624.8 1285.5 1626.9 1289.8 1629 1279.6 1631.1 1277.2 1633.2 1275.1 1635.3 1275.6 1637.4 1269.6 1639.5 1265.1 1641.7 1264.4 1643.8 1261.3 1645.9 1257.4 1648 1253.6 1650.1 1257.5 1652.2 1256.3 1654.3 1252.8 1656.4 1250.4 1658.5 1242.2 1660.6 1241.9 1662.8 1234.5 1664.9 1234.8 1667 1233.5 1669.1 1230.9 1671.2 1229 1673.3 1223 1675.4 1221.7 1677.5 1216.6 1679.6 1216.3 1681.7 1215.1 1683.8 1207.2 1686 1207.3 1688.1 1203.4 1690.2 1201.1 1692.3 1200 1694.4 1196.4 1696.5 1192.1 1698.6 1196.5 1700.7 1192.9 1702.8 1186 1704.9 1187.7 1707.1 1185.2 1709.2 1182.2 1711.3 1178.7 1713.4 1179.7 1715.5 1182.6 1717.6 1175.3 1719.7 1171.6 1721.8 1173.2 1723.9 1168.1 1726 1173.7 1728.2 1171.3 1730.3 1169.8 1732.4 1165.7 1734.5 1165.2 1736.6 1161.6 1738.7 1160.8 1740.8 1163.9 1742.9 1161.6 1745 1162.8 1747.2 1159 1749.3 1156.7 1751.4 1158.9 1753.5 1155.5 1755.6 1159.9 1757.7 1158.7 1759.8 1156.2 1761.9 1152.7 1764 1152.4 1766.1 1154.7 1768.3 1154.9 1770.4 1155.8 1772.5 1150.8 1774.6 1153.5 1776.7 1151.7 1778.8 1150.2 1780.9 1150.8 1783 1148.1 1785.1 1152.5 1787.2 1148.7 1789.3 1151.2 1791.5 1148.4 1793.6 1149 1795.7 1150.2 1797.8 1148.4 1799.9 1149.4 1802 1150.7 1804.1 1150.8 1806.2 1146.2 1808.3 1144.1 1810.4 1150.4 1812.6 1148.1 1814.7 1145.9 1816.8 1145.3 1818.9 1146.8 1821 1151.1 1823.1 1146.1 1825.2 1148.3 1827.3 1150.6 1829.4 1147.3 1831.5 1144 1833.7 1146.4 1835.8 1145.4 1837.9 1142.3 1840 1143.6 1842.1 1141.1 1844.2 1141.2 1846.3 1138.1 1848.4 1137.4 1850.5 1132.1 1852.7 1135.2 1854.8 1128.4 1856.9 1125.2 1859 1119.1 1861.1 1114.6 1863.2 1109.2 1865.3 1103.1 1867.4 1098.4 1869.5 1087.6 1871.6 1080.9 1873.8 1066.3 1875.9 1045.8 1878 1027.6 1880.1 1003.7 1882.2 972 1884.3 930.4 1886.4 885.1 1888.5 836.1 1890.6 777.3 1892.7 698.1 1894.8 617.3 1897 541.9 1899.1 482.6 1901.2 455.9 1903.3 463.1 1905.4 500.8 1907.5 563 1909.6 638 1911.7 713.7 1913.8 782.7 1915.9 836.9 1918.1 879.9 1920.2 913.4 1922.3 948.2 1924.4 969.3 1926.5 988 1928.6 1004.2 1930.7 1018.8 1932.8 1031.1 1934.9 1047.5 1937 1071.7 1939.2 1098.6 1941.3 1125.3 1943.4 1150.5 1945.5 1167.5 1947.6 1184 1949.7 1201 1951.8 1216.9 1953.9 1232.9 1956 1241.8 1958.2 1253.2 1960.3 1268 1962.4 1266.3 1964.5 1281.7 1966.6 1280.7 1968.7 1290.1 1970.8 1296.1 1972.9 1310.1 1975 1314.7 1977.1 1321.2 1979.3 1317.5 1981.4 1320.9 1983.5 1351.1 1985.6 1351.3 1987.7 1370.7 1989.8 1375.2 1991.9 1387.6 1994 1393.7 1996.1 1396.1 1998.2 1410.6 2000.3 1426.1 2002.5 1421.5 2004.6 1441.4 2006.7 1450.2 2008.8 1425 2010.9 1458.1 2013 1463.3 2015.1 1430.7 2017.2 1446.4 2019.3 1459.5 2021.4 1440.6 2023.6 1440 2025.7 1440.2 2027.8 1440.7 2029.9 1455.9 2032 1466.9 2034.1 1464.8 2036.2 1459.5 2038.3 1442.6 2040.4 1471 2042.5 1460.7 2044.7 1465.9 2046.8 1446.4 2048.9 1455.4 2051 1460.5 2053.1 1449.1 2055.2 1465.1 2057.3 1463.8 2059.4 1442.7 2061.5 1458.5 2063.7 1441.9 2065.8 1449.4 2067.9 1438.6 2070 1432.4 2072.1 1447.3 2074.2 1449 2076.3 1436.2 2078.4 1436.2 2080.5 1434.2 2082.6 1447.2 2084.8 1441 2086.9 1434.9 2089 1440.7 2091.1 1442.6 2093.2 1444.3 2095.3 1432.6 2097.4 1434.7 2099.5 1431.4 2101.6 1442.2 2103.7 1435.6 2105.8 1444.6 2108 1432.5 2110.1 1436.2 2112.2 1441.6 2114.3 1455.2 2116.4 1440.4 2118.5 1449.9 2120.6 1447.6 2122.7 1445.4 2124.8 1440.2 2126.9 1451 2129.1 1449.1 2131.2 1450.8 2133.3 1468.1 2135.4 1459.4 2137.5 1457.7 2139.6 1452.6 2141.7 1463.4 2143.8 1450.6 2145.9 1478.2 2148.1 1464 2150.2 1472 2152.3 1452 2154.4 1469.5 2156.5 1470.9 2158.6 1477.3 2160.7 1483.5 2162.8 1476.9 2164.9 1478.5 2167 1488.7 2169.2 1475.9 2171.3 1473.3 2173.4 1461.9 2175.5 1481.5 2177.6 1491.2 2179.7 1476.1 2181.8 1477.1 2183.9 1482.5 2186 1488.1 2188.1 1493.3 2190.3 1487.6 2192.4 1492.6 2194.5 1483.7 2196.6 1504.3 2198.7 1501.9 2200.8 1492.6" fill="none" stroke="#FFE600" stroke-width="1.0" stroke-linejoin="round" marker-start="url(#dY)" marker-mid="url(#dY)" marker-end="url(#dY)"/><path d="M1356.8 1507.1L1358.9 1539.2 1361 1509.9 1363.1 1547.2 1365.2 1531.4 1367.3 1524.6 1369.5 1522.4 1371.6 1507 1373.7 1530.5 1375.8 1516.6 1377.9 1544 1380 1528.6 1382.1 1514.5 1384.2 1506.2 1386.3 1521.1 1388.4 1520.1 1390.6 1535.1 1392.7 1518.9 1394.8 1575.1 1396.9 1505.4 1399 1505.8 1401.1 1511.7 1403.2 1513.2 1405.3 1520.7 1407.4 1506.5 1409.5 1514.9 1411.7 1506.5 1413.8 1522.9 1415.9 1503.3 1418 1497 1420.1 1476.6 1422.2 1491.2 1424.3 1464.8 1426.4 1497.7 1428.5 1486.3 1430.7 1473 1432.8 1476.8 1434.9 1481.3 1437 1477.9 1439.1 1480.4 1441.2 1463.2 1443.3 1468.2 1445.4 1455.2 1447.5 1453.8 1449.6 1454 1451.8 1444.4 1453.9 1449.7 1456 1454.7 1458.1 1457.6 1460.2 1461 1462.3 1447.3 1464.4 1439 1466.5 1454.4 1468.6 1456.1 1470.7 1445.9 1472.8 1436.4 1475 1461.1 1477.1 1434.9 1479.2 1462.8 1481.3 1446.1 1483.4 1442.5 1485.5 1435.2 1487.6 1432.5 1489.7 1446.6 1491.8 1445.4 1493.9 1444.4 1496.1 1456.9 1498.2 1444.7 1500.3 1457 1502.4 1456.5 1504.5 1459.3 1506.6 1472.5 1508.7 1458.5 1510.8 1449.5 1512.9 1470.2 1515 1482.5 1517.2 1464.1 1519.3 1475.8 1521.4 1486.7 1523.5 1493.5 1525.6 1473.7 1527.7 1467.8 1529.8 1462.9 1531.9 1485 1534 1466.8 1536.2 1483.5 1538.3 1487.3 1540.4 1478.3 1542.5 1474.9 1544.6 1462 1546.7 1468.5 1548.8 1468.8 1550.9 1463.5 1553 1478.7 1555.1 1461.7 1557.3 1491.5 1559.4 1475 1561.5 1453.8 1563.6 1462.7 1565.7 1467.5 1567.8 1458.6 1569.9 1464.2 1572 1472.6 1574.1 1473.2 1576.2 1443.2 1578.3 1458 1580.5 1445.3 1582.6 1437.4 1584.7 1417.3 1586.8 1431.3 1588.9 1404.7 1591 1427.2 1593.1 1403.6 1595.2 1412.9 1597.3 1409.2 1599.4 1397 1601.6 1394.5 1603.7 1387.6 1605.8 1400.3 1607.9 1379 1610 1366.4 1612.1 1363.3 1614.2 1357.3 1616.3 1343.8 1618.4 1340 1620.5 1341.1 1622.7 1322.1 1624.8 1324.8 1626.9 1324.6 1629 1316.7 1631.1 1312.5 1633.2 1307.8 1635.3 1300.8 1637.4 1290.1 1639.5 1291.2 1641.7 1284.9 1643.8 1277.3 1645.9 1278.5 1648 1270.8 1650.1 1265.1 1652.2 1266.7 1654.3 1256.9 1656.4 1255.1 1658.5 1254.3 1660.6 1247.3 1662.8 1236 1664.9 1245.4 1667 1241.9 1669.1 1240.9 1671.2 1235.5 1673.3 1234.6 1675.4 1233.5 1677.5 1224.9 1679.6 1227.6 1681.7 1224 1683.8 1220.3 1686 1218.1 1688.1 1209.5 1690.2 1211.7 1692.3 1206.3 1694.4 1202 1696.5 1199.2 1698.6 1200.1 1700.7 1195.4 1702.8 1190.4 1704.9 1194 1707.1 1186.3 1709.2 1185.8 1711.3 1184.1 1713.4 1182.3 1715.5 1176.7 1717.6 1178.6 1719.7 1176.2 1721.8 1178.1 1723.9 1175.8 1726 1174.4 1728.2 1171.6 1730.3 1172.8 1732.4 1173.5 1734.5 1170.5 1736.6 1171.4 1738.7 1166.6 1740.8 1165.8 1742.9 1166.9 1745 1165.3 1747.2 1162.8 1749.3 1164.3 1751.4 1167.2 1753.5 1161 1755.6 1161 1757.7 1164.8 1759.8 1163.6 1761.9 1161 1764 1164.3 1766.1 1161.1 1768.3 1159 1770.4 1158.2 1772.5 1157.4 1774.6 1156.4 1776.7 1151.9 1778.8 1156.4 1780.9 1159.1 1783 1152.4 1785.1 1159.5 1787.2 1155.6 1789.3 1159.1 1791.5 1158.2 1793.6 1156.7 1795.7 1154.5 1797.8 1158.4 1799.9 1157.2 1802 1157.1 1804.1 1158.7 1806.2 1158.3 1808.3 1159.2 1810.4 1159.4 1812.6 1159.4 1814.7 1159.5 1816.8 1158.3 1818.9 1155.3 1821 1160.1 1823.1 1158.2 1825.2 1160.7 1827.3 1161.1 1829.4 1158.9 1831.5 1157.9 1833.7 1159.5 1835.8 1160.9 1837.9 1158.3 1840 1155.4 1842.1 1159.4 1844.2 1159.4 1846.3 1157.2 1848.4 1158 1850.5 1156.9 1852.7 1156.3 1854.8 1153.6 1856.9 1148.2 1859 1147.5 1861.1 1143.2 1863.2 1135.4 1865.3 1130.3 1867.4 1119.9 1869.5 1115.1 1871.6 1104.1 1873.8 1099.9 1875.9 1090.5 1878 1081.9 1880.1 1068.8 1882.2 1055.6 1884.3 1037.9 1886.4 1012.9 1888.5 995.3 1890.6 973.8 1892.7 936.3 1894.8 861.5 1897 763.1 1899.1 602.6 1901.2 464 1903.3 511.3 1905.4 685.9 1907.5 811.1 1909.6 899.1 1911.7 960.3 1913.8 993.9 1915.9 1022.9 1918.1 1044 1920.2 1063.4 1922.3 1082.5 1924.4 1107.3 1926.5 1122.4 1928.6 1135.6 1930.7 1149.2 1932.8 1163.1 1934.9 1173.2 1937 1181.1 1939.2 1195.3 1941.3 1200.1 1943.4 1209.5 1945.5 1220 1947.6 1230.4 1949.7 1237.9 1951.8 1245.5 1953.9 1254.6 1956 1270.2 1958.2 1277.9 1960.3 1287.5 1962.4 1296.4 1964.5 1307.9 1966.6 1318.4 1968.7 1322.9 1970.8 1335 1972.9 1341.6 1975 1355.7 1977.1 1362.2 1979.3 1359 1981.4 1376.6 1983.5 1384.9 1985.6 1376.7 1987.7 1377.5 1989.8 1392.9 1991.9 1403.7 1994 1407.5 1996.1 1422.6 1998.2 1431.3 2000.3 1430 2002.5 1436.2 2004.6 1423.9 2006.7 1435.2 2008.8 1446 2010.9 1437.6 2013 1436 2015.1 1434 2017.2 1446.7 2019.3 1444.1 2021.4 1461 2023.6 1459.5 2025.7 1458.5 2027.8 1448.4 2029.9 1456.5 2032 1459.1 2034.1 1451.8 2036.2 1468.4 2038.3 1451.3 2040.4 1441.2 2042.5 1445.7 2044.7 1473.2 2046.8 1461.8 2048.9 1460 2051 1462.3 2053.1 1475.8 2055.2 1455.9 2057.3 1462.4 2059.4 1468.1 2061.5 1466.2 2063.7 1449.5 2065.8 1467.2 2067.9 1461.9 2070 1441.5 2072.1 1447.2 2074.2 1456.6 2076.3 1455 2078.4 1454.8 2080.5 1449.6 2082.6 1464.3 2084.8 1470.7 2086.9 1454.5 2089 1464.6 2091.1 1462.9 2093.2 1453.9 2095.3 1476.7 2097.4 1474.7 2099.5 1473.8 2101.6 1466.9 2103.7 1469.8 2105.8 1463.7 2108 1472.3 2110.1 1491 2112.2 1479.8 2114.3 1475.2 2116.4 1479.6 2118.5 1475.9 2120.6 1493 2122.7 1476.4 2124.8 1498.4 2126.9 1495 2129.1 1474.9 2131.2 1488.9 2133.3 1490.9 2135.4 1487.9 2137.5 1507.1 2139.6 1508.5 2141.7 1494.7 2143.8 1502.1 2145.9 1491.4 2148.1 1508 2150.2 1501.8 2152.3 1539.4 2154.4 1515.7 2156.5 1540.2 2158.6 1550.5 2160.7 1531 2162.8 1514.3 2164.9 1523.5 2167 1534.4 2169.2 1524.4 2171.3 1579.2 2173.4 1534.8 2175.5 1565.8 2177.6 1525 2179.7 1569.3 2181.8 1559.7 2183.9 1531.8 2186 1524.8 2188.1 1542.9 2190.3 1569.7 2192.4 1573.6 2194.5 1549.9 2196.6 1557.5 2198.7 1531.6 2200.8 1561" fill="none" stroke="#00FF00" stroke-width="1.0" stroke-linejoin="round" marker-start="url(#dG)" marker-mid="url(#dG)" marker-end="url(#dG)"/><path d="M1356.8 1509.1L1358.9 1525.6 1361 1521.6 1363.1 1521.6 1365.2 1516.6 1367.3 1518 1369.5 1511.2 1371.6 1532.3 1373.7 1528.3 1375.8 1499.1 1377.9 1501.3 1380 1517.9 1382.1 1529.4 1384.2 1498.1 1386.3 1508.7 1388.4 1525.3 1390.6 1502.7 1392.7 1500 1394.8 1502.8 1396.9 1504.9 1399 1484.4 1401.1 1508.6 1403.2 1498.1 1405.3 1506.3 1407.4 1511 1409.5 1495.6 1411.7 1491.7 1413.8 1489 1415.9 1486.6 1418 1513.8 1420.1 1469.3 1422.2 1482.5 1424.3 1483.2 1426.4 1481.1 1428.5 1479.9 1430.7 1476.9 1432.8 1469.2 1434.9 1459.2 1437 1457.3 1439.1 1465.7 1441.2 1459.8 1443.3 1441.5 1445.4 1437.5 1447.5 1450.7 1449.6 1439 1451.8 1423.6 1453.9 1426.6 1456 1438.5 1458.1 1435.9 1460.2 1436.8 1462.3 1427.3 1464.4 1423.2 1466.5 1432.7 1468.6 1438.9 1470.7 1437.4 1472.8 1450.9 1475 1453.2 1477.1 1438.5 1479.2 1438.4 1481.3 1437.3 1483.4 1448.3 1485.5 1441.5 1487.6 1438.3 1489.7 1434 1491.8 1442 1493.9 1443.5 1496.1 1437.3 1498.2 1445.7 1500.3 1433.8 1502.4 1450 1504.5 1453 1506.6 1451.7 1508.7 1457.2 1510.8 1453.6 1512.9 1460 1515 1454.9 1517.2 1470 1519.3 1467.7 1521.4 1464.7 1523.5 1466.1 1525.6 1447.6 1527.7 1459.2 1529.8 1464.9 1531.9 1470.1 1534 1469.4 1536.2 1455.2 1538.3 1478 1540.4 1495.4 1542.5 1468 1544.6 1481.5 1546.7 1482.9 1548.8 1460.7 1550.9 1495.5 1553 1475.3 1555.1 1468.1 1557.3 1468.4 1559.4 1468.7 1561.5 1468.5 1563.6 1462.5 1565.7 1448.4 1567.8 1435.3 1569.9 1435.6 1572 1448.4 1574.1 1417.9 1576.2 1424.6 1578.3 1405.3 1580.5 1404.1 1582.6 1415.5 1584.7 1398 1586.8 1389.3 1588.9 1388.6 1591 1389.7 1593.1 1370.8 1595.2 1369.3 1597.3 1375.4 1599.4 1367.8 1601.6 1365.3 1603.7 1371.4 1605.8 1350.2 1607.9 1347.5 1610 1338.4 1612.1 1341.1 1614.2 1330.9 1616.3 1329.8 1618.4 1317.2 1620.5 1307.9 1622.7 1310.2 1624.8 1302.1 1626.9 1306 1629 1296.7 1631.1 1293.1 1633.2 1281.3 1635.3 1277.9 1637.4 1277 1639.5 1277.4 1641.7 1269.4 1643.8 1270.1 1645.9 1264.6 1648 1262.5 1650.1 1260.5 1652.2 1257.9 1654.3 1254.8 1656.4 1251.1 1658.5 1245 1660.6 1237.5 1662.8 1237 1664.9 1231.8 1667 1238.5 1669.1 1228.8 1671.2 1228.5 1673.3 1225.5 1675.4 1219.1 1677.5 1220.1 1679.6 1217.7 1681.7 1213.4 1683.8 1213 1686 1209.8 1688.1 1204.8 1690.2 1201.6 1692.3 1199.5 1694.4 1198.6 1696.5 1197.5 1698.6 1193.3 1700.7 1192.1 1702.8 1186.4 1704.9 1187.1 1707.1 1188.4 1709.2 1185 1711.3 1181.5 1713.4 1180 1715.5 1175.5 1717.6 1177.6 1719.7 1173 1721.8 1174.5 1723.9 1172.5 1726 1173.9 1728.2 1173.3 1730.3 1167.9 1732.4 1167.8 1734.5 1171.3 1736.6 1161.8 1738.7 1167.4 1740.8 1162.7 1742.9 1167 1745 1165.5 1747.2 1166.1 1749.3 1164.3 1751.4 1159.2 1753.5 1161.7 1755.6 1158.9 1757.7 1160.4 1759.8 1162.2 1761.9 1159.5 1764 1156.1 1766.1 1164.4 1768.3 1159.9 1770.4 1160.6 1772.5 1156.5 1774.6 1160.3 1776.7 1155.2 1778.8 1159.3 1780.9 1159.8 1783 1156.8 1785.1 1157.2 1787.2 1156.3 1789.3 1154.1 1791.5 1158.5 1793.6 1158.9 1795.7 1157.6 1797.8 1155.7 1799.9 1161.1 1802 1160.4 1804.1 1166.3 1806.2 1165 1808.3 1164.4 1810.4 1163.1 1812.6 1163.4 1814.7 1162.6 1816.8 1166.4 1818.9 1166.4 1821 1161.2 1823.1 1162.3 1825.2 1167 1827.3 1166.9 1829.4 1166.2 1831.5 1163.9 1833.7 1161.5 1835.8 1157.3 1837.9 1165.1 1840 1163.3 1842.1 1160.8 1844.2 1162.3 1846.3 1158.3 1848.4 1158.1 1850.5 1158.5 1852.7 1151.6 1854.8 1147.7 1856.9 1145.9 1859 1147.9 1861.1 1143.1 1863.2 1133.3 1865.3 1127.3 1867.4 1123.7 1869.5 1119.2 1871.6 1113 1873.8 1101.9 1875.9 1094.5 1878 1087.5 1880.1 1071.9 1882.2 1057.1 1884.3 1036.5 1886.4 1017 1888.5 995.1 1890.6 973.6 1892.7 941.6 1894.8 862 1897 760.2 1899.1 605.5 1901.2 464.5 1903.3 509.5 1905.4 688.7 1907.5 811.7 1909.6 900.4 1911.7 956.5 1913.8 991 1915.9 1019.3 1918.1 1046.5 1920.2 1061.9 1922.3 1080.7 1924.4 1110.8 1926.5 1123.3 1928.6 1132.8 1930.7 1148 1932.8 1162.7 1934.9 1174.5 1937 1185.5 1939.2 1195.4 1941.3 1202.2 1943.4 1209.9 1945.5 1221 1947.6 1229.3 1949.7 1233.5 1951.8 1240.2 1953.9 1255.4 1956 1262.6 1958.2 1278.6 1960.3 1289.1 1962.4 1291.3 1964.5 1297.4 1966.6 1315.6 1968.7 1321.7 1970.8 1337.4 1972.9 1344.1 1975 1346.8 1977.1 1355.8 1979.3 1364.1 1981.4 1376.6 1983.5 1375.3 1985.6 1388.7 1987.7 1393.9 1989.8 1397 1991.9 1400.7 1994 1411.3 1996.1 1427.3 1998.2 1427.8 2000.3 1426 2002.5 1439.7 2004.6 1429 2006.7 1437.1 2008.8 1432.9 2010.9 1433.3 2013 1449.6 2015.1 1451.6 2017.2 1438.1 2019.3 1456.7 2021.4 1467.5 2023.6 1451.8 2025.7 1437.1 2027.8 1447 2029.9 1463.7 2032 1444.8 2034.1 1440.4 2036.2 1461.4 2038.3 1448.5 2040.4 1453.4 2042.5 1433.1 2044.7 1435.5 2046.8 1433.3 2048.9 1450.9 2051 1438.7 2053.1 1448.1 2055.2 1456.8 2057.3 1446.5 2059.4 1431.1 2061.5 1433.3 2063.7 1439.6 2065.8 1452.8 2067.9 1453 2070 1453.7 2072.1 1429.6 2074.2 1451.7 2076.3 1452.6 2078.4 1456 2080.5 1452 2082.6 1458.6 2084.8 1457.5 2086.9 1455.7 2089 1476.2 2091.1 1455.8 2093.2 1459.9 2095.3 1455 2097.4 1441.6 2099.5 1477.4 2101.6 1466.7 2103.7 1486.7 2105.8 1453.8 2108 1466.1 2110.1 1471.6 2112.2 1481.8 2114.3 1469.3 2116.4 1482.3 2118.5 1496.8 2120.6 1492.2 2122.7 1493.1 2124.8 1496.1 2126.9 1501.5 2129.1 1496.3 2131.2 1502.9 2133.3 1522.2 2135.4 1500.2 2137.5 1501.5 2139.6 1509.5 2141.7 1509.6 2143.8 1510.9 2145.9 1527.4 2148.1 1513.6 2150.2 1535.6 2152.3 1535.8 2154.4 1532.1 2156.5 1522.8 2158.6 1520.3 2160.7 1547.5 2162.8 1521 2164.9 1548.5 2167 1544.6 2169.2 1527.4 2171.3 1520.1 2173.4 1545 2175.5 1524.5 2177.6 1528.3 2179.7 1526.6 2181.8 1530.3 2183.9 1529.2 2186 1523.9 2188.1 1531.1 2190.3 1549.1 2192.4 1537.2 2194.5 1538.3 2196.6 1529.6 2198.7 1558.5 2200.8 1534.4" fill="none" stroke="#3300FF" stroke-width="1.0" stroke-linejoin="round" marker-start="url(#dB)" marker-mid="url(#dB)" marker-end="url(#dB)"/></g>
<rect x="1839.2" y="85" width="5.6" height="679" fill="#000"/><rect x="1900.2" y="953" width="5.7" height="679" fill="#000"/>
<path d="M358.77 762.80v-12.0M358.77 86.10v12.0M479.34 762.80v-12.0M479.34 86.10v12.0M599.91 762.80v-12.0M599.91 86.10v12.0M720.48 762.80v-12.0M720.48 86.10v12.0M841.05 762.80v-12.0M841.05 86.10v12.0M961.62 762.80v-12.0M961.62 86.10v12.0M239.60 733.50h12.0M1080.80 733.50h-12.0M239.60 631.95h12.0M1080.80 631.95h-12.0M239.60 530.40h12.0M1080.80 530.40h-12.0M239.60 428.85h12.0M1080.80 428.85h-12.0M239.60 327.30h12.0M1080.80 327.30h-12.0M239.60 225.75h12.0M1080.80 225.75h-12.0M239.60 124.20h12.0M1080.80 124.20h-12.0" stroke="#465A61" stroke-width="3.5" fill="none"/><path d="M298.49 762.80v-5.5M298.49 86.10v5.5M419.06 762.80v-5.5M419.06 86.10v5.5M539.62 762.80v-5.5M539.62 86.10v5.5M660.19 762.80v-5.5M660.19 86.10v5.5M780.77 762.80v-5.5M780.77 86.10v5.5M901.34 762.80v-5.5M901.34 86.10v5.5M1021.90 762.80v-5.5M1021.90 86.10v5.5M239.60 756.03h5.5M1080.80 756.03h-5.5M239.60 749.23h5.5M1080.80 749.23h-5.5M239.60 743.34h5.5M1080.80 743.34h-5.5M239.60 738.15h5.5M1080.80 738.15h-5.5M239.60 702.93h5.5M1080.80 702.93h-5.5M239.60 685.05h5.5M1080.80 685.05h-5.5M239.60 672.36h5.5M1080.80 672.36h-5.5M239.60 662.52h5.5M1080.80 662.52h-5.5M239.60 654.48h5.5M1080.80 654.48h-5.5M239.60 647.68h5.5M1080.80 647.68h-5.5M239.60 641.79h5.5M1080.80 641.79h-5.5M239.60 636.60h5.5M1080.80 636.60h-5.5M239.60 601.38h5.5M1080.80 601.38h-5.5M239.60 583.50h5.5M1080.80 583.50h-5.5M239.60 570.81h5.5M1080.80 570.81h-5.5M239.60 560.97h5.5M1080.80 560.97h-5.5M239.60 552.93h5.5M1080.80 552.93h-5.5M239.60 546.13h5.5M1080.80 546.13h-5.5M239.60 540.24h5.5M1080.80 540.24h-5.5M239.60 535.05h5.5M1080.80 535.05h-5.5M239.60 499.83h5.5M1080.80 499.83h-5.5M239.60 481.95h5.5M1080.80 481.95h-5.5M239.60 469.26h5.5M1080.80 469.26h-5.5M239.60 459.42h5.5M1080.80 459.42h-5.5M239.60 451.38h5.5M1080.80 451.38h-5.5M239.60 444.58h5.5M1080.80 444.58h-5.5M239.60 438.69h5.5M1080.80 438.69h-5.5M239.60 433.50h5.5M1080.80 433.50h-5.5M239.60 398.28h5.5M1080.80 398.28h-5.5M239.60 380.40h5.5M1080.80 380.40h-5.5M239.60 367.71h5.5M1080.80 367.71h-5.5M239.60 357.87h5.5M1080.80 357.87h-5.5M239.60 349.83h5.5M1080.80 349.83h-5.5M239.60 343.03h5.5M1080.80 343.03h-5.5M239.60 337.14h5.5M1080.80 337.14h-5.5M239.60 331.95h5.5M1080.80 331.95h-5.5M239.60 296.73h5.5M1080.80 296.73h-5.5M239.60 278.85h5.5M1080.80 278.85h-5.5M239.60 266.16h5.5M1080.80 266.16h-5.5M239.60 256.32h5.5M1080.80 256.32h-5.5M239.60 248.28h5.5M1080.80 248.28h-5.5M239.60 241.48h5.5M1080.80 241.48h-5.5M239.60 235.59h5.5M1080.80 235.59h-5.5M239.60 230.40h5.5M1080.80 230.40h-5.5M239.60 195.18h5.5M1080.80 195.18h-5.5M239.60 177.30h5.5M1080.80 177.30h-5.5M239.60 164.61h5.5M1080.80 164.61h-5.5M239.60 154.77h5.5M1080.80 154.77h-5.5M239.60 146.73h5.5M1080.80 146.73h-5.5M239.60 139.93h5.5M1080.80 139.93h-5.5M239.60 134.04h5.5M1080.80 134.04h-5.5M239.60 128.85h5.5M1080.80 128.85h-5.5M239.60 93.63h5.5M1080.80 93.63h-5.5" stroke="#465A61" stroke-width="2.6" fill="none"/><rect x="238.00" y="84.50" width="844.40" height="679.90" fill="none" stroke="#465A61" stroke-width="3.2" stroke-linejoin="miter" stroke-linecap="square"/><path d="M1450.70 762.90v-12.0M1450.70 86.10v12.0M1638.30 762.90v-12.0M1638.30 86.10v12.0M1825.90 762.90v-12.0M1825.90 86.10v12.0M2013.50 762.90v-12.0M2013.50 86.10v12.0M1358.20 733.50h12.0M2199.40 733.50h-12.0M1358.20 631.95h12.0M2199.40 631.95h-12.0M1358.20 530.40h12.0M2199.40 530.40h-12.0M1358.20 428.85h12.0M2199.40 428.85h-12.0M1358.20 327.30h12.0M2199.40 327.30h-12.0M1358.20 225.75h12.0M2199.40 225.75h-12.0M1358.20 124.20h12.0M2199.40 124.20h-12.0" stroke="#465A61" stroke-width="3.5" fill="none"/><path d="M1544.50 762.90v-5.5M1544.50 86.10v5.5M1732.10 762.90v-5.5M1732.10 86.10v5.5M1919.70 762.90v-5.5M1919.70 86.10v5.5M2107.30 762.90v-5.5M2107.30 86.10v5.5M1358.20 756.03h5.5M2199.40 756.03h-5.5M1358.20 749.23h5.5M2199.40 749.23h-5.5M1358.20 743.34h5.5M2199.40 743.34h-5.5M1358.20 738.15h5.5M2199.40 738.15h-5.5M1358.20 702.93h5.5M2199.40 702.93h-5.5M1358.20 685.05h5.5M2199.40 685.05h-5.5M1358.20 672.36h5.5M2199.40 672.36h-5.5M1358.20 662.52h5.5M2199.40 662.52h-5.5M1358.20 654.48h5.5M2199.40 654.48h-5.5M1358.20 647.68h5.5M2199.40 647.68h-5.5M1358.20 641.79h5.5M2199.40 641.79h-5.5M1358.20 636.60h5.5M2199.40 636.60h-5.5M1358.20 601.38h5.5M2199.40 601.38h-5.5M1358.20 583.50h5.5M2199.40 583.50h-5.5M1358.20 570.81h5.5M2199.40 570.81h-5.5M1358.20 560.97h5.5M2199.40 560.97h-5.5M1358.20 552.93h5.5M2199.40 552.93h-5.5M1358.20 546.13h5.5M2199.40 546.13h-5.5M1358.20 540.24h5.5M2199.40 540.24h-5.5M1358.20 535.05h5.5M2199.40 535.05h-5.5M1358.20 499.83h5.5M2199.40 499.83h-5.5M1358.20 481.95h5.5M2199.40 481.95h-5.5M1358.20 469.26h5.5M2199.40 469.26h-5.5M1358.20 459.42h5.5M2199.40 459.42h-5.5M1358.20 451.38h5.5M2199.40 451.38h-5.5M1358.20 444.58h5.5M2199.40 444.58h-5.5M1358.20 438.69h5.5M2199.40 438.69h-5.5M1358.20 433.50h5.5M2199.40 433.50h-5.5M1358.20 398.28h5.5M2199.40 398.28h-5.5M1358.20 380.40h5.5M2199.40 380.40h-5.5M1358.20 367.71h5.5M2199.40 367.71h-5.5M1358.20 357.87h5.5M2199.40 357.87h-5.5M1358.20 349.83h5.5M2199.40 349.83h-5.5M1358.20 343.03h5.5M2199.40 343.03h-5.5M1358.20 337.14h5.5M2199.40 337.14h-5.5M1358.20 331.95h5.5M2199.40 331.95h-5.5M1358.20 296.73h5.5M2199.40 296.73h-5.5M1358.20 278.85h5.5M2199.40 278.85h-5.5M1358.20 266.16h5.5M2199.40 266.16h-5.5M1358.20 256.32h5.5M2199.40 256.32h-5.5M1358.20 248.28h5.5M2199.40 248.28h-5.5M1358.20 241.48h5.5M2199.40 241.48h-5.5M1358.20 235.59h5.5M2199.40 235.59h-5.5M1358.20 230.40h5.5M2199.40 230.40h-5.5M1358.20 195.18h5.5M2199.40 195.18h-5.5M1358.20 177.30h5.5M2199.40 177.30h-5.5M1358.20 164.61h5.5M2199.40 164.61h-5.5M1358.20 154.77h5.5M2199.40 154.77h-5.5M1358.20 146.73h5.5M2199.40 146.73h-5.5M1358.20 139.93h5.5M2199.40 139.93h-5.5M1358.20 134.04h5.5M2199.40 134.04h-5.5M1358.20 128.85h5.5M2199.40 128.85h-5.5M1358.20 93.63h5.5M2199.40 93.63h-5.5" stroke="#465A61" stroke-width="2.6" fill="none"/><rect x="1356.60" y="84.50" width="844.40" height="680.00" fill="none" stroke="#465A61" stroke-width="3.2" stroke-linejoin="miter" stroke-linecap="square"/><path d="M358.77 1630.80v-12.0M358.77 954.00v12.0M479.34 1630.80v-12.0M479.34 954.00v12.0M599.91 1630.80v-12.0M599.91 954.00v12.0M720.48 1630.80v-12.0M720.48 954.00v12.0M841.05 1630.80v-12.0M841.05 954.00v12.0M961.62 1630.80v-12.0M961.62 954.00v12.0M239.50 1555.70h12.0M1080.80 1555.70h-12.0M239.50 1480.30h12.0M1080.80 1480.30h-12.0M239.50 1404.90h12.0M1080.80 1404.90h-12.0M239.50 1329.50h12.0M1080.80 1329.50h-12.0M239.50 1254.10h12.0M1080.80 1254.10h-12.0M239.50 1178.70h12.0M1080.80 1178.70h-12.0M239.50 1103.30h12.0M1080.80 1103.30h-12.0M239.50 1027.90h12.0M1080.80 1027.90h-12.0" stroke="#465A61" stroke-width="3.5" fill="none"/><path d="M298.49 1630.80v-5.5M298.49 954.00v5.5M419.06 1630.80v-5.5M419.06 954.00v5.5M539.62 1630.80v-5.5M539.62 954.00v5.5M660.19 1630.80v-5.5M660.19 954.00v5.5M780.77 1630.80v-5.5M780.77 954.00v5.5M901.34 1630.80v-5.5M901.34 954.00v5.5M1021.90 1630.80v-5.5M1021.90 954.00v5.5M239.50 1608.40h5.5M1080.80 1608.40h-5.5M239.50 1595.13h5.5M1080.80 1595.13h-5.5M239.50 1585.70h5.5M1080.80 1585.70h-5.5M239.50 1578.40h5.5M1080.80 1578.40h-5.5M239.50 1572.43h5.5M1080.80 1572.43h-5.5M239.50 1567.38h5.5M1080.80 1567.38h-5.5M239.50 1563.01h5.5M1080.80 1563.01h-5.5M239.50 1559.15h5.5M1080.80 1559.15h-5.5M239.50 1533.00h5.5M1080.80 1533.00h-5.5M239.50 1519.73h5.5M1080.80 1519.73h-5.5M239.50 1510.30h5.5M1080.80 1510.30h-5.5M239.50 1503.00h5.5M1080.80 1503.00h-5.5M239.50 1497.03h5.5M1080.80 1497.03h-5.5M239.50 1491.98h5.5M1080.80 1491.98h-5.5M239.50 1487.61h5.5M1080.80 1487.61h-5.5M239.50 1483.75h5.5M1080.80 1483.75h-5.5M239.50 1457.60h5.5M1080.80 1457.60h-5.5M239.50 1444.33h5.5M1080.80 1444.33h-5.5M239.50 1434.90h5.5M1080.80 1434.90h-5.5M239.50 1427.60h5.5M1080.80 1427.60h-5.5M239.50 1421.63h5.5M1080.80 1421.63h-5.5M239.50 1416.58h5.5M1080.80 1416.58h-5.5M239.50 1412.21h5.5M1080.80 1412.21h-5.5M239.50 1408.35h5.5M1080.80 1408.35h-5.5M239.50 1382.20h5.5M1080.80 1382.20h-5.5M239.50 1368.93h5.5M1080.80 1368.93h-5.5M239.50 1359.50h5.5M1080.80 1359.50h-5.5M239.50 1352.20h5.5M1080.80 1352.20h-5.5M239.50 1346.23h5.5M1080.80 1346.23h-5.5M239.50 1341.18h5.5M1080.80 1341.18h-5.5M239.50 1336.81h5.5M1080.80 1336.81h-5.5M239.50 1332.95h5.5M1080.80 1332.95h-5.5M239.50 1306.80h5.5M1080.80 1306.80h-5.5M239.50 1293.53h5.5M1080.80 1293.53h-5.5M239.50 1284.10h5.5M1080.80 1284.10h-5.5M239.50 1276.80h5.5M1080.80 1276.80h-5.5M239.50 1270.83h5.5M1080.80 1270.83h-5.5M239.50 1265.78h5.5M1080.80 1265.78h-5.5M239.50 1261.41h5.5M1080.80 1261.41h-5.5M239.50 1257.55h5.5M1080.80 1257.55h-5.5M239.50 1231.40h5.5M1080.80 1231.40h-5.5M239.50 1218.13h5.5M1080.80 1218.13h-5.5M239.50 1208.70h5.5M1080.80 1208.70h-5.5M239.50 1201.40h5.5M1080.80 1201.40h-5.5M239.50 1195.43h5.5M1080.80 1195.43h-5.5M239.50 1190.38h5.5M1080.80 1190.38h-5.5M239.50 1186.01h5.5M1080.80 1186.01h-5.5M239.50 1182.15h5.5M1080.80 1182.15h-5.5M239.50 1156.00h5.5M1080.80 1156.00h-5.5M239.50 1142.73h5.5M1080.80 1142.73h-5.5M239.50 1133.30h5.5M1080.80 1133.30h-5.5M239.50 1126.00h5.5M1080.80 1126.00h-5.5M239.50 1120.03h5.5M1080.80 1120.03h-5.5M239.50 1114.98h5.5M1080.80 1114.98h-5.5M239.50 1110.61h5.5M1080.80 1110.61h-5.5M239.50 1106.75h5.5M1080.80 1106.75h-5.5M239.50 1080.60h5.5M1080.80 1080.60h-5.5M239.50 1067.33h5.5M1080.80 1067.33h-5.5M239.50 1057.90h5.5M1080.80 1057.90h-5.5M239.50 1050.60h5.5M1080.80 1050.60h-5.5M239.50 1044.63h5.5M1080.80 1044.63h-5.5M239.50 1039.58h5.5M1080.80 1039.58h-5.5M239.50 1035.21h5.5M1080.80 1035.21h-5.5M239.50 1031.35h5.5M1080.80 1031.35h-5.5M239.50 1005.20h5.5M1080.80 1005.20h-5.5M239.50 991.93h5.5M1080.80 991.93h-5.5M239.50 982.50h5.5M1080.80 982.50h-5.5M239.50 975.20h5.5M1080.80 975.20h-5.5M239.50 969.23h5.5M1080.80 969.23h-5.5M239.50 964.18h5.5M1080.80 964.18h-5.5M239.50 959.81h5.5M1080.80 959.81h-5.5M239.50 955.95h5.5M1080.80 955.95h-5.5" stroke="#465A61" stroke-width="2.6" fill="none"/><rect x="237.90" y="952.40" width="844.50" height="680.00" fill="none" stroke="#465A61" stroke-width="3.2" stroke-linejoin="miter" stroke-linecap="square"/><path d="M1462.30 1630.90v-12.0M1462.30 954.10v12.0M1673.30 1630.90v-12.0M1673.30 954.10v12.0M1884.30 1630.90v-12.0M1884.30 954.10v12.0M2095.30 1630.90v-12.0M2095.30 954.10v12.0M1358.10 1530.90h12.0M2199.40 1530.90h-12.0M1358.10 1338.40h12.0M2199.40 1338.40h-12.0M1358.10 1145.90h12.0M2199.40 1145.90h-12.0" stroke="#465A61" stroke-width="3.5" fill="none"/><path d="M1567.80 1630.90v-5.5M1567.80 954.10v5.5M1778.80 1630.90v-5.5M1778.80 954.10v5.5M1989.80 1630.90v-5.5M1989.80 954.10v5.5M1358.10 1607.50h5.5M2199.40 1607.50h-5.5M1358.10 1588.85h5.5M2199.40 1588.85h-5.5M1358.10 1573.61h5.5M2199.40 1573.61h-5.5M1358.10 1560.72h5.5M2199.40 1560.72h-5.5M1358.10 1549.56h5.5M2199.40 1549.56h-5.5M1358.10 1539.71h5.5M2199.40 1539.71h-5.5M1358.10 1472.95h5.5M2199.40 1472.95h-5.5M1358.10 1439.05h5.5M2199.40 1439.05h-5.5M1358.10 1415.00h5.5M2199.40 1415.00h-5.5M1358.10 1396.35h5.5M2199.40 1396.35h-5.5M1358.10 1381.11h5.5M2199.40 1381.11h-5.5M1358.10 1368.22h5.5M2199.40 1368.22h-5.5M1358.10 1357.06h5.5M2199.40 1357.06h-5.5M1358.10 1347.21h5.5M2199.40 1347.21h-5.5M1358.10 1280.45h5.5M2199.40 1280.45h-5.5M1358.10 1246.55h5.5M2199.40 1246.55h-5.5M1358.10 1222.50h5.5M2199.40 1222.50h-5.5M1358.10 1203.85h5.5M2199.40 1203.85h-5.5M1358.10 1188.61h5.5M2199.40 1188.61h-5.5M1358.10 1175.72h5.5M2199.40 1175.72h-5.5M1358.10 1164.56h5.5M2199.40 1164.56h-5.5M1358.10 1154.71h5.5M2199.40 1154.71h-5.5M1358.10 1087.95h5.5M2199.40 1087.95h-5.5M1358.10 1054.05h5.5M2199.40 1054.05h-5.5M1358.10 1030.00h5.5M2199.40 1030.00h-5.5M1358.10 1011.35h5.5M2199.40 1011.35h-5.5M1358.10 996.11h5.5M2199.40 996.11h-5.5M1358.10 983.22h5.5M2199.40 983.22h-5.5M1358.10 972.06h5.5M2199.40 972.06h-5.5M1358.10 962.21h5.5M2199.40 962.21h-5.5" stroke="#465A61" stroke-width="2.6" fill="none"/><rect x="1356.50" y="952.50" width="844.50" height="680.00" fill="none" stroke="#465A61" stroke-width="3.2" stroke-linejoin="miter" stroke-linecap="square"/>
<rect x="261.3" y="104.5" width="268.2" height="225.7" fill="#fff" stroke="#000" stroke-width="1.3"/><path d="M266.3 134.5H316.4H366.9" stroke="#0078FF" stroke-width="1.2" fill="none" marker-mid="url(#aB)"/><path d="M266.3 189.5H316.4H366.9" stroke="#00FF00" stroke-width="1.2" fill="none" marker-mid="url(#aG)"/><path d="M266.3 244.5H316.4H366.9" stroke="#FFE600" stroke-width="1.2" fill="none" marker-mid="url(#aY)"/><path d="M266.3 299.5H316.4H366.9" stroke="#FF0000" stroke-width="1.2" fill="none" marker-mid="url(#aR)"/><rect x="1373.2" y="97.4" width="268.5" height="226.1" fill="#fff" stroke="#000" stroke-width="1.3"/><path d="M1379 128.3H1428.9H1480" stroke="#2C00FF" stroke-width="1.2" fill="none" marker-mid="url(#bB)"/><path d="M1379 183.3H1428.9H1480" stroke="#00FF00" stroke-width="1.2" fill="none" marker-mid="url(#bG)"/><path d="M1379 238.3H1428.9H1480" stroke="#FFE600" stroke-width="1.2" fill="none" marker-mid="url(#bY)"/><path d="M1379 293.3H1428.9H1480" stroke="#FF0000" stroke-width="1.2" fill="none" marker-mid="url(#bR)"/><rect x="240.3" y="971.7" width="296.2" height="224.6" fill="#fff" stroke="#000" stroke-width="1.3"/><path d="M245.4 1001.8H295.6H345.6" stroke="#FF0000" stroke-width="1.2" fill="none" marker-mid="url(#cR)"/><path d="M245.4 1056.6H295.6H345.6" stroke="#FFE600" stroke-width="1.2" fill="none" marker-mid="url(#cY)"/><path d="M245.4 1111.4H295.6H345.6" stroke="#00FF00" stroke-width="1.2" fill="none" marker-mid="url(#cG)"/><path d="M245.4 1166.2H295.6H345.6" stroke="#3300FF" stroke-width="1.2" fill="none" marker-mid="url(#cB)"/><rect x="1354.4" y="971.3" width="296.4" height="225.1" fill="#fff" stroke="#000" stroke-width="1.3"/><path d="M1360.1 1001.4H1409.9H1460.9" stroke="#FF0000" stroke-width="1.2" fill="none" marker-mid="url(#dR)"/><path d="M1360.1 1056.3H1409.9H1460.9" stroke="#FFE600" stroke-width="1.2" fill="none" marker-mid="url(#dY)"/><path d="M1360.1 1111.3H1409.9H1460.9" stroke="#00FF00" stroke-width="1.2" fill="none" marker-mid="url(#dG)"/><path d="M1360.1 1166.2H1409.9H1460.9" stroke="#3300FF" stroke-width="1.2" fill="none" marker-mid="url(#dB)"/>
<text font-family="Liberation Sans" font-weight="bold" font-size="76" fill="#000" transform="matrix(1.1765 0 0 1.0141 16.29 69.77)">(a)</text><text font-family="Liberation Sans" font-weight="bold" font-size="76" fill="#000" transform="matrix(1.1236 0 0 1.0141 1133.51 69.77)">(b)</text><text font-family="Liberation Sans" font-weight="bold" font-size="76" fill="#000" transform="matrix(1.1529 0 0 1.0141 14.39 938.77)">(c)</text><text font-family="Liberation Sans" font-weight="bold" font-size="76" fill="#000" transform="matrix(1.1236 0 0 1.0141 1133.51 937.77)">(d)</text><text font-family="Liberation Sans" font-weight="bold" font-size="54" fill="#000" transform="matrix(1.0182 0 0 0.9974 623.86 166.90)">GGG</text><text font-family="Liberation Sans" font-weight="bold" font-size="54" fill="#000" transform="matrix(0.9908 0 0 0.9540 622.13 234.31)">(444)</text><text font-family="Liberation Sans" font-weight="bold" font-size="54" fill="#000" transform="matrix(1.0165 0 0 0.9974 322.87 422.70)">GGG</text><text font-family="Liberation Sans" font-weight="bold" font-size="54" fill="#000" transform="matrix(1.0000 0 0 0.9580 321.00 490.26)">(222)</text><text font-family="Liberation Sans" font-weight="bold" font-size="54" fill="#000" transform="matrix(1.0182 0 0 1.0000 908.76 420.00)">GGG</text><text font-family="Liberation Sans" font-weight="bold" font-size="54" fill="#000" transform="matrix(1.0000 0 0 0.9580 906.90 487.26)">(666)</text><text font-family="Liberation Sans" font-weight="bold" font-size="54" fill="#000" transform="matrix(1.0165 0 0 0.9949 1844.97 684.01)">GGG</text><text font-family="Liberation Sans" font-weight="bold" font-size="54" fill="#000" transform="matrix(1.0000 0 0 0.9560 1843.20 751.28)">(444)</text><text font-family="Liberation Sans" font-weight="bold" font-size="54" fill="#000" transform="matrix(1.0198 0 0 0.9974 625.76 1016.90)">GGG</text><text font-family="Liberation Sans" font-weight="bold" font-size="54" fill="#000" transform="matrix(1.0008 0 0 0.9540 623.90 1084.31)">(444)</text><text font-family="Liberation Sans" font-weight="bold" font-size="54" fill="#000" transform="matrix(1.0182 0 0 0.9974 315.86 1319.90)">GGG</text><text font-family="Liberation Sans" font-weight="bold" font-size="54" fill="#000" transform="matrix(0.9917 0 0 0.9600 314.02 1387.44)">(222)</text><text font-family="Liberation Sans" font-weight="bold" font-size="54" fill="#000" transform="matrix(1.0182 0 0 0.9974 911.86 1254.90)">GGG</text><text font-family="Liberation Sans" font-weight="bold" font-size="54" fill="#000" transform="matrix(0.9908 0 0 0.9560 910.03 1322.18)">(666)</text><text font-family="Liberation Sans" font-weight="bold" font-size="54" fill="#000" transform="matrix(1.0182 0 0 0.9949 1909.76 1543.91)">GGG</text><text font-family="Liberation Sans" font-weight="bold" font-size="54" fill="#000" transform="matrix(0.9992 0 0 0.9560 1908.30 1612.38)">(444)</text><text font-family="Liberation Sans" font-weight="bold" font-size="54" fill="#FF00FF" transform="matrix(1.0071 0 0 0.9800 1635.09 366.12)">GdIG</text><text font-family="Liberation Sans" font-weight="bold" font-size="54" fill="#FF00FF" transform="matrix(0.9933 0 0 0.9620 1632.82 433.42)">(444)</text><text font-family="Liberation Sans" font-weight="bold" font-size="54" fill="#FF00FF" transform="matrix(1.0118 0 0 0.9275 1701.58 1032.87)">GdIG</text><text font-family="Liberation Sans" font-weight="bold" font-size="54" fill="#FF00FF" transform="matrix(1.0133 0 0 0.9280 1699.36 1101.19)">(444)</text><text font-family="Liberation Sans" stroke="#fff" stroke-width="1.3" stroke-linejoin="round" font-size="44" fill="#465A61" transform="matrix(0 -1.0134 1.0103 0 111.92 552.85)">intensity (a.u.)</text><text font-family="Liberation Sans" stroke="#fff" stroke-width="1.3" stroke-linejoin="round" font-size="44" fill="#465A61" transform="matrix(0 -1.0134 1.0103 0 1232.82 552.85)">intensity (a.u.)</text><text font-family="Liberation Sans" stroke="#fff" stroke-width="1.3" stroke-linejoin="round" font-size="44" fill="#465A61" transform="matrix(0 -1.0134 1.0077 0 186.24 1434.75)">intensity (a.u.)</text><text font-family="Liberation Sans" stroke="#fff" stroke-width="1.3" stroke-linejoin="round" font-size="44" fill="#465A61" transform="matrix(0 -1.0134 0.9949 0 1304.84 1434.75)">intensity (a.u.)</text><text font-family="Liberation Sans" stroke="#fff" stroke-width="1.3" stroke-linejoin="round" font-size="44" fill="#465A61" transform="matrix(1.0665 0 0 1.0000 531.00 885.80)">2 θ (degree)</text><text font-family="Liberation Sans" stroke="#fff" stroke-width="1.3" stroke-linejoin="round" font-size="44" fill="#465A61" transform="matrix(1.0579 0 0 1.0077 1649.93 885.84)">2 θ (degree)</text><text font-family="Liberation Sans" stroke="#fff" stroke-width="1.3" stroke-linejoin="round" font-size="44" fill="#465A61" transform="matrix(1.0644 0 0 1.0000 530.81 1738.50)">2 θ (degree)</text><text font-family="Liberation Sans" stroke="#fff" stroke-width="1.3" stroke-linejoin="round" font-size="44" fill="#465A61" transform="matrix(1.0579 0 0 1.0000 1649.93 1737.00)">2 θ (degree)</text><text font-family="Liberation Sans" stroke="#fff" stroke-width="1.3" stroke-linejoin="round" font-size="44" fill="#465A61" transform="matrix(0.9250 0 0 1.1034 379.12 152.00)">750</text><text font-family="Noto Serif CJK SC" font-size="44" fill="#465A61" transform="matrix(0.9216 0 0 0.7971 458.24 149.00)">℃</text><text font-family="Liberation Sans" stroke="#fff" stroke-width="1.3" stroke-linejoin="round" font-size="44" fill="#465A61" transform="matrix(0.9676 0 0 1.1034 376.10 207.10)">800</text><text font-family="Noto Serif CJK SC" font-size="44" fill="#465A61" transform="matrix(0.9216 0 0 0.7971 458.24 204.00)">℃</text><text font-family="Liberation Sans" stroke="#fff" stroke-width="1.3" stroke-linejoin="round" font-size="44" fill="#465A61" transform="matrix(0.9691 0 0 1.1034 375.99 263.00)">900</text><text font-family="Noto Serif CJK SC" font-size="44" fill="#465A61" transform="matrix(0.9216 0 0 0.8000 458.24 260.20)">℃</text><text font-family="Liberation Sans" stroke="#fff" stroke-width="1.3" stroke-linejoin="round" font-size="44" fill="#465A61" transform="matrix(0.9098 0 0 1.0897 380.46 317.79)">1000</text><text font-family="Noto Serif CJK SC" font-size="44" fill="#465A61" transform="matrix(0.9216 0 0 0.8057 481.34 315.39)">℃</text><text font-family="Liberation Sans" stroke="#fff" stroke-width="1.3" stroke-linejoin="round" font-size="44" fill="#465A61" transform="matrix(0.9250 0 0 1.1034 1491.12 145.50)">750</text><text font-family="Noto Serif CJK SC" font-size="44" fill="#465A61" transform="matrix(0.9216 0 0 0.7971 1570.24 142.50)">℃</text><text font-family="Liberation Sans" stroke="#fff" stroke-width="1.3" stroke-linejoin="round" font-size="44" fill="#465A61" transform="matrix(0.9676 0 0 1.1034 1488.10 200.60)">800</text><text font-family="Noto Serif CJK SC" font-size="44" fill="#465A61" transform="matrix(0.9216 0 0 0.7971 1570.24 197.50)">℃</text><text font-family="Liberation Sans" stroke="#fff" stroke-width="1.3" stroke-linejoin="round" font-size="44" fill="#465A61" transform="matrix(0.9691 0 0 1.1034 1487.99 256.50)">900</text><text font-family="Noto Serif CJK SC" font-size="44" fill="#465A61" transform="matrix(0.9216 0 0 0.8000 1570.24 253.70)">℃</text><text font-family="Liberation Sans" stroke="#fff" stroke-width="1.3" stroke-linejoin="round" font-size="44" fill="#465A61" transform="matrix(0.9098 0 0 1.0897 1492.46 311.29)">1000</text><text font-family="Noto Serif CJK SC" font-size="44" fill="#465A61" transform="matrix(0.9216 0 0 0.8057 1593.34 308.89)">℃</text><text font-family="Liberation Sans" stroke="#fff" stroke-width="1.3" stroke-linejoin="round" font-size="44" fill="#465A61" transform="matrix(0.9838 0 0 1.1000 354.95 1019.00)">800</text><text font-family="Noto Serif CJK SC" font-size="44" fill="#465A61" transform="matrix(0.9216 0 0 0.7971 426.24 1016.20)">℃</text><text font-family="Liberation Sans" stroke="#fff" stroke-width="1.3" stroke-linejoin="round" font-size="44" fill="#465A61" transform="matrix(1.0351 0 0 1.0633 465.89 1018.96)">-1h</text><text font-family="Liberation Sans" stroke="#fff" stroke-width="1.3" stroke-linejoin="round" font-size="44" fill="#465A61" transform="matrix(0.9426 0 0 1.1000 357.87 1073.80)">750</text><text font-family="Noto Serif CJK SC" font-size="44" fill="#465A61" transform="matrix(0.9216 0 0 0.7971 426.24 1071.00)">℃</text><text font-family="Liberation Sans" stroke="#fff" stroke-width="1.3" stroke-linejoin="round" font-size="44" fill="#465A61" transform="matrix(1.0351 0 0 1.0633 465.89 1073.76)">-2h</text><text font-family="Liberation Sans" stroke="#fff" stroke-width="1.3" stroke-linejoin="round" font-size="44" fill="#465A61" transform="matrix(0.9426 0 0 1.1000 357.87 1128.60)">650</text><text font-family="Noto Serif CJK SC" font-size="44" fill="#465A61" transform="matrix(0.9216 0 0 0.7971 426.24 1125.80)">℃</text><text font-family="Liberation Sans" stroke="#fff" stroke-width="1.3" stroke-linejoin="round" font-size="44" fill="#465A61" transform="matrix(1.0351 0 0 1.0633 465.89 1128.56)">-2h</text><text font-family="Liberation Sans" stroke="#fff" stroke-width="1.3" stroke-linejoin="round" font-size="44" fill="#465A61" transform="matrix(0.9426 0 0 1.1000 357.87 1183.40)">650</text><text font-family="Noto Serif CJK SC" font-size="44" fill="#465A61" transform="matrix(0.9216 0 0 0.7971 426.24 1180.60)">℃</text><text font-family="Liberation Sans" stroke="#fff" stroke-width="1.3" stroke-linejoin="round" font-size="44" fill="#465A61" transform="matrix(1.0351 0 0 1.0633 465.89 1183.36)">-4h</text><text font-family="Liberation Sans" stroke="#fff" stroke-width="1.3" stroke-linejoin="round" font-size="44" fill="#465A61" transform="matrix(0.9838 0 0 1.1000 1469.55 1019.00)">800</text><text font-family="Noto Serif CJK SC" font-size="44" fill="#465A61" transform="matrix(0.9216 0 0 0.7971 1540.84 1016.20)">℃</text><text font-family="Liberation Sans" stroke="#fff" stroke-width="1.3" stroke-linejoin="round" font-size="44" fill="#465A61" transform="matrix(1.0351 0 0 1.0633 1580.49 1018.96)">-1h</text><text font-family="Liberation Sans" stroke="#fff" stroke-width="1.3" stroke-linejoin="round" font-size="44" fill="#465A61" transform="matrix(0.9426 0 0 1.1000 1472.47 1073.80)">750</text><text font-family="Noto Serif CJK SC" font-size="44" fill="#465A61" transform="matrix(0.9216 0 0 0.7971 1540.84 1071.00)">℃</text><text font-family="Liberation Sans" stroke="#fff" stroke-width="1.3" stroke-linejoin="round" font-size="44" fill="#465A61" transform="matrix(1.0351 0 0 1.0633 1580.49 1073.76)">-2h</text><text font-family="Liberation Sans" stroke="#fff" stroke-width="1.3" stroke-linejoin="round" font-size="44" fill="#465A61" transform="matrix(0.9426 0 0 1.1000 1472.47 1128.60)">650</text><text font-family="Noto Serif CJK SC" font-size="44" fill="#465A61" transform="matrix(0.9216 0 0 0.7971 1540.84 1125.80)">℃</text><text font-family="Liberation Sans" stroke="#fff" stroke-width="1.3" stroke-linejoin="round" font-size="44" fill="#465A61" transform="matrix(1.0351 0 0 1.0633 1580.49 1128.56)">-2h</text><text font-family="Liberation Sans" stroke="#fff" stroke-width="1.3" stroke-linejoin="round" font-size="44" fill="#465A61" transform="matrix(0.9426 0 0 1.1000 1472.47 1183.40)">650</text><text font-family="Noto Serif CJK SC" font-size="44" fill="#465A61" transform="matrix(0.9216 0 0 0.7971 1540.84 1180.60)">℃</text><text font-family="Liberation Sans" stroke="#fff" stroke-width="1.3" stroke-linejoin="round" font-size="44" fill="#465A61" transform="matrix(1.0351 0 0 1.0633 1580.49 1183.36)">-4h</text><text font-family="Liberation Sans" stroke="#fff" stroke-width="1.3" stroke-linejoin="round" font-size="44" text-anchor="end" fill="#465A61" transform="matrix(0.9588 0 0 1.0444 226.08 141.34)">10<tspan dy="-18" font-size="29">0</tspan></text><text font-family="Liberation Sans" stroke="#fff" stroke-width="1.3" stroke-linejoin="round" font-size="44" text-anchor="end" fill="#465A61" transform="matrix(0.9588 0 0 1.0444 226.08 242.89)">10<tspan dy="-18" font-size="29">-1</tspan></text><text font-family="Liberation Sans" stroke="#fff" stroke-width="1.3" stroke-linejoin="round" font-size="44" text-anchor="end" fill="#465A61" transform="matrix(0.9588 0 0 1.0444 226.08 344.44)">10<tspan dy="-18" font-size="29">-2</tspan></text><text font-family="Liberation Sans" stroke="#fff" stroke-width="1.3" stroke-linejoin="round" font-size="44" text-anchor="end" fill="#465A61" transform="matrix(0.9588 0 0 1.0444 226.08 445.99)">10<tspan dy="-18" font-size="29">-3</tspan></text><text font-family="Liberation Sans" stroke="#fff" stroke-width="1.3" stroke-linejoin="round" font-size="44" text-anchor="end" fill="#465A61" transform="matrix(0.9588 0 0 1.0444 226.08 547.54)">10<tspan dy="-18" font-size="29">-4</tspan></text><text font-family="Liberation Sans" stroke="#fff" stroke-width="1.3" stroke-linejoin="round" font-size="44" text-anchor="end" fill="#465A61" transform="matrix(0.9588 0 0 1.0444 226.08 649.09)">10<tspan dy="-18" font-size="29">-5</tspan></text><text font-family="Liberation Sans" stroke="#fff" stroke-width="1.3" stroke-linejoin="round" font-size="44" text-anchor="end" fill="#465A61" transform="matrix(0.9588 0 0 1.0444 226.08 750.64)">10<tspan dy="-18" font-size="29">-6</tspan></text><text font-family="Liberation Sans" stroke="#fff" stroke-width="1.3" stroke-linejoin="round" font-size="44" text-anchor="end" fill="#465A61" transform="matrix(0.9588 0 0 1.0444 1344.08 141.34)">10<tspan dy="-18" font-size="29">0</tspan></text><text font-family="Liberation Sans" stroke="#fff" stroke-width="1.3" stroke-linejoin="round" font-size="44" text-anchor="end" fill="#465A61" transform="matrix(0.9588 0 0 1.0444 1344.08 242.89)">10<tspan dy="-18" font-size="29">-1</tspan></text><text font-family="Liberation Sans" stroke="#fff" stroke-width="1.3" stroke-linejoin="round" font-size="44" text-anchor="end" fill="#465A61" transform="matrix(0.9588 0 0 1.0444 1344.08 344.44)">10<tspan dy="-18" font-size="29">-2</tspan></text><text font-family="Liberation Sans" stroke="#fff" stroke-width="1.3" stroke-linejoin="round" font-size="44" text-anchor="end" fill="#465A61" transform="matrix(0.9588 0 0 1.0444 1344.08 445.99)">10<tspan dy="-18" font-size="29">-3</tspan></text><text font-family="Liberation Sans" stroke="#fff" stroke-width="1.3" stroke-linejoin="round" font-size="44" text-anchor="end" fill="#465A61" transform="matrix(0.9588 0 0 1.0444 1344.08 547.54)">10<tspan dy="-18" font-size="29">-4</tspan></text><text font-family="Liberation Sans" stroke="#fff" stroke-width="1.3" stroke-linejoin="round" font-size="44" text-anchor="end" fill="#465A61" transform="matrix(0.9588 0 0 1.0444 1344.08 649.09)">10<tspan dy="-18" font-size="29">-5</tspan></text><text font-family="Liberation Sans" stroke="#fff" stroke-width="1.3" stroke-linejoin="round" font-size="44" text-anchor="end" fill="#465A61" transform="matrix(0.9588 0 0 1.0444 1344.08 750.64)">10<tspan dy="-18" font-size="29">-6</tspan></text><text font-family="Liberation Sans" stroke="#fff" stroke-width="1.3" stroke-linejoin="round" font-size="44" text-anchor="middle" fill="#465A61" transform="matrix(0.9773 0 0 1.0931 238.20 812.79)">20</text><text font-family="Liberation Sans" stroke="#fff" stroke-width="1.3" stroke-linejoin="round" font-size="44" text-anchor="middle" fill="#465A61" transform="matrix(0.9773 0 0 1.0931 358.77 812.79)">30</text><text font-family="Liberation Sans" stroke="#fff" stroke-width="1.3" stroke-linejoin="round" font-size="44" text-anchor="middle" fill="#465A61" transform="matrix(0.9773 0 0 1.0931 479.34 812.79)">40</text><text font-family="Liberation Sans" stroke="#fff" stroke-width="1.3" stroke-linejoin="round" font-size="44" text-anchor="middle" fill="#465A61" transform="matrix(0.9773 0 0 1.0931 599.91 812.79)">50</text><text font-family="Liberation Sans" stroke="#fff" stroke-width="1.3" stroke-linejoin="round" font-size="44" text-anchor="middle" fill="#465A61" transform="matrix(0.9773 0 0 1.0931 720.48 812.79)">60</text><text font-family="Liberation Sans" stroke="#fff" stroke-width="1.3" stroke-linejoin="round" font-size="44" text-anchor="middle" fill="#465A61" transform="matrix(0.9773 0 0 1.0931 841.05 812.79)">70</text><text font-family="Liberation Sans" stroke="#fff" stroke-width="1.3" stroke-linejoin="round" font-size="44" text-anchor="middle" fill="#465A61" transform="matrix(0.9773 0 0 1.0931 961.62 812.79)">80</text><text font-family="Liberation Sans" stroke="#fff" stroke-width="1.3" stroke-linejoin="round" font-size="44" text-anchor="middle" fill="#465A61" transform="matrix(0.9773 0 0 1.0931 1082.19 812.79)">90</text><text font-family="Liberation Sans" stroke="#fff" stroke-width="1.3" stroke-linejoin="round" font-size="44" text-anchor="middle" fill="#465A61" transform="matrix(0.9773 0 0 1.0931 1450.70 812.79)">49</text><text font-family="Liberation Sans" stroke="#fff" stroke-width="1.3" stroke-linejoin="round" font-size="44" text-anchor="middle" fill="#465A61" transform="matrix(0.9773 0 0 1.0931 1638.30 812.79)">50</text><text font-family="Liberation Sans" stroke="#fff" stroke-width="1.3" stroke-linejoin="round" font-size="44" text-anchor="middle" fill="#465A61" transform="matrix(0.9773 0 0 1.0931 1825.90 812.79)">51</text><text font-family="Liberation Sans" stroke="#fff" stroke-width="1.3" stroke-linejoin="round" font-size="44" text-anchor="middle" fill="#465A61" transform="matrix(0.9773 0 0 1.0931 2013.50 812.79)">52</text><text font-family="Liberation Sans" stroke="#fff" stroke-width="1.3" stroke-linejoin="round" font-size="44" text-anchor="middle" fill="#465A61" transform="matrix(0.9773 0 0 1.0931 2201.10 812.79)">53</text><text font-family="Liberation Sans" stroke="#fff" stroke-width="1.3" stroke-linejoin="round" font-size="44" text-anchor="middle" fill="#465A61" transform="matrix(0.9773 0 0 1.0931 238.20 1680.59)">20</text><text font-family="Liberation Sans" stroke="#fff" stroke-width="1.3" stroke-linejoin="round" font-size="44" text-anchor="middle" fill="#465A61" transform="matrix(0.9773 0 0 1.0931 358.77 1680.59)">30</text><text font-family="Liberation Sans" stroke="#fff" stroke-width="1.3" stroke-linejoin="round" font-size="44" text-anchor="middle" fill="#465A61" transform="matrix(0.9773 0 0 1.0931 479.34 1680.59)">40</text><text font-family="Liberation Sans" stroke="#fff" stroke-width="1.3" stroke-linejoin="round" font-size="44" text-anchor="middle" fill="#465A61" transform="matrix(0.9773 0 0 1.0931 599.91 1680.59)">50</text><text font-family="Liberation Sans" stroke="#fff" stroke-width="1.3" stroke-linejoin="round" font-size="44" text-anchor="middle" fill="#465A61" transform="matrix(0.9773 0 0 1.0931 720.48 1680.59)">60</text><text font-family="Liberation Sans" stroke="#fff" stroke-width="1.3" stroke-linejoin="round" font-size="44" text-anchor="middle" fill="#465A61" transform="matrix(0.9773 0 0 1.0931 841.05 1680.59)">70</text><text font-family="Liberation Sans" stroke="#fff" stroke-width="1.3" stroke-linejoin="round" font-size="44" text-anchor="middle" fill="#465A61" transform="matrix(0.9773 0 0 1.0931 961.62 1680.59)">80</text><text font-family="Liberation Sans" stroke="#fff" stroke-width="1.3" stroke-linejoin="round" font-size="44" text-anchor="middle" fill="#465A61" transform="matrix(0.9773 0 0 1.0931 1082.19 1680.59)">90</text><text font-family="Liberation Sans" stroke="#fff" stroke-width="1.3" stroke-linejoin="round" font-size="44" text-anchor="middle" fill="#465A61" transform="matrix(0.9773 0 0 1.0931 1462.30 1680.59)">49</text><text font-family="Liberation Sans" stroke="#fff" stroke-width="1.3" stroke-linejoin="round" font-size="44" text-anchor="middle" fill="#465A61" transform="matrix(0.9773 0 0 1.0931 1673.30 1680.59)">50</text><text font-family="Liberation Sans" stroke="#fff" stroke-width="1.3" stroke-linejoin="round" font-size="44" text-anchor="middle" fill="#465A61" transform="matrix(0.9773 0 0 1.0931 1884.30 1680.59)">51</text><text font-family="Liberation Sans" stroke="#fff" stroke-width="1.3" stroke-linejoin="round" font-size="44" text-anchor="middle" fill="#465A61" transform="matrix(0.9773 0 0 1.0931 2095.30 1680.59)">52</text>
</svg></body></html>
